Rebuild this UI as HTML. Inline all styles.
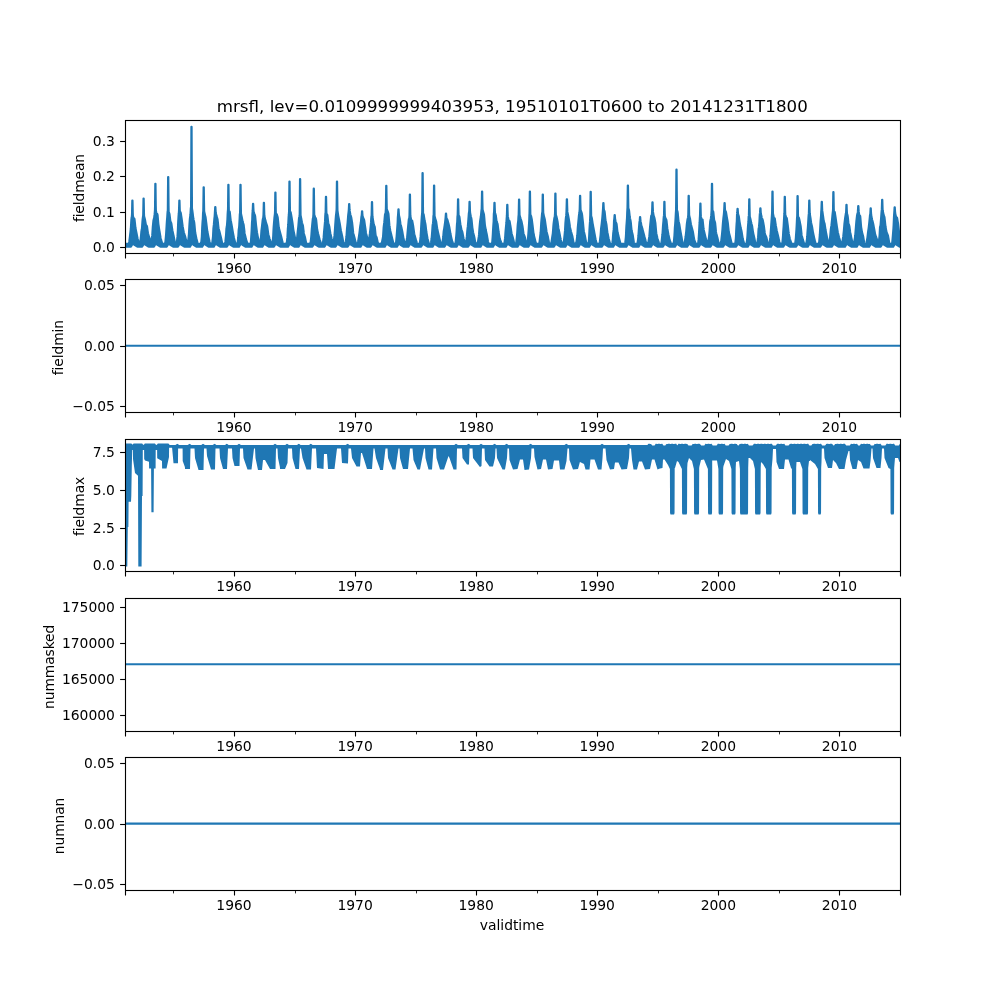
<!DOCTYPE html>
<html><head><meta charset="utf-8"><title>mrsfl</title>
<style>html,body{margin:0;padding:0;background:#fff}svg text{font-family:"DejaVu Sans", "Liberation Sans", sans-serif;fill:#000}</style>
</head><body>
<svg width="1000" height="1000" viewBox="0 0 1000 1000" style="display:block">
<rect width="1000" height="1000" fill="#fff"/>
<g clip-path="url(#c0)">
<clipPath id="c0"><rect x="125.0" y="120.00" width="775.0" height="132.76"/></clipPath>
<polygon points="125.00,243.91 125.20,243.91 125.40,243.91 125.60,243.91 125.80,243.91 126.00,243.91 126.20,243.91 126.40,243.91 126.60,243.91 126.80,243.91 127.00,243.91 127.20,243.91 127.40,243.91 127.60,243.91 127.80,243.91 128.00,243.91 128.20,243.91 128.40,243.84 128.60,243.54 128.80,243.24 129.00,242.94 129.20,241.89 129.40,240.37 129.60,238.84 129.80,237.32 130.00,235.68 130.20,233.98 130.40,232.25 130.60,230.48 130.80,228.71 131.00,225.45 131.20,222.10 131.40,218.89 131.60,218.10 131.80,216.56 131.95,214.84 132.00,213.57 132.20,204.31 132.28,200.61 132.40,200.61 132.52,200.61 132.60,204.12 132.80,212.89 132.90,215.34 133.00,215.86 133.20,216.89 133.40,217.93 133.60,218.97 133.80,219.11 134.00,218.94 134.20,218.77 134.40,218.60 134.60,219.63 134.80,221.55 135.00,223.47 135.20,225.38 135.40,227.30 135.60,228.40 135.80,229.39 136.00,230.37 136.20,231.36 136.40,232.36 136.60,233.39 136.80,234.42 137.00,235.45 137.20,236.47 137.40,237.50 137.60,238.53 137.80,239.26 138.00,239.97 138.20,240.67 138.40,241.38 138.60,242.08 138.80,242.79 139.00,243.21 139.20,243.51 139.40,243.79 139.60,243.55 139.80,243.31 140.00,243.07 140.20,242.02 140.40,240.54 140.60,239.06 140.80,237.58 141.00,235.70 141.20,233.31 141.40,231.11 141.60,230.20 141.80,229.29 142.00,227.51 142.20,224.61 142.40,221.72 142.60,219.37 142.80,217.93 143.00,216.51 143.15,215.45 143.20,214.12 143.40,202.96 143.48,198.50 143.60,198.50 143.72,198.50 143.80,202.70 144.00,213.19 144.10,216.01 144.20,216.40 144.40,217.19 144.60,217.98 144.80,218.77 145.00,219.56 145.20,220.70 145.40,221.84 145.60,222.98 145.80,224.12 146.00,224.96 146.20,225.21 146.40,225.45 146.60,225.70 146.80,225.95 147.00,226.29 147.20,227.71 147.40,229.13 147.60,230.55 147.80,231.98 148.00,233.40 148.20,234.16 148.40,234.78 148.60,235.41 148.80,236.03 149.00,236.65 149.20,237.28 149.40,237.90 149.60,238.57 149.80,239.25 150.00,239.93 150.20,240.61 150.40,241.29 150.60,241.97 150.80,242.65 151.00,242.41 151.20,241.98 151.40,240.76 151.60,239.48 151.80,238.21 152.00,236.94 152.20,235.67 152.40,232.67 152.60,229.56 152.80,226.66 153.00,224.63 153.20,222.60 153.40,220.59 153.60,219.85 153.80,219.11 154.00,218.38 154.20,217.32 154.40,215.74 154.60,214.15 154.80,211.83 154.95,209.55 155.00,207.40 155.20,190.48 155.28,183.72 155.40,183.72 155.52,183.72 155.60,190.03 155.80,205.83 155.90,210.08 156.00,210.69 156.20,211.91 156.40,213.14 156.60,214.36 156.80,214.60 157.00,214.43 157.20,214.26 157.40,214.10 157.60,215.15 157.80,217.37 158.00,219.59 158.20,221.81 158.40,224.03 158.60,225.50 158.80,226.78 159.00,228.05 159.20,229.33 159.40,230.60 159.60,231.77 159.80,232.95 160.00,234.12 160.20,235.30 160.40,236.47 160.60,237.65 160.80,238.49 161.00,239.24 161.20,239.98 161.40,240.73 161.60,241.48 161.80,242.23 162.00,242.75 162.20,243.04 162.40,243.32 162.60,243.61 162.80,243.82 163.00,243.85 163.20,243.88 163.40,243.91 163.60,243.91 163.80,243.91 164.00,243.91 164.20,243.91 164.40,243.91 164.60,243.91 164.80,243.66 165.00,243.19 165.20,242.71 165.40,241.58 165.60,239.42 165.80,237.25 166.00,235.09 166.20,232.01 166.40,228.87 166.60,225.46 166.80,222.06 167.00,219.61 167.20,217.28 167.40,214.03 167.60,211.42 167.75,211.07 167.80,208.74 168.00,186.09 168.08,177.03 168.20,177.03 168.32,177.03 168.40,185.42 168.60,206.41 168.70,211.79 168.80,212.07 169.00,212.62 169.20,213.16 169.40,213.71 169.60,214.71 169.80,216.31 170.00,217.91 170.20,219.51 170.40,221.07 170.60,221.56 170.80,222.04 171.00,222.52 171.20,223.01 171.40,223.58 171.60,224.93 171.80,226.29 172.00,227.64 172.20,229.00 172.40,230.28 172.60,231.20 172.80,232.11 173.00,233.03 173.20,233.95 173.40,234.87 173.60,235.79 173.80,236.75 174.00,237.75 174.20,238.75 174.40,239.74 174.60,240.74 174.80,241.74 175.00,242.72 175.20,243.01 175.40,243.29 175.60,243.58 175.80,243.86 176.00,243.91 176.20,243.91 176.40,243.60 176.60,243.04 176.80,242.48 177.00,240.84 177.20,238.89 177.40,236.94 177.60,234.22 177.80,231.09 178.00,226.11 178.20,221.33 178.40,218.19 178.60,215.06 178.80,213.21 178.95,210.90 179.00,209.79 179.20,203.23 179.28,200.61 179.40,200.61 179.52,200.61 179.60,203.16 179.80,209.51 179.90,211.19 180.00,211.38 180.20,211.75 180.40,212.12 180.60,212.49 180.80,212.91 181.00,214.24 181.20,215.56 181.40,216.88 181.60,218.20 181.80,219.60 182.00,221.10 182.20,222.60 182.40,224.10 182.60,225.60 182.80,227.00 183.00,228.06 183.20,229.12 183.40,230.18 183.60,231.24 183.80,232.30 184.00,232.91 184.20,233.51 184.40,234.11 184.60,234.72 184.80,235.32 185.00,235.92 185.20,236.54 185.40,237.36 185.60,238.17 185.80,238.99 186.00,239.81 186.20,240.63 186.40,241.44 186.60,242.22 186.80,242.59 187.00,242.97 187.20,243.35 187.40,243.52 187.60,242.97 187.80,242.42 188.00,241.86 188.20,240.40 188.40,238.85 188.60,237.30 188.80,235.75 189.00,232.39 189.20,228.43 189.40,224.98 189.60,222.10 189.80,219.21 190.00,217.54 190.20,216.12 190.40,214.70 190.60,211.54 190.80,207.95 191.00,207.47 191.05,207.34 191.20,175.04 191.38,126.69 191.40,126.69 191.60,126.69 191.62,126.69 191.80,171.04 192.00,208.32 192.20,209.64 192.40,210.97 192.60,212.29 192.80,213.86 193.00,215.51 193.20,217.17 193.40,218.82 193.60,219.72 193.80,220.53 194.00,221.33 194.20,222.13 194.40,223.73 194.60,225.95 194.80,228.17 195.00,230.39 195.20,232.32 195.40,233.33 195.60,234.34 195.80,235.35 196.00,236.35 196.20,237.36 196.40,238.28 196.60,239.09 196.80,239.90 197.00,240.71 197.20,241.52 197.40,242.34 197.60,242.78 197.80,243.06 198.00,243.35 198.20,243.63 198.40,243.74 198.60,243.83 198.80,243.91 199.00,243.91 199.20,243.91 199.40,243.91 199.60,243.91 199.80,243.91 200.00,243.91 200.20,243.91 200.40,243.91 200.60,243.91 200.80,243.71 201.00,243.01 201.20,242.31 201.40,240.78 201.60,238.81 201.80,236.83 202.00,232.28 202.20,227.15 202.40,223.77 202.60,220.88 202.80,219.07 203.00,213.24 203.20,211.24 203.25,210.74 203.40,201.16 203.58,187.24 203.60,187.24 203.80,187.24 203.82,187.24 204.00,200.25 204.20,211.33 204.40,212.24 204.60,213.15 204.80,214.05 205.00,214.88 205.20,215.69 205.40,216.49 205.60,217.29 205.80,218.84 206.00,220.48 206.20,222.11 206.40,223.75 206.60,225.36 206.80,226.95 207.00,228.55 207.20,230.14 207.40,231.58 207.60,232.57 207.80,233.56 208.00,234.55 208.20,235.54 208.40,236.53 208.60,237.47 208.80,238.34 209.00,239.21 209.20,240.08 209.40,240.95 209.60,241.83 209.80,242.42 210.00,242.90 210.20,243.38 210.40,243.86 210.60,243.91 210.80,243.91 211.00,243.91 211.20,243.91 211.40,243.91 211.60,243.87 211.80,243.56 212.00,243.26 212.20,242.96 212.40,241.57 212.60,239.92 212.80,238.27 213.00,236.25 213.20,232.07 213.40,228.28 213.60,226.61 213.80,224.94 214.00,222.68 214.20,220.28 214.40,218.03 214.60,216.59 214.80,213.46 214.85,212.67 215.00,210.10 215.18,206.95 215.20,206.95 215.40,206.95 215.42,206.95 215.60,210.16 215.80,213.03 216.00,213.81 216.20,214.60 216.40,215.38 216.60,216.17 216.80,216.84 217.00,217.46 217.20,218.09 217.40,218.72 217.60,219.58 217.80,221.38 218.00,223.19 218.20,224.99 218.40,226.80 218.60,228.48 218.80,229.16 219.00,229.85 219.20,230.53 219.40,231.22 219.60,231.91 219.80,232.73 220.00,233.56 220.20,234.38 220.40,235.21 220.60,236.03 220.80,236.85 221.00,237.70 221.20,238.60 221.40,239.51 221.60,240.42 221.80,241.32 222.00,242.23 222.20,243.14 222.40,243.67 222.60,243.76 222.80,243.86 223.00,243.91 223.20,243.91 223.40,243.91 223.60,243.91 223.80,243.91 224.00,243.91 224.20,243.91 224.40,243.91 224.60,243.86 224.80,243.45 225.00,243.05 225.20,242.65 225.40,241.14 225.60,239.17 225.80,237.20 226.00,235.24 226.20,231.99 226.40,228.67 226.60,227.47 226.80,226.49 227.00,224.65 227.20,222.00 227.40,219.35 227.60,214.59 227.80,211.23 227.95,210.18 228.00,208.29 228.20,191.49 228.28,184.77 228.40,184.77 228.52,184.77 228.60,191.04 228.80,206.72 228.90,210.69 229.00,210.79 229.20,211.00 229.40,211.20 229.60,211.41 229.80,212.06 230.00,213.88 230.20,215.70 230.40,217.52 230.60,219.35 230.80,220.53 231.00,221.56 231.20,222.60 231.40,223.63 231.60,224.66 231.80,225.83 232.00,227.04 232.20,228.25 232.40,229.46 232.60,230.68 232.80,231.77 233.00,232.82 233.20,233.86 233.40,234.91 233.60,235.95 233.80,237.00 234.00,238.05 234.20,238.77 234.40,239.50 234.60,240.23 234.80,240.96 235.00,241.68 235.20,242.41 235.40,242.99 235.60,243.21 235.80,243.42 236.00,243.63 236.20,243.84 236.40,243.89 236.60,243.90 236.80,243.90 237.00,243.82 237.20,243.50 237.40,243.18 237.60,242.72 237.80,240.98 238.00,239.24 238.20,237.49 238.40,234.50 238.60,230.70 238.80,228.91 239.00,227.99 239.20,225.81 239.40,222.27 239.60,218.74 239.80,214.24 240.00,213.10 240.05,212.82 240.20,201.50 240.38,184.77 240.40,184.77 240.60,184.77 240.62,184.77 240.80,200.32 241.00,213.50 241.20,214.43 241.40,215.35 241.60,216.28 241.80,217.20 242.00,218.23 242.20,219.27 242.40,220.31 242.60,221.35 242.80,222.16 243.00,222.75 243.20,223.35 243.40,223.94 243.60,224.53 243.80,225.77 244.00,227.51 244.20,229.24 244.40,230.98 244.60,232.71 244.80,233.91 245.00,234.79 245.20,235.66 245.40,236.54 245.60,237.41 245.80,238.28 246.00,239.15 246.20,239.75 246.40,240.36 246.60,240.96 246.80,241.56 247.00,242.16 247.20,242.76 247.40,243.20 247.60,243.43 247.80,243.65 248.00,243.88 248.20,243.91 248.40,243.91 248.60,243.91 248.80,243.91 249.00,243.91 249.20,243.91 249.40,243.91 249.60,243.91 249.80,243.91 250.00,243.91 250.20,243.91 250.40,243.64 250.60,243.12 250.80,242.56 251.00,239.80 251.20,237.04 251.40,234.10 251.60,230.70 251.80,226.35 252.00,221.74 252.20,220.22 252.40,213.86 252.60,211.51 252.65,210.93 252.80,207.86 252.98,203.78 253.00,203.78 253.20,203.78 253.22,203.78 253.40,207.85 253.60,211.39 253.80,212.03 254.00,212.67 254.20,213.31 254.40,213.91 254.60,214.42 254.80,214.93 255.00,215.44 255.20,216.25 255.40,218.28 255.60,220.32 255.80,222.35 256.00,224.39 256.20,226.17 256.40,227.75 256.60,229.33 256.80,230.90 257.00,232.48 257.20,233.55 257.40,234.57 257.60,235.59 257.80,236.61 258.00,237.63 258.20,238.65 258.40,239.37 258.60,239.99 258.80,240.61 259.00,241.22 259.20,241.84 259.40,242.46 259.60,242.90 259.80,243.19 260.00,243.10 260.20,241.91 260.40,240.73 260.60,239.54 260.80,238.35 261.00,236.48 261.20,233.70 261.40,230.92 261.60,229.17 261.80,227.56 262.00,225.96 262.20,224.12 262.40,222.26 262.60,220.39 262.80,219.09 263.00,218.43 263.20,217.76 263.40,215.72 263.45,215.20 263.60,210.03 263.78,202.72 263.80,202.72 264.00,202.72 264.02,202.72 264.20,209.68 264.40,215.72 264.60,216.69 264.80,217.66 265.00,218.63 265.20,219.60 265.40,220.40 265.60,221.06 265.80,221.71 266.00,222.37 266.20,223.02 266.40,223.64 266.60,224.25 266.80,224.86 267.00,225.48 267.20,226.09 267.40,227.31 267.60,228.82 267.80,230.33 268.00,231.84 268.20,233.34 268.40,234.48 268.60,235.19 268.80,235.91 269.00,236.62 269.20,237.34 269.40,238.05 269.60,238.77 269.80,239.43 270.00,240.04 270.20,240.65 270.40,241.26 270.60,241.87 270.80,242.48 271.00,243.09 271.20,243.47 271.40,243.67 271.60,243.86 271.80,243.82 272.00,243.56 272.20,243.29 272.40,242.95 272.60,241.48 272.80,240.01 273.00,238.54 273.20,235.70 273.40,231.22 273.60,227.71 273.80,225.17 274.00,222.65 274.20,220.22 274.40,217.78 274.60,216.08 274.80,214.51 274.95,213.05 275.00,211.41 275.20,197.91 275.28,192.52 275.40,192.52 275.52,192.52 275.60,197.57 275.80,210.22 275.90,213.43 276.00,213.52 276.20,213.71 276.40,213.90 276.60,214.08 276.80,214.27 277.00,214.90 277.20,215.57 277.40,216.24 277.60,216.91 277.80,217.83 278.00,219.76 278.20,221.69 278.40,223.63 278.60,225.56 278.80,227.49 279.00,228.37 279.20,229.12 279.40,229.87 279.60,230.62 279.80,231.37 280.00,232.11 280.20,232.85 280.40,233.59 280.60,234.33 280.80,235.07 281.00,235.80 281.20,236.54 281.40,237.33 281.60,238.15 281.80,238.98 282.00,239.81 282.20,240.64 282.40,241.47 282.60,242.29 282.80,242.89 283.00,243.17 283.20,243.45 283.40,243.73 283.60,243.91 283.80,243.91 284.00,243.91 284.20,243.91 284.40,243.91 284.60,243.91 284.80,243.91 285.00,243.91 285.20,243.91 285.40,243.91 285.60,243.91 285.80,243.91 286.00,243.91 286.20,243.85 286.40,243.45 286.60,243.05 286.80,242.41 287.00,240.66 287.20,238.90 287.40,237.15 287.60,233.05 287.80,228.97 288.00,226.86 288.20,224.68 288.40,220.80 288.60,216.91 288.80,214.95 289.00,211.75 289.05,210.95 289.20,198.93 289.38,181.60 289.40,181.60 289.60,181.60 289.62,181.60 289.80,197.71 290.00,211.21 290.20,211.52 290.40,211.82 290.60,212.13 290.80,212.67 291.00,213.81 291.20,214.95 291.40,216.09 291.60,217.25 291.80,218.47 292.00,219.69 292.20,220.91 292.40,222.14 292.60,223.53 292.80,225.11 293.00,226.69 293.20,228.27 293.40,229.85 293.60,230.91 293.80,231.86 294.00,232.81 294.20,233.76 294.40,234.71 294.60,235.66 294.80,236.68 295.00,237.75 295.20,238.81 295.40,239.88 295.60,240.95 295.80,242.02 296.00,242.77 296.20,243.08 296.40,242.50 296.60,241.08 296.80,239.65 297.00,238.23 297.20,236.81 297.40,234.75 297.60,232.60 297.80,230.67 298.00,229.02 298.20,227.36 298.40,225.26 298.60,222.78 298.80,220.31 299.00,218.23 299.20,217.32 299.40,216.40 299.60,215.01 299.65,214.67 299.80,200.33 299.98,179.14 300.00,179.14 300.20,179.14 300.22,179.14 300.40,198.72 300.60,215.29 300.80,216.28 301.00,217.27 301.20,218.26 301.40,219.29 301.60,220.37 301.80,221.45 302.00,222.53 302.20,223.34 302.40,223.94 302.60,224.54 302.80,225.14 303.00,225.86 303.20,227.56 303.40,229.27 303.60,230.98 303.80,232.68 304.00,233.76 304.20,234.48 304.40,235.20 304.60,235.91 304.80,236.63 305.00,237.35 305.20,238.25 305.40,239.22 305.60,240.20 305.80,241.18 306.00,242.16 306.20,243.14 306.40,243.56 306.60,243.77 306.80,243.91 307.00,243.91 307.20,243.91 307.40,243.91 307.60,243.91 307.80,243.91 308.00,243.91 308.20,243.91 308.40,243.91 308.60,243.91 308.80,243.91 309.00,243.91 309.20,243.91 309.40,243.91 309.60,243.91 309.80,243.89 310.00,243.69 310.20,243.48 310.40,243.28 310.60,242.30 310.80,240.55 311.00,238.80 311.20,237.05 311.40,234.59 311.60,231.57 311.80,228.92 312.00,226.81 312.20,224.70 312.40,222.67 312.60,220.66 312.80,218.68 313.00,218.43 313.20,216.82 313.35,214.59 313.40,212.44 313.60,195.44 313.68,188.64 313.80,188.64 313.92,188.64 314.00,194.97 314.20,210.78 314.30,214.86 314.40,215.12 314.60,215.62 314.80,216.13 315.00,216.63 315.20,217.13 315.40,217.55 315.60,217.97 315.80,218.39 316.00,218.81 316.20,219.94 316.40,221.91 316.60,223.89 316.80,225.86 317.00,227.84 317.20,229.52 317.40,230.40 317.60,231.28 317.80,232.15 318.00,233.03 318.20,233.90 318.40,234.67 318.60,235.45 318.80,236.22 319.00,236.99 319.20,237.77 319.40,238.54 319.60,239.28 319.80,239.85 320.00,240.42 320.20,240.98 320.40,241.55 320.60,242.12 320.80,242.69 321.00,243.18 321.20,243.42 321.40,243.65 321.60,243.88 321.80,243.91 322.00,243.91 322.20,243.86 322.40,243.66 322.60,243.45 322.80,243.25 323.00,242.05 323.20,240.58 323.40,239.11 323.60,237.63 323.80,234.97 324.00,232.30 324.20,230.18 324.40,228.09 324.60,225.91 324.80,223.66 325.00,221.41 325.20,216.42 325.40,213.35 325.55,212.99 325.60,211.84 325.80,201.05 325.88,196.74 326.00,196.74 326.12,196.74 326.20,200.81 326.40,210.99 326.50,213.61 326.60,213.76 326.80,214.05 327.00,214.35 327.20,214.64 327.40,215.14 327.60,216.89 327.80,218.64 328.00,220.39 328.20,222.15 328.40,223.30 328.60,223.98 328.80,224.66 329.00,225.35 329.20,226.03 329.40,226.97 329.60,228.29 329.80,229.61 330.00,230.92 330.20,232.24 330.40,233.42 330.60,234.23 330.80,235.04 331.00,235.85 331.20,236.65 331.40,237.46 331.60,238.27 331.80,239.02 332.00,239.67 332.20,240.33 332.40,240.98 332.60,241.64 332.80,242.29 333.00,242.95 333.20,243.29 333.40,242.95 333.60,242.48 333.80,240.85 334.00,239.23 334.20,237.60 334.40,235.96 334.60,233.58 334.80,231.20 335.00,228.27 335.20,225.19 335.40,222.20 335.60,219.67 335.80,217.14 336.00,214.82 336.20,213.34 336.40,211.45 336.55,209.73 336.60,207.53 336.80,189.01 336.88,181.60 337.00,181.60 337.12,181.60 337.20,188.50 337.40,205.75 337.50,210.42 337.60,211.12 337.80,212.53 338.00,213.94 338.20,215.35 338.40,216.44 338.60,217.42 338.80,218.41 339.00,219.39 339.20,220.45 339.40,221.57 339.60,222.68 339.80,223.80 340.00,224.91 340.20,226.12 340.40,227.34 340.60,228.56 340.80,229.79 341.00,230.92 341.20,231.79 341.40,232.66 341.60,233.53 341.80,234.40 342.00,235.27 342.20,236.14 342.40,237.21 342.60,238.29 342.80,239.36 343.00,240.43 343.20,241.51 343.40,242.58 343.60,243.03 343.80,243.26 344.00,243.50 344.20,243.74 344.40,243.85 344.60,243.87 344.80,243.90 345.00,243.79 345.20,243.41 345.40,243.04 345.60,242.66 345.80,241.64 346.00,240.00 346.20,238.37 346.40,236.73 346.60,234.59 346.80,231.41 347.00,228.30 347.20,226.51 347.40,224.73 347.60,222.61 347.80,219.94 348.00,217.28 348.20,214.96 348.40,213.35 348.60,211.53 348.75,210.00 348.80,209.33 349.00,205.62 349.08,204.13 349.20,204.13 349.32,204.13 349.40,205.64 349.60,209.43 349.70,210.66 349.80,211.23 350.00,212.38 350.20,213.53 350.40,214.68 350.60,215.46 350.80,216.04 351.00,216.62 351.20,217.19 351.40,218.05 351.60,219.30 351.80,220.55 352.00,221.80 352.20,223.04 352.40,224.77 352.60,226.73 352.80,228.70 353.00,230.67 353.20,232.64 353.40,233.51 353.60,234.25 353.80,235.00 354.00,235.75 354.20,236.50 354.40,237.25 354.60,238.04 354.80,238.86 355.00,239.68 355.20,240.51 355.40,241.33 355.60,242.15 355.80,242.86 356.00,243.11 356.20,243.36 356.40,243.61 356.60,243.86 356.80,243.88 357.00,243.85 357.20,243.58 357.40,243.31 357.60,243.04 357.80,242.78 358.00,241.94 358.20,240.75 358.40,239.57 358.60,238.38 358.80,237.19 359.00,235.88 359.20,234.46 359.40,233.04 359.60,231.31 359.80,229.51 360.00,227.71 360.20,226.28 360.40,225.11 360.60,223.93 360.80,222.76 361.00,220.75 361.20,218.69 361.40,216.62 361.60,215.78 361.65,215.57 361.80,213.73 361.98,211.17 362.00,211.17 362.20,211.17 362.22,211.17 362.40,213.81 362.60,216.14 362.80,216.67 363.00,217.20 363.20,217.73 363.40,218.23 363.60,218.68 363.80,219.13 364.00,219.57 364.20,220.08 364.40,221.50 364.60,222.91 364.80,224.33 365.00,225.74 365.20,227.14 365.40,228.52 365.60,229.90 365.80,231.28 366.00,232.66 366.20,233.64 366.40,234.42 366.60,235.21 366.80,235.99 367.00,236.77 367.20,237.55 367.40,238.36 367.60,239.19 367.80,240.02 368.00,240.85 368.20,241.68 368.40,242.52 368.60,243.19 368.80,241.58 369.00,239.97 369.20,238.37 369.40,236.76 369.60,235.35 369.80,233.94 370.00,232.20 370.20,230.38 370.40,228.52 370.60,226.52 370.80,224.51 371.00,222.16 371.20,218.44 371.40,216.25 371.55,215.75 371.60,214.74 371.80,205.65 371.88,202.02 372.00,202.02 372.12,202.02 372.20,205.46 372.40,214.06 372.50,216.52 372.60,217.13 372.80,218.36 373.00,219.59 373.20,220.82 373.40,222.07 373.60,223.32 373.80,224.56 374.00,225.36 374.20,225.67 374.40,225.98 374.60,226.30 374.80,226.95 375.00,228.91 375.20,230.86 375.40,232.81 375.60,234.77 375.80,235.37 376.00,235.86 376.20,236.35 376.40,236.85 376.60,237.34 376.80,237.93 377.00,238.87 377.20,239.81 377.40,240.76 377.60,241.70 377.80,242.64 378.00,243.26 378.20,243.58 378.40,243.91 378.60,243.91 378.80,243.91 379.00,243.91 379.20,243.91 379.40,243.91 379.60,243.91 379.80,243.91 380.00,243.91 380.20,243.91 380.40,243.91 380.60,243.91 380.80,243.91 381.00,243.91 381.20,243.72 381.40,243.27 381.60,242.83 381.80,242.39 382.00,241.95 382.20,241.01 382.40,239.96 382.60,238.91 382.80,237.85 383.00,236.80 383.20,234.17 383.40,230.91 383.60,227.64 383.80,225.92 384.00,224.32 384.20,222.72 384.40,220.74 384.60,218.58 384.80,216.42 385.00,214.27 385.20,213.76 385.40,213.28 385.60,212.80 385.80,209.61 385.85,208.81 386.00,199.33 386.18,185.83 386.20,185.83 386.40,185.83 386.42,185.83 386.60,198.48 386.80,209.15 387.00,209.64 387.20,210.14 387.40,210.63 387.60,211.12 387.80,211.67 388.00,212.22 388.20,212.78 388.40,213.33 388.60,214.98 388.80,217.53 389.00,220.07 389.20,222.62 389.40,225.16 389.60,226.78 389.80,227.84 390.00,228.90 390.20,229.96 390.40,231.03 390.60,231.92 390.80,232.73 391.00,233.55 391.20,234.36 391.40,235.18 391.60,235.99 391.80,236.81 392.00,237.61 392.20,238.42 392.40,239.22 392.60,240.02 392.80,240.83 393.00,241.63 393.20,242.21 393.40,242.62 393.60,243.02 393.80,243.43 394.00,243.77 394.20,243.81 394.40,243.86 394.60,243.90 394.80,243.91 395.00,243.91 395.20,243.91 395.40,243.91 395.60,243.66 395.80,243.25 396.00,242.84 396.20,240.84 396.40,238.71 396.60,236.57 396.80,233.77 397.00,230.99 397.20,228.34 397.40,225.61 397.60,222.79 397.80,217.34 398.00,215.28 398.05,214.77 398.20,212.44 398.38,209.41 398.40,209.41 398.60,209.41 398.62,209.41 398.80,212.49 399.00,215.26 399.20,216.13 399.40,216.99 399.60,217.86 399.80,218.95 400.00,220.35 400.20,221.75 400.40,223.15 400.60,224.30 400.80,225.03 401.00,225.76 401.20,226.50 401.40,227.23 401.60,228.14 401.80,229.10 402.00,230.05 402.20,231.00 402.40,232.01 402.60,233.18 402.80,234.34 403.00,235.51 403.20,236.68 403.40,237.85 403.60,238.92 403.80,239.59 404.00,240.26 404.20,240.93 404.40,241.60 404.60,242.26 404.80,242.89 405.00,243.23 405.20,243.57 405.40,243.91 405.60,243.70 405.80,243.43 406.00,243.16 406.20,242.89 406.40,241.82 406.60,240.53 406.80,239.25 407.00,237.96 407.20,236.27 407.40,234.03 407.60,231.79 407.80,229.66 408.00,227.54 408.20,225.42 408.40,223.32 408.60,221.21 408.80,219.23 409.00,218.96 409.20,218.68 409.40,216.16 409.45,215.53 409.60,206.94 409.78,194.63 409.80,194.63 410.00,194.63 410.02,194.63 410.20,206.14 410.40,215.98 410.60,217.01 410.80,218.03 411.00,219.05 411.20,220.08 411.40,220.44 411.60,220.47 411.80,220.51 412.00,220.54 412.20,220.69 412.40,221.72 412.60,222.76 412.80,223.80 413.00,224.83 413.20,225.87 413.40,227.34 413.60,228.82 413.80,230.30 414.00,231.78 414.20,233.26 414.40,234.15 414.60,234.94 414.80,235.73 415.00,236.52 415.20,237.31 415.40,238.10 415.60,238.89 415.80,239.49 416.00,240.09 416.20,240.69 416.40,241.29 416.60,241.89 416.80,242.49 417.00,243.03 417.20,243.32 417.40,243.61 417.60,243.89 417.80,243.91 418.00,243.91 418.20,243.91 418.40,243.91 418.60,243.91 418.80,243.91 419.00,243.91 419.20,243.91 419.40,243.75 419.60,243.29 419.80,242.83 420.00,241.80 420.20,240.02 420.40,238.23 420.60,236.17 420.80,233.10 421.00,229.70 421.20,225.93 421.40,222.43 421.60,219.29 421.80,216.29 422.00,214.31 422.15,212.55 422.20,209.59 422.40,183.57 422.48,173.16 422.60,173.16 422.72,173.16 422.80,182.77 423.00,206.81 423.10,212.97 423.20,213.25 423.40,213.82 423.60,214.38 423.80,214.95 424.00,216.29 424.20,217.62 424.40,218.96 424.60,220.29 424.80,221.17 425.00,222.05 425.20,222.93 425.40,223.81 425.60,225.11 425.80,226.84 426.00,228.56 426.20,230.28 426.40,232.00 426.60,233.12 426.80,234.25 427.00,235.38 427.20,236.50 427.40,237.63 427.60,238.76 427.80,239.53 428.00,240.30 428.20,241.07 428.40,241.84 428.60,242.62 428.80,243.38 429.00,243.55 429.20,243.72 429.40,243.89 429.60,243.91 429.80,243.91 430.00,243.91 430.20,243.91 430.40,243.76 430.60,243.58 430.80,243.41 431.00,242.75 431.20,241.24 431.40,239.74 431.60,238.23 431.80,236.17 432.00,233.70 432.20,230.99 432.40,228.04 432.60,225.26 432.80,224.19 433.00,223.13 433.20,220.77 433.40,215.78 433.60,215.37 433.65,215.27 433.80,203.32 433.98,185.48 434.00,185.48 434.20,185.48 434.22,185.48 434.40,202.01 434.60,215.97 434.80,216.70 435.00,217.44 435.20,218.17 435.40,218.89 435.60,219.55 435.80,220.21 436.00,220.87 436.20,221.56 436.40,222.93 436.60,224.31 436.80,225.68 437.00,227.05 437.20,228.29 437.40,229.25 437.60,230.21 437.80,231.17 438.00,232.13 438.20,233.01 438.40,233.84 438.60,234.66 438.80,235.49 439.00,236.31 439.20,237.14 439.40,237.99 439.60,238.87 439.80,239.75 440.00,240.63 440.20,241.52 440.40,242.40 440.60,243.23 440.80,243.49 441.00,243.75 441.20,243.91 441.40,243.91 441.60,243.81 441.80,243.67 442.00,243.54 442.20,243.40 442.40,242.50 442.60,241.18 442.80,239.86 443.00,238.53 443.20,237.00 443.40,234.49 443.60,231.98 443.80,230.53 444.00,229.44 444.20,228.34 444.40,226.99 444.60,225.63 444.80,224.26 445.00,222.77 445.20,221.22 445.40,219.38 445.55,217.77 445.60,217.19 445.80,214.52 445.88,213.46 446.00,213.46 446.12,213.46 446.20,214.56 446.40,217.30 446.50,218.08 446.60,218.26 446.80,218.63 447.00,219.00 447.20,219.37 447.40,219.75 447.60,220.42 447.80,221.09 448.00,221.77 448.20,222.44 448.40,223.17 448.60,224.00 448.80,224.83 449.00,225.67 449.20,226.50 449.40,227.37 449.60,228.56 449.80,229.74 450.00,230.93 450.20,232.12 450.40,233.30 450.60,234.28 450.80,235.22 451.00,236.16 451.20,237.11 451.40,238.05 451.60,239.00 451.80,239.94 452.00,240.54 452.20,241.10 452.40,241.65 452.60,242.21 452.80,242.77 453.00,243.32 453.20,243.88 453.40,243.91 453.60,243.91 453.80,243.91 454.00,243.91 454.20,243.91 454.40,243.91 454.60,243.91 454.80,243.91 455.00,243.91 455.20,243.55 455.40,243.06 455.60,242.56 455.80,240.39 456.00,238.21 456.20,236.04 456.40,233.73 456.60,230.70 456.80,226.49 457.00,223.57 457.20,222.06 457.40,216.95 457.60,215.07 457.65,214.60 457.80,208.27 457.98,199.20 458.00,199.20 458.20,199.20 458.22,199.20 458.40,207.77 458.60,215.01 458.80,215.43 459.00,215.85 459.20,216.27 459.40,216.69 459.60,217.97 459.80,219.55 460.00,221.13 460.20,222.70 460.40,224.16 460.60,225.20 460.80,226.24 461.00,227.28 461.20,228.32 461.40,229.28 461.60,229.85 461.80,230.43 462.00,231.00 462.20,231.57 462.40,232.19 462.60,233.24 462.80,234.29 463.00,235.34 463.20,236.38 463.40,237.43 463.60,238.48 463.80,239.38 464.00,240.00 464.20,240.63 464.40,241.26 464.60,241.88 464.80,242.51 465.00,243.13 465.20,243.50 465.40,243.59 465.60,243.30 465.80,243.00 466.00,242.56 466.20,241.09 466.40,239.61 466.60,238.13 466.80,236.66 467.00,234.29 467.20,231.68 467.40,229.52 467.60,227.97 467.80,226.43 468.00,224.15 468.20,221.51 468.40,218.86 468.60,216.24 468.80,213.65 469.00,212.08 469.15,211.66 469.20,210.92 469.40,204.31 469.48,201.67 469.60,201.67 469.72,201.67 469.80,204.23 470.00,210.62 470.10,212.49 470.20,213.03 470.40,214.11 470.60,215.19 470.80,216.19 471.00,216.97 471.20,217.76 471.40,218.55 471.60,219.93 471.80,221.94 472.00,223.95 472.20,225.96 472.40,227.81 472.60,229.04 472.80,230.27 473.00,231.49 473.20,232.72 473.40,233.52 473.60,234.29 473.80,235.05 474.00,235.82 474.20,236.58 474.40,237.41 474.60,238.52 474.80,239.62 475.00,240.72 475.20,241.83 475.40,242.93 475.60,243.55 475.80,243.69 476.00,243.83 476.20,243.91 476.40,243.91 476.60,243.91 476.80,243.91 477.00,243.91 477.20,243.51 477.40,243.04 477.60,242.56 477.80,242.08 478.00,241.38 478.20,240.15 478.40,238.92 478.60,237.70 478.80,236.47 479.00,234.67 479.20,231.68 479.40,228.70 479.60,226.27 479.80,224.20 480.00,222.13 480.20,220.45 480.40,219.23 480.60,218.01 480.80,216.79 481.00,214.85 481.20,212.76 481.40,210.66 481.60,209.22 481.65,208.86 481.80,201.77 481.98,191.46 482.00,191.46 482.20,191.46 482.22,191.46 482.40,201.21 482.60,209.51 482.80,210.25 483.00,210.98 483.20,211.71 483.40,212.43 483.60,213.15 483.80,213.87 484.00,214.59 484.20,216.56 484.40,218.93 484.60,221.30 484.80,223.67 485.00,225.56 485.20,226.62 485.40,227.69 485.60,228.75 485.80,229.82 486.00,230.74 486.20,231.67 486.40,232.60 486.60,233.52 486.80,234.45 487.00,235.41 487.20,236.62 487.40,237.82 487.60,239.03 487.80,240.23 488.00,241.44 488.20,242.40 488.40,242.78 488.60,243.17 488.80,243.55 489.00,243.80 489.20,243.84 489.40,243.89 489.60,243.91 489.80,243.91 490.00,243.91 490.20,243.91 490.40,243.91 490.60,243.91 490.80,243.91 491.00,243.91 491.20,243.91 491.40,243.91 491.60,243.91 491.80,243.60 492.00,243.14 492.20,242.38 492.40,239.86 492.60,237.34 492.80,234.26 493.00,230.21 493.20,227.04 493.40,224.08 493.60,221.85 493.80,213.92 494.00,212.52 494.05,212.17 494.20,208.26 494.38,202.72 494.40,202.72 494.60,202.72 494.62,202.72 494.80,208.10 495.00,212.74 495.20,213.34 495.40,213.94 495.60,214.54 495.80,215.19 496.00,216.71 496.20,218.23 496.40,219.76 496.60,221.28 496.80,222.00 497.00,222.47 497.20,222.94 497.40,223.41 497.60,223.88 497.80,225.41 498.00,227.01 498.20,228.61 498.40,230.21 498.60,231.76 498.80,232.94 499.00,234.11 499.20,235.29 499.40,236.46 499.60,237.64 499.80,238.81 500.00,239.52 500.20,240.00 500.40,240.48 500.60,240.95 500.80,241.43 501.00,241.91 501.20,242.37 501.40,242.78 501.60,243.19 501.80,243.60 502.00,243.91 502.20,243.91 502.40,243.91 502.60,243.91 502.80,243.91 503.00,243.91 503.20,243.91 503.40,243.91 503.60,243.91 503.80,243.91 504.00,243.67 504.20,243.35 504.40,243.03 504.60,241.80 504.80,240.10 505.00,238.41 505.20,236.31 505.40,233.15 505.60,230.48 505.80,228.43 506.00,226.37 506.20,224.28 506.40,222.20 506.60,218.73 506.80,216.29 506.85,215.68 507.00,211.13 507.18,204.84 507.20,204.84 507.40,204.84 507.42,204.84 507.60,210.87 507.80,216.15 508.00,217.21 508.20,218.27 508.40,219.32 508.60,220.38 508.80,220.71 509.00,220.76 509.20,220.81 509.40,220.86 509.60,221.13 509.80,222.27 510.00,223.42 510.20,224.57 510.40,225.71 510.60,226.88 510.80,228.20 511.00,229.52 511.20,230.85 511.40,232.17 511.60,233.47 511.80,234.14 512.00,234.80 512.20,235.47 512.40,236.13 512.60,236.80 512.80,237.46 513.00,238.16 513.20,238.98 513.40,239.80 513.60,240.61 513.80,241.43 514.00,242.24 514.20,243.06 514.40,243.57 514.60,243.75 514.80,243.91 515.00,243.91 515.20,243.91 515.40,243.91 515.60,243.82 515.80,243.63 516.00,243.45 516.20,242.84 516.40,241.05 516.60,239.25 516.80,237.46 517.00,235.21 517.20,232.78 517.40,229.59 517.60,226.22 517.80,223.87 518.00,222.33 518.20,220.79 518.40,217.22 518.60,215.11 518.65,214.58 518.80,208.38 518.98,199.56 519.00,199.56 519.20,199.56 519.22,199.56 519.40,207.90 519.60,215.03 519.80,215.74 520.00,216.46 520.20,217.17 520.40,217.88 520.60,218.55 520.80,219.15 521.00,219.76 521.20,220.37 521.40,220.98 521.60,221.85 521.80,222.78 522.00,223.71 522.20,224.64 522.40,225.57 522.60,226.79 522.80,228.25 523.00,229.70 523.20,231.16 523.40,232.62 523.60,233.79 523.80,234.31 524.00,234.84 524.20,235.37 524.40,235.89 524.60,236.42 524.80,236.94 525.00,237.58 525.20,238.50 525.40,239.42 525.60,240.33 525.80,241.25 526.00,242.16 526.20,243.08 526.40,243.76 526.60,243.87 526.80,243.91 527.00,243.91 527.20,243.65 527.40,243.12 527.60,242.59 527.80,240.32 528.00,238.05 528.20,235.69 528.40,233.04 528.60,230.25 528.80,227.40 529.00,223.81 529.20,220.23 529.40,214.32 529.45,214.05 529.60,204.92 529.78,191.46 529.80,191.46 530.00,191.46 530.02,191.46 530.20,204.02 530.40,214.59 530.60,215.01 530.80,215.43 531.00,215.84 531.20,216.57 531.40,217.47 531.60,218.37 531.80,219.27 532.00,220.68 532.20,222.28 532.40,223.89 532.60,225.49 532.80,227.14 533.00,228.85 533.20,230.57 533.40,232.29 533.60,234.01 533.80,234.87 534.00,235.64 534.20,236.42 534.40,237.19 534.60,237.97 534.80,238.74 535.00,239.58 535.20,240.41 535.40,241.24 535.60,242.07 535.80,242.90 536.00,243.61 536.20,243.76 536.40,243.91 536.60,243.91 536.80,243.91 537.00,243.91 537.20,243.91 537.40,243.91 537.60,243.91 537.80,243.91 538.00,243.91 538.20,243.91 538.40,243.91 538.60,243.91 538.80,243.75 539.00,243.47 539.20,243.18 539.40,242.90 539.60,241.28 539.80,239.48 540.00,237.68 540.20,235.88 540.40,234.29 540.60,232.73 540.80,229.88 541.00,226.32 541.20,222.87 541.40,220.66 541.60,218.46 541.80,216.24 542.00,213.96 542.20,212.54 542.35,212.11 542.40,210.87 542.60,199.27 542.68,194.63 542.80,194.63 542.92,194.63 543.00,199.00 543.20,209.93 543.30,212.91 543.40,213.40 543.60,214.40 543.80,215.39 544.00,216.39 544.20,217.10 544.40,217.82 544.60,218.54 544.80,219.25 545.00,220.63 545.20,222.02 545.40,223.40 545.60,224.79 545.80,226.18 546.00,227.57 546.20,228.96 546.40,230.35 546.60,231.74 546.80,232.48 547.00,233.23 547.20,233.97 547.40,234.71 547.60,235.46 547.80,236.20 548.00,237.27 548.20,238.34 548.40,239.42 548.60,240.49 548.80,241.56 549.00,242.64 549.20,243.00 549.40,243.34 549.60,243.69 549.80,243.91 550.00,243.91 550.20,243.91 550.40,243.91 550.60,243.74 550.80,243.48 551.00,243.22 551.20,242.95 551.40,242.44 551.60,241.11 551.80,239.79 552.00,238.47 552.20,237.14 552.40,235.85 552.60,234.61 552.80,233.37 553.00,230.96 553.20,228.17 553.40,225.39 553.60,223.47 553.80,221.97 554.00,220.46 554.20,219.02 554.40,217.95 554.60,216.88 554.80,215.48 554.95,214.18 555.00,212.57 555.20,199.00 555.28,193.57 555.40,193.57 555.52,193.57 555.60,198.65 555.80,211.35 555.90,214.69 556.00,215.04 556.20,215.73 556.40,216.41 556.60,217.10 556.80,217.92 557.00,218.84 557.20,219.76 557.40,220.67 557.60,221.76 557.80,223.24 558.00,224.73 558.20,226.22 558.40,227.70 558.60,228.92 558.80,229.84 559.00,230.76 559.20,231.67 559.40,232.59 559.60,233.62 559.80,234.71 560.00,235.80 560.20,236.89 560.40,237.98 560.60,239.08 560.80,240.03 561.00,240.54 561.20,241.04 561.40,241.54 561.60,242.04 561.80,242.54 562.00,243.04 562.20,243.34 562.40,243.58 562.60,243.83 562.80,243.91 563.00,243.91 563.20,243.73 563.40,243.17 563.60,242.62 563.80,242.06 564.00,240.22 564.20,238.31 564.40,236.41 564.60,234.53 564.80,232.70 565.00,230.39 565.20,226.60 565.40,222.81 565.60,220.59 565.80,218.55 566.00,216.67 566.20,215.40 566.40,212.27 566.45,211.49 566.60,206.29 566.78,199.20 566.80,199.20 567.00,199.20 567.02,199.20 567.20,206.00 567.40,211.90 567.60,212.82 567.80,213.74 568.00,214.66 568.20,215.58 568.40,216.71 568.60,217.85 568.80,218.99 569.00,220.12 569.20,221.41 569.40,222.81 569.60,224.21 569.80,225.61 570.00,227.01 570.20,228.05 570.40,228.90 570.60,229.75 570.80,230.60 571.00,231.45 571.20,232.17 571.40,232.84 571.60,233.52 571.80,234.19 572.00,234.87 572.20,235.54 572.40,236.30 572.60,237.38 572.80,238.45 573.00,239.52 573.20,240.60 573.40,241.67 573.60,242.74 573.80,243.24 574.00,243.43 574.20,243.63 574.40,243.83 574.60,243.91 574.80,243.91 575.00,243.91 575.20,243.91 575.40,243.91 575.60,243.91 575.80,243.49 576.00,242.99 576.20,242.48 576.40,241.98 576.60,240.61 576.80,239.07 577.00,237.54 577.20,236.00 577.40,233.64 577.60,230.28 577.80,227.00 578.00,225.00 578.20,223.00 578.40,220.97 578.60,218.84 578.80,216.72 579.00,214.68 579.20,213.59 579.40,212.50 579.60,210.08 579.65,209.47 579.80,203.74 579.98,195.68 580.00,195.68 580.20,195.68 580.22,195.68 580.40,203.38 580.60,209.91 580.80,210.40 581.00,210.89 581.20,211.37 581.40,211.98 581.60,212.66 581.80,213.35 582.00,214.04 582.20,215.46 582.40,217.25 582.60,219.04 582.80,220.83 583.00,222.68 583.20,224.72 583.40,226.76 583.60,228.81 583.80,230.85 584.00,231.91 584.20,232.75 584.40,233.58 584.60,234.42 584.80,235.25 585.00,236.09 585.20,237.16 585.40,238.26 585.60,239.36 585.80,240.46 586.00,241.56 586.20,242.65 586.40,242.95 586.60,243.24 586.80,243.54 587.00,243.82 587.20,243.85 587.40,243.88 587.60,243.91 587.80,243.91 588.00,243.91 588.20,243.72 588.40,243.45 588.60,242.59 588.80,240.58 589.00,238.57 589.20,234.80 589.40,230.65 589.60,226.95 589.80,224.00 590.00,221.39 590.20,216.04 590.25,215.59 590.40,205.91 590.58,191.81 590.60,191.81 590.80,191.81 590.82,191.81 591.00,204.94 591.20,216.04 591.40,216.65 591.60,217.27 591.80,217.88 592.00,219.00 592.20,220.35 592.40,221.70 592.60,223.06 592.80,224.19 593.00,225.27 593.20,226.35 593.40,227.44 593.60,228.52 593.80,229.61 594.00,230.69 594.20,231.78 594.40,232.86 594.60,233.94 594.80,235.02 595.00,236.10 595.20,237.17 595.40,238.25 595.60,239.26 595.80,240.06 596.00,240.87 596.20,241.68 596.40,242.48 596.60,243.29 596.80,243.80 597.00,243.91 597.20,243.91 597.40,243.91 597.60,243.91 597.80,243.91 598.00,243.91 598.20,243.91 598.40,243.91 598.60,243.91 598.80,243.91 599.00,243.65 599.20,243.28 599.40,242.90 599.60,242.53 599.80,241.39 600.00,239.79 600.20,238.20 600.40,236.61 600.60,234.80 600.80,231.97 601.00,229.14 601.20,227.31 601.40,225.84 601.60,224.36 601.80,222.54 602.00,220.68 602.20,218.83 602.40,216.55 602.60,214.08 602.80,211.42 602.95,209.29 603.00,208.48 603.20,204.62 603.28,203.08 603.40,203.08 603.52,203.08 603.60,204.65 603.80,208.57 603.90,209.67 604.00,209.91 604.20,210.39 604.40,210.86 604.60,211.34 604.80,212.94 605.00,214.90 605.20,216.87 605.40,218.83 605.60,220.22 605.80,221.20 606.00,222.17 606.20,223.15 606.40,224.12 606.60,225.72 606.80,227.39 607.00,229.06 607.20,230.72 607.40,232.25 607.60,233.24 607.80,234.22 608.00,235.21 608.20,236.19 608.40,237.18 608.60,238.16 608.80,238.96 609.00,239.75 609.20,240.54 609.40,241.33 609.60,242.12 609.80,242.91 610.00,243.25 610.20,243.41 610.40,243.57 610.60,243.73 610.80,243.82 611.00,243.85 611.20,243.89 611.40,243.91 611.60,243.91 611.80,243.88 612.00,243.82 612.20,243.75 612.40,242.48 612.60,240.87 612.80,239.27 613.00,236.14 613.20,233.22 613.40,231.77 613.60,229.94 613.80,227.51 614.00,221.03 614.20,219.47 614.25,219.08 614.40,217.33 614.58,215.04 614.60,215.04 614.80,215.04 614.82,215.04 615.00,217.39 615.20,219.56 615.40,220.39 615.60,221.22 615.80,222.05 616.00,222.57 616.20,222.99 616.40,223.41 616.60,223.84 616.80,225.58 617.00,227.42 617.20,229.27 617.40,231.11 617.60,232.31 617.80,233.13 618.00,233.96 618.20,234.78 618.40,235.59 618.60,236.39 618.80,237.19 619.00,237.99 619.20,238.79 619.40,239.58 619.60,240.36 619.80,241.11 620.00,241.87 620.20,242.62 620.40,243.38 620.60,243.91 620.80,243.91 621.00,243.91 621.20,243.91 621.40,243.91 621.60,243.91 621.80,243.91 622.00,243.91 622.20,243.91 622.40,243.91 622.60,243.91 622.80,243.91 623.00,243.91 623.20,243.91 623.40,243.91 623.60,243.91 623.80,243.91 624.00,243.91 624.20,243.91 624.40,243.91 624.60,243.91 624.80,243.80 625.00,243.15 625.20,242.49 625.40,241.33 625.60,239.30 625.80,237.26 626.00,234.37 626.20,229.41 626.40,225.92 626.60,223.37 626.80,220.69 627.00,217.93 627.20,212.03 627.40,208.57 627.45,207.70 627.60,198.50 627.78,185.48 627.80,185.48 628.00,185.48 628.02,185.48 628.20,197.71 628.40,208.06 628.60,208.71 628.80,209.35 629.00,209.99 629.20,211.44 629.40,213.31 629.60,215.17 629.80,217.04 630.00,218.16 630.20,219.04 630.40,219.93 630.60,220.81 630.80,222.14 631.00,224.19 631.20,226.24 631.40,228.28 631.60,230.33 631.80,231.11 632.00,231.90 632.20,232.69 632.40,233.47 632.60,234.26 632.80,235.13 633.00,236.47 633.20,237.82 633.40,239.16 633.60,240.50 633.80,241.84 634.00,242.83 634.20,243.06 634.40,243.30 634.60,243.53 634.80,243.70 635.00,243.79 635.20,243.87 635.40,243.91 635.60,243.91 635.80,243.91 636.00,243.91 636.20,243.91 636.40,243.91 636.60,243.91 636.80,243.91 637.00,243.81 637.20,243.69 637.40,243.57 637.60,242.32 637.80,240.97 638.00,239.61 638.20,237.77 638.40,235.72 638.60,232.74 638.80,229.71 639.00,227.25 639.20,224.85 639.40,222.33 639.60,221.17 639.65,220.88 639.80,219.29 639.98,217.16 640.00,217.16 640.20,217.16 640.22,217.16 640.40,219.35 640.60,221.40 640.80,222.30 641.00,223.20 641.20,224.10 641.40,225.00 641.60,225.80 641.80,226.51 642.00,227.22 642.20,227.94 642.40,228.65 642.60,229.41 642.80,230.18 643.00,230.94 643.20,231.71 643.40,232.47 643.60,233.25 643.80,234.03 644.00,234.81 644.20,235.59 644.40,236.38 644.60,237.09 644.80,237.76 645.00,238.43 645.20,239.10 645.40,239.76 645.60,240.43 645.80,241.10 646.00,241.62 646.20,242.06 646.40,242.51 646.60,242.95 646.80,243.39 647.00,243.83 647.20,243.91 647.40,243.91 647.60,243.61 647.80,243.19 648.00,242.77 648.20,242.35 648.40,241.77 648.60,240.57 648.80,239.36 649.00,238.16 649.20,236.95 649.40,235.35 649.60,232.59 649.80,229.82 650.00,227.37 650.20,225.18 650.40,222.99 650.60,220.98 650.80,219.23 651.00,217.49 651.20,215.74 651.40,215.40 651.60,215.40 651.80,215.40 652.00,212.22 652.05,211.43 652.20,207.52 652.38,202.37 652.40,202.37 652.60,202.37 652.62,202.37 652.80,207.41 653.00,211.88 653.20,213.01 653.40,214.15 653.60,215.28 653.80,216.12 654.00,216.67 654.20,217.21 654.40,217.76 654.60,218.58 654.80,219.68 655.00,220.77 655.20,221.86 655.40,222.96 655.60,225.24 655.80,227.52 656.00,229.81 656.20,232.09 656.40,233.67 656.60,234.52 656.80,235.38 657.00,236.23 657.20,237.09 657.40,237.94 657.60,238.69 657.80,239.34 658.00,239.99 658.20,240.64 658.40,241.30 658.60,241.95 658.80,242.48 659.00,242.90 659.20,243.33 659.40,243.75 659.60,243.91 659.80,243.91 660.00,243.91 660.20,243.91 660.40,243.91 660.60,243.91 660.80,243.89 661.00,243.57 661.20,243.25 661.40,242.93 661.60,241.36 661.80,239.54 662.00,237.71 662.20,235.92 662.40,234.23 662.60,231.98 662.80,228.71 663.00,225.54 663.20,223.42 663.40,221.29 663.60,218.43 663.80,216.25 663.95,215.66 664.00,214.62 664.20,205.37 664.28,201.67 664.40,201.67 664.52,201.67 664.60,205.17 664.80,213.92 664.90,216.28 665.00,216.61 665.20,217.26 665.40,217.92 665.60,218.58 665.80,218.93 666.00,219.21 666.20,219.50 666.40,219.78 666.60,221.12 666.80,223.01 667.00,224.89 667.20,226.77 667.40,228.65 667.60,229.79 667.80,230.94 668.00,232.08 668.20,233.22 668.40,234.29 668.60,235.20 668.80,236.12 669.00,237.04 669.20,237.96 669.40,238.88 669.60,239.73 669.80,240.26 670.00,240.80 670.20,241.33 670.40,241.86 670.60,242.39 670.80,242.92 671.00,243.26 671.20,243.59 671.40,243.91 671.60,243.91 671.80,243.91 672.00,243.91 672.20,243.91 672.40,243.91 672.60,243.91 672.80,243.91 673.00,243.91 673.20,243.91 673.40,243.36 673.60,242.72 673.80,242.09 674.00,240.03 674.20,237.89 674.40,235.76 674.60,232.23 674.80,228.19 675.00,225.90 675.20,223.66 675.40,220.56 675.60,217.39 675.80,213.39 676.00,210.41 676.05,209.67 676.20,193.39 676.38,169.64 676.40,169.64 676.60,169.64 676.62,169.64 676.80,191.60 677.00,210.06 677.20,210.67 677.40,211.29 677.60,211.91 677.80,213.37 678.00,215.53 678.20,217.68 678.40,219.84 678.60,221.23 678.80,222.05 679.00,222.86 679.20,223.68 679.40,224.54 679.60,225.81 679.80,227.08 680.00,228.35 680.20,229.62 680.40,230.76 680.60,231.84 680.80,232.92 681.00,234.00 681.20,235.09 681.40,236.17 681.60,237.29 681.80,238.43 682.00,239.57 682.20,240.71 682.40,241.85 682.60,242.99 682.80,243.39 683.00,243.53 683.20,243.66 683.40,243.79 683.60,243.85 683.80,243.87 684.00,243.63 684.20,243.32 684.40,243.01 684.60,242.71 684.80,241.84 685.00,240.51 685.20,239.18 685.40,237.85 685.60,236.52 685.80,234.89 686.00,233.16 686.20,231.33 686.40,228.90 686.60,226.48 686.80,224.14 687.00,222.74 687.20,221.34 687.40,219.94 687.60,218.93 687.80,218.19 688.00,217.44 688.20,215.34 688.25,214.82 688.40,206.97 688.58,195.68 688.60,195.68 688.80,195.68 688.82,195.68 689.00,206.27 689.20,215.29 689.40,216.09 689.60,216.89 689.80,217.68 690.00,218.48 690.20,219.65 690.40,220.89 690.60,222.13 690.80,223.37 691.00,224.41 691.20,225.16 691.40,225.91 691.60,226.66 691.80,227.41 692.00,228.17 692.20,228.95 692.40,229.74 692.60,230.52 692.80,231.30 693.00,232.26 693.20,233.46 693.40,234.67 693.60,235.88 693.80,237.08 694.00,238.29 694.20,239.50 694.40,240.18 694.60,240.68 694.80,241.17 695.00,241.66 695.20,242.16 695.40,242.65 695.60,243.13 695.80,243.38 696.00,243.64 696.20,243.89 696.40,243.91 696.60,243.91 696.80,243.91 697.00,243.91 697.20,243.91 697.40,243.91 697.60,243.91 697.80,243.72 698.00,243.46 698.20,242.77 698.40,240.96 698.60,239.15 698.80,236.35 699.00,232.78 699.20,228.69 699.40,225.15 699.60,222.44 699.80,218.13 699.95,216.01 700.00,214.77 700.20,206.67 700.28,203.43 700.40,203.43 700.52,203.43 700.60,206.51 700.80,214.22 700.90,216.38 701.00,216.83 701.20,217.74 701.40,218.66 701.60,219.57 701.80,220.14 702.00,220.02 702.20,219.90 702.40,219.78 702.60,219.66 702.80,221.34 703.00,223.27 703.20,225.19 703.40,227.12 703.60,229.05 703.80,230.03 704.00,230.87 704.20,231.71 704.40,232.55 704.60,233.39 704.80,234.23 705.00,235.06 705.20,235.89 705.40,236.72 705.60,237.55 705.80,238.38 706.00,239.17 706.20,239.75 706.40,240.33 706.60,240.91 706.80,241.50 707.00,242.08 707.20,242.66 707.40,243.11 707.60,243.41 707.80,243.16 708.00,242.88 708.20,242.16 708.40,240.83 708.60,239.51 708.80,238.19 709.00,236.86 709.20,234.90 709.40,232.75 709.60,230.34 709.80,227.10 710.00,223.86 710.20,221.29 710.40,220.41 710.60,219.52 710.80,218.64 711.00,217.08 711.20,215.45 711.40,212.99 711.55,210.52 711.60,208.27 711.80,190.73 711.88,183.72 712.00,183.72 712.12,183.72 712.20,190.26 712.40,206.61 712.50,210.75 712.60,210.85 712.80,211.06 713.00,211.27 713.20,211.48 713.40,212.57 713.60,214.53 713.80,216.49 714.00,218.46 714.20,220.19 714.40,220.71 714.60,221.22 714.80,221.74 715.00,222.26 715.20,223.23 715.40,225.33 715.60,227.44 715.80,229.55 716.00,231.66 716.20,233.19 716.40,233.90 716.60,234.61 716.80,235.32 717.00,236.03 717.20,236.74 717.40,237.45 717.60,238.30 717.80,239.17 718.00,240.04 718.20,240.91 718.40,241.78 718.60,242.65 718.80,243.23 719.00,243.40 719.20,243.57 719.40,243.73 719.60,243.89 719.80,243.89 720.00,243.90 720.20,243.91 720.40,243.80 720.60,243.31 720.80,242.82 721.00,242.33 721.20,241.27 721.40,239.48 721.60,237.68 721.80,235.88 722.00,234.00 722.20,231.89 722.40,229.79 722.60,227.03 722.80,224.26 723.00,221.77 723.20,219.81 723.40,217.86 723.60,216.04 723.80,214.53 724.00,212.24 724.15,209.92 724.20,209.03 724.40,204.78 724.48,203.08 724.60,203.08 724.72,203.08 724.80,204.79 725.00,209.06 725.10,210.23 725.20,210.41 725.40,210.77 725.60,211.14 725.80,211.50 726.00,212.13 726.20,213.30 726.40,214.47 726.60,215.64 726.80,216.81 727.00,217.96 727.20,219.11 727.40,220.26 727.60,221.41 727.80,222.56 728.00,224.39 728.20,226.31 728.40,228.22 728.60,230.14 728.80,232.05 729.00,232.90 729.20,233.62 729.40,234.35 729.60,235.08 729.80,235.81 730.00,236.54 730.20,237.29 730.40,238.14 730.60,238.98 730.80,239.82 731.00,240.67 731.20,241.51 731.40,242.36 731.60,242.86 731.80,243.12 732.00,243.37 732.20,243.62 732.40,243.85 732.60,243.87 732.80,243.89 733.00,243.90 733.20,243.91 733.40,243.91 733.60,243.91 733.80,243.91 734.00,243.91 734.20,243.91 734.40,243.91 734.60,243.91 734.80,243.91 735.00,243.59 735.20,243.14 735.40,242.34 735.60,240.45 735.80,238.57 736.00,235.09 736.20,230.39 736.40,226.60 736.60,223.36 736.80,221.04 737.00,214.48 737.15,213.47 737.20,212.97 737.40,209.92 737.48,208.71 737.60,208.71 737.72,208.71 737.80,209.96 738.00,213.09 738.10,214.04 738.20,214.36 738.40,215.00 738.60,215.64 738.80,216.27 739.00,217.53 739.20,218.97 739.40,220.40 739.60,221.84 739.80,223.04 740.00,224.12 740.20,225.19 740.40,226.27 740.60,227.34 740.80,228.14 741.00,228.93 741.20,229.73 741.40,230.52 741.60,231.45 741.80,232.69 742.00,233.92 742.20,235.16 742.40,236.40 742.60,237.64 742.80,238.83 743.00,239.54 743.20,240.25 743.40,240.96 743.60,241.66 743.80,242.37 744.00,243.08 744.20,243.38 744.40,243.61 744.60,243.84 744.80,243.91 745.00,243.91 745.20,243.91 745.40,243.91 745.60,243.91 745.80,243.91 746.00,243.91 746.20,243.84 746.40,243.41 746.60,242.97 746.80,242.03 747.00,240.16 747.20,238.29 747.40,235.91 747.60,232.24 747.80,228.93 748.00,225.84 748.20,223.66 748.40,221.97 748.60,216.57 748.80,216.02 748.85,215.89 749.00,209.16 749.18,199.20 749.20,199.20 749.40,199.20 749.42,199.20 749.60,208.57 749.80,216.55 750.00,217.26 750.20,217.98 750.40,218.70 750.60,219.58 750.80,220.59 751.00,221.60 751.20,222.61 751.40,223.44 751.60,224.15 751.80,224.85 752.00,225.56 752.20,226.36 752.40,227.78 752.60,229.21 752.80,230.64 753.00,232.07 753.20,233.09 753.40,233.91 753.60,234.74 753.80,235.56 754.00,236.38 754.20,237.21 754.40,238.15 754.60,239.15 754.80,240.15 755.00,241.15 755.20,242.14 755.40,243.14 755.60,243.56 755.80,243.80 756.00,243.91 756.20,243.91 756.40,243.91 756.60,243.91 756.80,243.76 757.00,243.28 757.20,242.80 757.40,242.29 757.60,240.83 757.80,239.38 758.00,237.92 758.20,235.32 758.40,231.24 758.60,228.63 758.80,227.66 759.00,226.43 759.20,224.15 759.40,221.86 759.60,217.51 759.80,214.00 759.95,213.13 760.00,212.65 760.20,209.58 760.28,208.36 760.40,208.36 760.52,208.36 760.60,209.62 760.80,212.78 760.90,213.78 761.00,214.19 761.20,215.01 761.40,215.83 761.60,216.65 761.80,217.47 762.00,218.06 762.20,218.60 762.40,219.14 762.60,219.67 762.80,220.21 763.00,221.25 763.20,222.28 763.40,223.32 763.60,224.35 763.80,225.38 764.00,226.73 764.20,228.29 764.40,229.84 764.60,231.39 764.80,232.94 765.00,234.25 765.20,234.69 765.40,235.12 765.60,235.56 765.80,235.99 766.00,236.43 766.20,236.86 766.40,237.30 766.60,238.15 766.80,238.99 767.00,239.84 767.20,240.68 767.40,241.53 767.60,242.37 767.80,243.22 768.00,243.50 768.20,243.65 768.40,243.81 768.60,243.91 768.80,243.91 769.00,243.91 769.20,243.47 769.40,243.00 769.60,242.53 769.80,241.14 770.00,239.55 770.20,237.95 770.40,235.96 770.60,233.34 770.80,230.62 771.00,227.83 771.20,225.05 771.40,222.29 771.60,219.53 771.80,216.61 772.00,213.68 772.05,212.95 772.20,204.09 772.38,191.46 772.40,191.46 772.60,191.46 772.62,191.46 772.80,203.28 773.00,213.40 773.20,214.45 773.40,215.50 773.60,216.56 773.80,217.61 774.00,217.99 774.20,218.07 774.40,218.15 774.60,218.22 774.80,218.49 775.00,219.84 775.20,221.20 775.40,222.55 775.60,223.90 775.80,225.25 776.00,226.34 776.20,227.43 776.40,228.52 776.60,229.61 776.80,230.70 777.00,231.54 777.20,232.35 777.40,233.17 777.60,233.99 777.80,234.80 778.00,235.62 778.20,236.45 778.40,237.34 778.60,238.23 778.80,239.12 779.00,240.02 779.20,240.91 779.40,241.80 779.60,242.54 779.80,242.90 780.00,243.27 780.20,243.63 780.40,243.91 780.60,243.91 780.80,243.91 781.00,243.91 781.20,243.91 781.40,243.91 781.60,243.91 781.80,243.91 782.00,243.55 782.20,243.14 782.40,242.38 782.60,240.27 782.80,238.16 783.00,235.59 783.20,231.91 783.40,229.07 783.60,226.60 783.80,222.92 784.00,218.99 784.20,215.42 784.35,213.69 784.40,212.24 784.60,201.17 784.68,196.74 784.80,196.74 784.92,196.74 785.00,200.91 785.20,211.35 785.30,214.16 785.40,214.57 785.60,215.39 785.80,216.21 786.00,217.03 786.20,217.38 786.40,217.63 786.60,217.88 786.80,218.14 787.00,219.30 787.20,220.82 787.40,222.33 787.60,223.85 787.80,225.39 788.00,227.17 788.20,228.95 788.40,230.72 788.60,232.50 788.80,233.88 789.00,234.79 789.20,235.71 789.40,236.63 789.60,237.54 789.80,238.46 790.00,239.28 790.20,239.85 790.40,240.42 790.60,240.99 790.80,241.57 791.00,242.14 791.20,242.69 791.40,243.05 791.60,243.42 791.80,243.79 792.00,243.91 792.20,243.91 792.40,243.91 792.60,243.91 792.80,243.91 793.00,243.91 793.20,243.91 793.40,243.91 793.60,243.91 793.80,243.91 794.00,243.91 794.20,243.91 794.40,243.91 794.60,243.91 794.80,243.77 795.00,243.46 795.20,243.16 795.40,241.67 795.60,240.00 795.80,238.29 796.00,235.44 796.20,232.59 796.40,229.75 796.60,226.23 796.80,222.37 797.00,217.93 797.15,216.69 797.20,215.08 797.40,201.48 797.48,196.04 797.60,196.04 797.72,196.04 797.80,201.12 798.00,213.81 798.10,217.03 798.20,217.11 798.40,217.27 798.60,217.43 798.80,217.59 799.00,218.11 799.20,218.97 799.40,219.84 799.60,220.71 799.80,221.60 800.00,222.64 800.20,223.67 800.40,224.70 800.60,225.74 800.80,227.02 801.00,228.87 801.20,230.72 801.40,232.57 801.60,234.41 801.80,235.77 802.00,236.46 802.20,237.16 802.40,237.85 802.60,238.55 802.80,239.24 803.00,239.94 803.20,240.57 803.40,241.20 803.60,241.83 803.80,242.45 804.00,243.08 804.20,243.71 804.40,243.91 804.60,243.91 804.80,243.91 805.00,243.91 805.20,243.91 805.40,243.91 805.60,243.91 805.80,243.91 806.00,243.58 806.20,243.18 806.40,242.78 806.60,241.56 806.80,240.06 807.00,238.55 807.20,236.45 807.40,233.15 807.60,230.34 807.80,228.05 808.00,225.36 808.20,221.81 808.40,218.25 808.60,215.61 808.80,213.63 808.85,213.14 809.00,207.95 809.18,200.61 809.20,200.61 809.40,200.61 809.42,200.61 809.60,207.62 809.80,213.76 810.00,214.96 810.20,216.16 810.40,217.36 810.60,218.71 810.80,220.13 811.00,221.54 811.20,222.95 811.40,223.86 811.60,224.69 811.80,225.52 812.00,226.35 812.20,227.41 812.40,228.65 812.60,229.89 812.80,231.13 813.00,232.31 813.20,233.24 813.40,234.17 813.60,235.10 813.80,236.03 814.00,236.96 814.20,237.86 814.40,238.71 814.60,239.56 814.80,240.42 815.00,241.27 815.20,242.12 815.40,242.70 815.60,243.14 815.80,243.58 816.00,243.91 816.20,243.91 816.40,243.91 816.60,243.91 816.80,243.91 817.00,243.91 817.20,243.91 817.40,243.91 817.60,243.91 817.80,243.91 818.00,243.91 818.20,243.91 818.40,243.91 818.60,243.87 818.80,243.23 819.00,242.59 819.20,241.62 819.40,239.33 819.60,237.03 819.80,234.69 820.00,231.40 820.20,227.90 820.40,223.96 820.60,220.55 820.80,218.32 821.00,216.04 821.20,211.95 821.35,210.02 821.40,209.10 821.60,203.79 821.68,201.67 821.80,201.67 821.92,201.67 822.00,203.76 822.20,209.00 822.30,210.66 822.40,211.36 822.60,212.76 822.80,214.17 823.00,215.57 823.20,217.01 823.40,218.45 823.60,219.88 823.80,221.18 824.00,221.77 824.20,222.37 824.40,222.96 824.60,223.55 824.80,224.70 825.00,226.07 825.20,227.43 825.40,228.79 825.60,230.05 825.80,231.07 826.00,232.08 826.20,233.10 826.40,234.12 826.60,235.14 826.80,236.22 827.00,237.41 827.20,238.59 827.40,239.77 827.60,240.96 827.80,242.14 828.00,242.87 828.20,243.16 828.40,243.45 828.60,243.36 828.80,243.02 829.00,242.68 829.20,242.32 829.40,241.08 829.60,239.84 829.80,238.60 830.00,237.36 830.20,236.11 830.40,233.73 830.60,231.35 830.80,229.26 831.00,228.00 831.20,226.75 831.40,225.46 831.60,223.58 831.80,221.69 832.00,219.81 832.20,217.83 832.40,215.70 832.60,213.57 832.80,211.83 832.95,210.82 833.00,209.39 833.20,197.09 833.28,192.16 833.40,192.16 833.52,192.16 833.60,196.80 833.80,208.38 833.90,211.32 834.00,211.40 834.20,211.56 834.40,211.72 834.60,211.88 834.80,212.13 835.00,213.47 835.20,214.80 835.40,216.13 835.60,217.47 835.80,218.84 836.00,220.26 836.20,221.67 836.40,223.09 836.60,224.51 836.80,225.89 837.00,227.17 837.20,228.44 837.40,229.72 837.60,230.99 837.80,232.23 838.00,233.03 838.20,233.83 838.40,234.63 838.60,235.43 838.80,236.23 839.00,237.03 839.20,237.81 839.40,238.47 839.60,239.14 839.80,239.81 840.00,240.47 840.20,241.14 840.40,241.80 840.60,242.39 840.80,242.75 841.00,243.10 841.20,243.45 841.40,243.79 841.60,243.57 841.80,243.35 842.00,243.13 842.20,242.90 842.40,241.77 842.60,240.51 842.80,239.26 843.00,238.00 843.20,236.74 843.40,234.94 843.60,232.97 843.80,231.01 844.00,228.64 844.20,226.26 844.40,223.88 844.60,222.09 844.80,220.52 845.00,218.95 845.20,217.39 845.40,216.10 845.60,214.80 845.80,213.51 846.00,212.91 846.05,212.76 846.20,209.54 846.38,204.84 846.40,204.84 846.60,204.84 846.62,204.84 846.80,209.45 847.00,213.46 847.20,214.15 847.40,214.84 847.60,215.54 847.80,216.88 848.00,218.71 848.20,220.55 848.40,222.39 848.60,223.49 848.80,224.12 849.00,224.76 849.20,225.39 849.40,226.16 849.60,227.59 849.80,229.03 850.00,230.46 850.20,231.90 850.40,233.01 850.60,233.98 850.80,234.96 851.00,235.93 851.20,236.91 851.40,237.88 851.60,238.79 851.80,239.67 852.00,240.55 852.20,241.43 852.40,242.32 852.60,243.20 852.80,243.50 853.00,243.69 853.20,243.88 853.40,243.61 853.60,243.26 853.80,242.91 854.00,242.56 854.20,241.92 854.40,240.72 854.60,239.51 854.80,238.31 855.00,237.10 855.20,235.47 855.40,233.05 855.60,230.64 855.80,228.16 856.00,225.65 856.20,223.14 856.40,220.96 856.60,219.17 856.80,217.38 857.00,215.58 857.20,214.61 857.40,213.79 857.60,212.98 857.80,211.53 857.85,211.16 858.00,209.00 858.18,206.07 858.20,206.07 858.40,206.07 858.42,206.07 858.60,209.08 858.80,211.93 859.00,213.26 859.20,214.60 859.40,215.93 859.60,216.33 859.80,216.20 860.00,216.08 860.20,215.96 860.40,217.79 860.60,220.29 860.80,222.79 861.00,225.29 861.20,227.33 861.40,228.53 861.60,229.73 861.80,230.93 862.00,232.14 862.20,232.88 862.40,233.60 862.60,234.33 862.80,235.05 863.00,235.78 863.20,236.55 863.40,237.69 863.60,238.83 863.80,239.97 864.00,241.12 864.20,242.26 864.40,243.16 864.60,243.38 864.80,243.60 865.00,243.82 865.20,243.91 865.40,243.91 865.60,243.83 865.80,243.65 866.00,243.46 866.20,243.28 866.40,243.09 866.60,242.16 866.80,241.02 867.00,239.87 867.20,238.73 867.40,237.58 867.60,235.97 867.80,234.15 868.00,232.32 868.20,230.95 868.40,229.62 868.60,228.30 868.80,226.65 869.00,224.84 869.20,223.04 869.40,221.23 869.60,219.11 869.80,216.98 870.00,214.84 870.20,214.39 870.25,214.28 870.40,211.87 870.58,208.36 870.60,208.36 870.80,208.36 870.82,208.36 871.00,211.87 871.20,215.06 871.40,216.07 871.60,217.07 871.80,218.08 872.00,219.09 872.20,219.97 872.40,220.66 872.60,221.34 872.80,222.03 873.00,222.71 873.20,223.64 873.40,224.70 873.60,225.76 873.80,226.82 874.00,227.88 874.20,228.96 874.40,230.06 874.60,231.16 874.80,232.26 875.00,233.36 875.20,234.46 875.40,235.03 875.60,235.57 875.80,236.11 876.00,236.65 876.20,237.20 876.40,237.74 876.60,238.28 876.80,238.90 877.00,239.53 877.20,240.15 877.40,240.78 877.60,241.41 877.80,242.04 878.00,242.67 878.20,243.05 878.40,243.23 878.60,242.94 878.80,241.86 879.00,240.27 879.20,238.67 879.40,237.07 879.60,234.55 879.80,230.64 880.00,227.05 880.20,226.42 880.40,225.78 880.60,224.30 880.80,221.65 881.00,219.00 881.20,216.32 881.40,213.55 881.60,211.17 881.75,209.68 881.80,208.74 882.00,202.31 882.08,199.73 882.20,199.73 882.32,199.73 882.40,202.24 882.60,208.50 882.70,210.31 882.80,210.80 883.00,211.79 883.20,212.78 883.40,213.77 883.60,214.73 883.80,215.28 884.00,215.82 884.20,216.36 884.40,216.91 884.60,218.04 884.80,219.88 885.00,221.72 885.20,223.56 885.40,225.39 885.60,227.02 885.80,228.05 886.00,229.08 886.20,230.11 886.40,231.14 886.60,232.13 886.80,232.62 887.00,233.11 887.20,233.59 887.40,234.08 887.60,234.57 887.80,235.06 888.00,235.63 888.20,236.75 888.40,237.87 888.60,238.99 888.80,240.11 889.00,241.23 889.20,242.35 889.40,243.26 889.60,243.39 889.80,243.52 890.00,243.65 890.20,243.79 890.40,243.85 890.60,243.87 890.80,243.89 891.00,243.91 891.20,243.91 891.40,243.91 891.60,243.91 891.80,243.59 892.00,243.06 892.20,242.52 892.40,240.50 892.60,238.32 892.80,236.13 893.00,233.55 893.20,230.99 893.40,228.49 893.60,225.11 893.80,220.55 894.00,215.89 894.20,213.20 894.25,212.53 894.40,210.24 894.58,207.41 894.60,207.41 894.80,207.41 894.82,207.41 895.00,210.32 895.20,212.99 895.40,213.94 895.60,214.88 895.80,215.83 896.00,216.78 896.20,217.44 896.40,217.47 896.60,217.50 896.80,217.53 897.00,217.56 897.20,218.20 897.40,219.41 897.60,220.62 897.80,221.83 898.00,223.04 898.20,224.32 898.40,226.13 898.60,227.93 898.80,229.73 899.00,231.54 899.20,233.34 899.40,234.07 899.60,234.42 899.80,234.76 900.00,235.11 900.00,246.72 899.80,246.72 899.60,246.66 899.40,246.53 899.20,246.41 899.00,246.28 898.80,246.15 898.60,246.02 898.40,245.90 898.20,245.77 898.00,245.64 897.80,245.51 897.60,245.39 897.40,245.26 897.20,245.13 897.00,245.01 896.80,244.88 896.60,244.75 896.40,244.62 896.20,244.50 896.00,244.37 895.80,244.24 895.60,244.11 895.40,243.99 895.20,243.86 895.00,243.73 894.82,244.03 894.80,244.06 894.60,244.40 894.58,244.43 894.40,244.73 894.25,244.98 894.20,245.06 894.00,245.39 893.80,245.73 893.60,246.06 893.40,246.39 893.20,246.72 893.00,246.72 892.80,246.72 892.60,246.72 892.40,246.72 892.20,246.72 892.00,246.72 891.80,246.72 891.60,246.72 891.40,246.72 891.20,246.72 891.00,246.72 890.80,246.72 890.60,246.72 890.40,246.72 890.20,246.72 890.00,246.72 889.80,246.72 889.60,246.72 889.40,246.72 889.20,246.72 889.00,246.72 888.80,246.72 888.60,246.72 888.40,246.72 888.20,246.72 888.00,246.72 887.80,246.72 887.60,246.72 887.40,246.72 887.20,246.72 887.00,246.60 886.80,246.47 886.60,246.34 886.40,246.21 886.20,246.09 886.00,245.96 885.80,245.83 885.60,245.71 885.40,245.58 885.20,245.45 885.00,245.32 884.80,245.20 884.60,245.07 884.40,244.94 884.20,244.81 884.00,244.69 883.80,244.56 883.60,244.43 883.40,244.31 883.20,244.18 883.00,244.05 882.80,243.92 882.70,243.86 882.60,243.80 882.40,243.90 882.32,244.03 882.20,244.23 882.08,244.43 882.00,244.56 881.80,244.90 881.75,244.98 881.60,245.23 881.40,245.56 881.20,245.89 881.00,246.23 880.80,246.56 880.60,246.72 880.40,246.72 880.20,246.72 880.00,246.72 879.80,246.72 879.60,246.72 879.40,246.72 879.20,246.72 879.00,246.72 878.80,246.72 878.60,246.72 878.40,246.72 878.20,246.72 878.00,246.72 877.80,246.72 877.60,246.72 877.40,246.72 877.20,246.72 877.00,246.72 876.80,246.72 876.60,246.72 876.40,246.72 876.20,246.72 876.00,246.72 875.80,246.72 875.60,246.66 875.40,246.53 875.20,246.41 875.00,246.28 874.80,246.15 874.60,246.02 874.40,245.90 874.20,245.77 874.00,245.64 873.80,245.51 873.60,245.39 873.40,245.26 873.20,245.13 873.00,245.01 872.80,244.88 872.60,244.75 872.40,244.62 872.20,244.50 872.00,244.37 871.80,244.24 871.60,244.11 871.40,243.99 871.20,243.86 871.00,243.73 870.82,244.03 870.80,244.06 870.60,244.40 870.58,244.43 870.40,244.73 870.25,244.98 870.20,245.06 870.00,245.39 869.80,245.73 869.60,246.06 869.40,246.39 869.20,246.72 869.00,246.72 868.80,246.72 868.60,246.72 868.40,246.72 868.20,246.72 868.00,246.72 867.80,246.72 867.60,246.72 867.40,246.72 867.20,246.72 867.00,246.72 866.80,246.72 866.60,246.72 866.40,246.72 866.20,246.72 866.00,246.72 865.80,246.72 865.60,246.72 865.40,246.72 865.20,246.72 865.00,246.72 864.80,246.72 864.60,246.72 864.40,246.72 864.20,246.72 864.00,246.72 863.80,246.72 863.60,246.72 863.40,246.72 863.20,246.66 863.00,246.53 862.80,246.41 862.60,246.28 862.40,246.15 862.20,246.02 862.00,245.90 861.80,245.77 861.60,245.64 861.40,245.51 861.20,245.39 861.00,245.26 860.80,245.13 860.60,245.01 860.40,244.88 860.20,244.75 860.00,244.62 859.80,244.50 859.60,244.37 859.40,244.24 859.20,244.11 859.00,243.99 858.80,243.86 858.60,243.73 858.42,244.03 858.40,244.06 858.20,244.40 858.18,244.43 858.00,244.73 857.85,244.98 857.80,245.06 857.60,245.39 857.40,245.73 857.20,246.06 857.00,246.39 856.80,246.72 856.60,246.72 856.40,246.72 856.20,246.72 856.00,246.72 855.80,246.72 855.60,246.72 855.40,246.72 855.20,246.72 855.00,246.72 854.80,246.72 854.60,246.72 854.40,246.72 854.20,246.72 854.00,246.72 853.80,246.72 853.60,246.72 853.40,246.72 853.20,246.72 853.00,246.72 852.80,246.72 852.60,246.72 852.40,246.72 852.20,246.72 852.00,246.72 851.80,246.72 851.60,246.72 851.40,246.66 851.20,246.53 851.00,246.41 850.80,246.28 850.60,246.15 850.40,246.02 850.20,245.90 850.00,245.77 849.80,245.64 849.60,245.51 849.40,245.39 849.20,245.26 849.00,245.13 848.80,245.01 848.60,244.88 848.40,244.75 848.20,244.62 848.00,244.50 847.80,244.37 847.60,244.24 847.40,244.11 847.20,243.99 847.00,243.86 846.80,243.73 846.62,244.03 846.60,244.06 846.40,244.40 846.38,244.43 846.20,244.73 846.05,244.98 846.00,245.06 845.80,245.39 845.60,245.73 845.40,246.06 845.20,246.39 845.00,246.72 844.80,246.72 844.60,246.72 844.40,246.72 844.20,246.72 844.00,246.72 843.80,246.72 843.60,246.72 843.40,246.72 843.20,246.72 843.00,246.72 842.80,246.72 842.60,246.72 842.40,246.72 842.20,246.72 842.00,246.72 841.80,246.72 841.60,246.72 841.40,246.72 841.20,246.72 841.00,246.72 840.80,246.72 840.60,246.72 840.40,246.72 840.20,246.72 840.00,246.72 839.80,246.72 839.60,246.72 839.40,246.72 839.20,246.72 839.00,246.72 838.80,246.72 838.60,246.72 838.40,246.72 838.20,246.60 838.00,246.47 837.80,246.34 837.60,246.21 837.40,246.09 837.20,245.96 837.00,245.83 836.80,245.71 836.60,245.58 836.40,245.45 836.20,245.32 836.00,245.20 835.80,245.07 835.60,244.94 835.40,244.81 835.20,244.69 835.00,244.56 834.80,244.43 834.60,244.31 834.40,244.18 834.20,244.05 834.00,243.92 833.90,243.86 833.80,243.80 833.60,243.90 833.52,244.03 833.40,244.23 833.28,244.43 833.20,244.56 833.00,244.90 832.95,244.98 832.80,245.23 832.60,245.56 832.40,245.89 832.20,246.23 832.00,246.56 831.80,246.72 831.60,246.72 831.40,246.72 831.20,246.72 831.00,246.72 830.80,246.72 830.60,246.72 830.40,246.72 830.20,246.72 830.00,246.72 829.80,246.72 829.60,246.72 829.40,246.72 829.20,246.72 829.00,246.72 828.80,246.72 828.60,246.72 828.40,246.72 828.20,246.72 828.00,246.72 827.80,246.72 827.60,246.72 827.40,246.72 827.20,246.72 827.00,246.72 826.80,246.72 826.60,246.60 826.40,246.47 826.20,246.34 826.00,246.21 825.80,246.09 825.60,245.96 825.40,245.83 825.20,245.71 825.00,245.58 824.80,245.45 824.60,245.32 824.40,245.20 824.20,245.07 824.00,244.94 823.80,244.81 823.60,244.69 823.40,244.56 823.20,244.43 823.00,244.31 822.80,244.18 822.60,244.05 822.40,243.92 822.30,243.86 822.20,243.80 822.00,243.90 821.92,244.03 821.80,244.23 821.68,244.43 821.60,244.56 821.40,244.90 821.35,244.98 821.20,245.23 821.00,245.56 820.80,245.89 820.60,246.23 820.40,246.56 820.20,246.72 820.00,246.72 819.80,246.72 819.60,246.72 819.40,246.72 819.20,246.72 819.00,246.72 818.80,246.72 818.60,246.72 818.40,246.72 818.20,246.72 818.00,246.72 817.80,246.72 817.60,246.72 817.40,246.72 817.20,246.72 817.00,246.72 816.80,246.72 816.60,246.72 816.40,246.72 816.20,246.72 816.00,246.72 815.80,246.72 815.60,246.72 815.40,246.72 815.20,246.72 815.00,246.72 814.80,246.72 814.60,246.72 814.40,246.72 814.20,246.66 814.00,246.53 813.80,246.41 813.60,246.28 813.40,246.15 813.20,246.02 813.00,245.90 812.80,245.77 812.60,245.64 812.40,245.51 812.20,245.39 812.00,245.26 811.80,245.13 811.60,245.01 811.40,244.88 811.20,244.75 811.00,244.62 810.80,244.50 810.60,244.37 810.40,244.24 810.20,244.11 810.00,243.99 809.80,243.86 809.60,243.73 809.42,244.03 809.40,244.06 809.20,244.40 809.18,244.43 809.00,244.73 808.85,244.98 808.80,245.06 808.60,245.39 808.40,245.73 808.20,246.06 808.00,246.39 807.80,246.72 807.60,246.72 807.40,246.72 807.20,246.72 807.00,246.72 806.80,246.72 806.60,246.72 806.40,246.72 806.20,246.72 806.00,246.72 805.80,246.72 805.60,246.72 805.40,246.72 805.20,246.72 805.00,246.72 804.80,246.72 804.60,246.72 804.40,246.72 804.20,246.72 804.00,246.72 803.80,246.72 803.60,246.72 803.40,246.72 803.20,246.72 803.00,246.72 802.80,246.72 802.60,246.72 802.40,246.60 802.20,246.47 802.00,246.34 801.80,246.21 801.60,246.09 801.40,245.96 801.20,245.83 801.00,245.71 800.80,245.58 800.60,245.45 800.40,245.32 800.20,245.20 800.00,245.07 799.80,244.94 799.60,244.81 799.40,244.69 799.20,244.56 799.00,244.43 798.80,244.31 798.60,244.18 798.40,244.05 798.20,243.92 798.10,243.86 798.00,243.80 797.80,243.90 797.72,244.03 797.60,244.23 797.48,244.43 797.40,244.56 797.20,244.90 797.15,244.98 797.00,245.23 796.80,245.56 796.60,245.89 796.40,246.23 796.20,246.56 796.00,246.72 795.80,246.72 795.60,246.72 795.40,246.72 795.20,246.72 795.00,246.72 794.80,246.72 794.60,246.72 794.40,246.72 794.20,246.72 794.00,246.72 793.80,246.72 793.60,246.72 793.40,246.72 793.20,246.72 793.00,246.72 792.80,246.72 792.60,246.72 792.40,246.72 792.20,246.72 792.00,246.72 791.80,246.72 791.60,246.72 791.40,246.72 791.20,246.72 791.00,246.72 790.80,246.72 790.60,246.72 790.40,246.72 790.20,246.72 790.00,246.72 789.80,246.72 789.60,246.60 789.40,246.47 789.20,246.34 789.00,246.21 788.80,246.09 788.60,245.96 788.40,245.83 788.20,245.71 788.00,245.58 787.80,245.45 787.60,245.32 787.40,245.20 787.20,245.07 787.00,244.94 786.80,244.81 786.60,244.69 786.40,244.56 786.20,244.43 786.00,244.31 785.80,244.18 785.60,244.05 785.40,243.92 785.30,243.86 785.20,243.80 785.00,243.90 784.92,244.03 784.80,244.23 784.68,244.43 784.60,244.56 784.40,244.90 784.35,244.98 784.20,245.23 784.00,245.56 783.80,245.89 783.60,246.23 783.40,246.56 783.20,246.72 783.00,246.72 782.80,246.72 782.60,246.72 782.40,246.72 782.20,246.72 782.00,246.72 781.80,246.72 781.60,246.72 781.40,246.72 781.20,246.72 781.00,246.72 780.80,246.72 780.60,246.72 780.40,246.72 780.20,246.72 780.00,246.72 779.80,246.72 779.60,246.72 779.40,246.72 779.20,246.72 779.00,246.72 778.80,246.72 778.60,246.72 778.40,246.72 778.20,246.72 778.00,246.72 777.80,246.72 777.60,246.72 777.40,246.66 777.20,246.53 777.00,246.41 776.80,246.28 776.60,246.15 776.40,246.02 776.20,245.90 776.00,245.77 775.80,245.64 775.60,245.51 775.40,245.39 775.20,245.26 775.00,245.13 774.80,245.01 774.60,244.88 774.40,244.75 774.20,244.62 774.00,244.50 773.80,244.37 773.60,244.24 773.40,244.11 773.20,243.99 773.00,243.86 772.80,243.73 772.62,244.03 772.60,244.06 772.40,244.40 772.38,244.43 772.20,244.73 772.05,244.98 772.00,245.06 771.80,245.39 771.60,245.73 771.40,246.06 771.20,246.39 771.00,246.72 770.80,246.72 770.60,246.72 770.40,246.72 770.20,246.72 770.00,246.72 769.80,246.72 769.60,246.72 769.40,246.72 769.20,246.72 769.00,246.72 768.80,246.72 768.60,246.72 768.40,246.72 768.20,246.72 768.00,246.72 767.80,246.72 767.60,246.72 767.40,246.72 767.20,246.72 767.00,246.72 766.80,246.72 766.60,246.72 766.40,246.72 766.20,246.72 766.00,246.72 765.80,246.72 765.60,246.72 765.40,246.72 765.20,246.60 765.00,246.47 764.80,246.34 764.60,246.21 764.40,246.09 764.20,245.96 764.00,245.83 763.80,245.71 763.60,245.58 763.40,245.45 763.20,245.32 763.00,245.20 762.80,245.07 762.60,244.94 762.40,244.81 762.20,244.69 762.00,244.56 761.80,244.43 761.60,244.31 761.40,244.18 761.20,244.05 761.00,243.92 760.90,243.86 760.80,243.80 760.60,243.90 760.52,244.03 760.40,244.23 760.28,244.43 760.20,244.56 760.00,244.90 759.95,244.98 759.80,245.23 759.60,245.56 759.40,245.89 759.20,246.23 759.00,246.56 758.80,246.72 758.60,246.72 758.40,246.72 758.20,246.72 758.00,246.72 757.80,246.72 757.60,246.72 757.40,246.72 757.20,246.72 757.00,246.72 756.80,246.72 756.60,246.72 756.40,246.72 756.20,246.72 756.00,246.72 755.80,246.72 755.60,246.72 755.40,246.72 755.20,246.72 755.00,246.72 754.80,246.72 754.60,246.72 754.40,246.72 754.20,246.66 754.00,246.53 753.80,246.41 753.60,246.28 753.40,246.15 753.20,246.02 753.00,245.90 752.80,245.77 752.60,245.64 752.40,245.51 752.20,245.39 752.00,245.26 751.80,245.13 751.60,245.01 751.40,244.88 751.20,244.75 751.00,244.62 750.80,244.50 750.60,244.37 750.40,244.24 750.20,244.11 750.00,243.99 749.80,243.86 749.60,243.73 749.42,244.03 749.40,244.06 749.20,244.40 749.18,244.43 749.00,244.73 748.85,244.98 748.80,245.06 748.60,245.39 748.40,245.73 748.20,246.06 748.00,246.39 747.80,246.72 747.60,246.72 747.40,246.72 747.20,246.72 747.00,246.72 746.80,246.72 746.60,246.72 746.40,246.72 746.20,246.72 746.00,246.72 745.80,246.72 745.60,246.72 745.40,246.72 745.20,246.72 745.00,246.72 744.80,246.72 744.60,246.72 744.40,246.72 744.20,246.72 744.00,246.72 743.80,246.72 743.60,246.72 743.40,246.72 743.20,246.72 743.00,246.72 742.80,246.72 742.60,246.72 742.40,246.60 742.20,246.47 742.00,246.34 741.80,246.21 741.60,246.09 741.40,245.96 741.20,245.83 741.00,245.71 740.80,245.58 740.60,245.45 740.40,245.32 740.20,245.20 740.00,245.07 739.80,244.94 739.60,244.81 739.40,244.69 739.20,244.56 739.00,244.43 738.80,244.31 738.60,244.18 738.40,244.05 738.20,243.92 738.10,243.86 738.00,243.80 737.80,243.90 737.72,244.03 737.60,244.23 737.48,244.43 737.40,244.56 737.20,244.90 737.15,244.98 737.00,245.23 736.80,245.56 736.60,245.89 736.40,246.23 736.20,246.56 736.00,246.72 735.80,246.72 735.60,246.72 735.40,246.72 735.20,246.72 735.00,246.72 734.80,246.72 734.60,246.72 734.40,246.72 734.20,246.72 734.00,246.72 733.80,246.72 733.60,246.72 733.40,246.72 733.20,246.72 733.00,246.72 732.80,246.72 732.60,246.72 732.40,246.72 732.20,246.72 732.00,246.72 731.80,246.72 731.60,246.72 731.40,246.72 731.20,246.72 731.00,246.72 730.80,246.72 730.60,246.72 730.40,246.72 730.20,246.72 730.00,246.72 729.80,246.72 729.60,246.72 729.40,246.60 729.20,246.47 729.00,246.34 728.80,246.21 728.60,246.09 728.40,245.96 728.20,245.83 728.00,245.71 727.80,245.58 727.60,245.45 727.40,245.32 727.20,245.20 727.00,245.07 726.80,244.94 726.60,244.81 726.40,244.69 726.20,244.56 726.00,244.43 725.80,244.31 725.60,244.18 725.40,244.05 725.20,243.92 725.10,243.86 725.00,243.80 724.80,243.90 724.72,244.03 724.60,244.23 724.48,244.43 724.40,244.56 724.20,244.90 724.15,244.98 724.00,245.23 723.80,245.56 723.60,245.89 723.40,246.23 723.20,246.56 723.00,246.72 722.80,246.72 722.60,246.72 722.40,246.72 722.20,246.72 722.00,246.72 721.80,246.72 721.60,246.72 721.40,246.72 721.20,246.72 721.00,246.72 720.80,246.72 720.60,246.72 720.40,246.72 720.20,246.72 720.00,246.72 719.80,246.72 719.60,246.72 719.40,246.72 719.20,246.72 719.00,246.72 718.80,246.72 718.60,246.72 718.40,246.72 718.20,246.72 718.00,246.72 717.80,246.72 717.60,246.72 717.40,246.72 717.20,246.72 717.00,246.72 716.80,246.60 716.60,246.47 716.40,246.34 716.20,246.21 716.00,246.09 715.80,245.96 715.60,245.83 715.40,245.71 715.20,245.58 715.00,245.45 714.80,245.32 714.60,245.20 714.40,245.07 714.20,244.94 714.00,244.81 713.80,244.69 713.60,244.56 713.40,244.43 713.20,244.31 713.00,244.18 712.80,244.05 712.60,243.92 712.50,243.86 712.40,243.80 712.20,243.90 712.12,244.03 712.00,244.23 711.88,244.43 711.80,244.56 711.60,244.90 711.55,244.98 711.40,245.23 711.20,245.56 711.00,245.89 710.80,246.23 710.60,246.56 710.40,246.72 710.20,246.72 710.00,246.72 709.80,246.72 709.60,246.72 709.40,246.72 709.20,246.72 709.00,246.72 708.80,246.72 708.60,246.72 708.40,246.72 708.20,246.72 708.00,246.72 707.80,246.72 707.60,246.72 707.40,246.72 707.20,246.72 707.00,246.72 706.80,246.72 706.60,246.72 706.40,246.72 706.20,246.72 706.00,246.72 705.80,246.72 705.60,246.72 705.40,246.72 705.20,246.60 705.00,246.47 704.80,246.34 704.60,246.21 704.40,246.09 704.20,245.96 704.00,245.83 703.80,245.71 703.60,245.58 703.40,245.45 703.20,245.32 703.00,245.20 702.80,245.07 702.60,244.94 702.40,244.81 702.20,244.69 702.00,244.56 701.80,244.43 701.60,244.31 701.40,244.18 701.20,244.05 701.00,243.92 700.90,243.86 700.80,243.80 700.60,243.90 700.52,244.03 700.40,244.23 700.28,244.43 700.20,244.56 700.00,244.90 699.95,244.98 699.80,245.23 699.60,245.56 699.40,245.89 699.20,246.23 699.00,246.56 698.80,246.72 698.60,246.72 698.40,246.72 698.20,246.72 698.00,246.72 697.80,246.72 697.60,246.72 697.40,246.72 697.20,246.72 697.00,246.72 696.80,246.72 696.60,246.72 696.40,246.72 696.20,246.72 696.00,246.72 695.80,246.72 695.60,246.72 695.40,246.72 695.20,246.72 695.00,246.72 694.80,246.72 694.60,246.72 694.40,246.72 694.20,246.72 694.00,246.72 693.80,246.72 693.60,246.66 693.40,246.53 693.20,246.41 693.00,246.28 692.80,246.15 692.60,246.02 692.40,245.90 692.20,245.77 692.00,245.64 691.80,245.51 691.60,245.39 691.40,245.26 691.20,245.13 691.00,245.01 690.80,244.88 690.60,244.75 690.40,244.62 690.20,244.50 690.00,244.37 689.80,244.24 689.60,244.11 689.40,243.99 689.20,243.86 689.00,243.73 688.82,244.03 688.80,244.06 688.60,244.40 688.58,244.43 688.40,244.73 688.25,244.98 688.20,245.06 688.00,245.39 687.80,245.73 687.60,246.06 687.40,246.39 687.20,246.72 687.00,246.72 686.80,246.72 686.60,246.72 686.40,246.72 686.20,246.72 686.00,246.72 685.80,246.72 685.60,246.72 685.40,246.72 685.20,246.72 685.00,246.72 684.80,246.72 684.60,246.72 684.40,246.72 684.20,246.72 684.00,246.72 683.80,246.72 683.60,246.72 683.40,246.72 683.20,246.72 683.00,246.72 682.80,246.72 682.60,246.72 682.40,246.72 682.20,246.72 682.00,246.72 681.80,246.72 681.60,246.72 681.40,246.66 681.20,246.53 681.00,246.41 680.80,246.28 680.60,246.15 680.40,246.02 680.20,245.90 680.00,245.77 679.80,245.64 679.60,245.51 679.40,245.39 679.20,245.26 679.00,245.13 678.80,245.01 678.60,244.88 678.40,244.75 678.20,244.62 678.00,244.50 677.80,244.37 677.60,244.24 677.40,244.11 677.20,243.99 677.00,243.86 676.80,243.73 676.62,244.03 676.60,244.06 676.40,244.40 676.38,244.43 676.20,244.73 676.05,244.98 676.00,245.06 675.80,245.39 675.60,245.73 675.40,246.06 675.20,246.39 675.00,246.72 674.80,246.72 674.60,246.72 674.40,246.72 674.20,246.72 674.00,246.72 673.80,246.72 673.60,246.72 673.40,246.72 673.20,246.72 673.00,246.72 672.80,246.72 672.60,246.72 672.40,246.72 672.20,246.72 672.00,246.72 671.80,246.72 671.60,246.72 671.40,246.72 671.20,246.72 671.00,246.72 670.80,246.72 670.60,246.72 670.40,246.72 670.20,246.72 670.00,246.72 669.80,246.72 669.60,246.72 669.40,246.72 669.20,246.60 669.00,246.47 668.80,246.34 668.60,246.21 668.40,246.09 668.20,245.96 668.00,245.83 667.80,245.71 667.60,245.58 667.40,245.45 667.20,245.32 667.00,245.20 666.80,245.07 666.60,244.94 666.40,244.81 666.20,244.69 666.00,244.56 665.80,244.43 665.60,244.31 665.40,244.18 665.20,244.05 665.00,243.92 664.90,243.86 664.80,243.80 664.60,243.90 664.52,244.03 664.40,244.23 664.28,244.43 664.20,244.56 664.00,244.90 663.95,244.98 663.80,245.23 663.60,245.56 663.40,245.89 663.20,246.23 663.00,246.56 662.80,246.72 662.60,246.72 662.40,246.72 662.20,246.72 662.00,246.72 661.80,246.72 661.60,246.72 661.40,246.72 661.20,246.72 661.00,246.72 660.80,246.72 660.60,246.72 660.40,246.72 660.20,246.72 660.00,246.72 659.80,246.72 659.60,246.72 659.40,246.72 659.20,246.72 659.00,246.72 658.80,246.72 658.60,246.72 658.40,246.72 658.20,246.72 658.00,246.72 657.80,246.72 657.60,246.72 657.40,246.66 657.20,246.53 657.00,246.41 656.80,246.28 656.60,246.15 656.40,246.02 656.20,245.90 656.00,245.77 655.80,245.64 655.60,245.51 655.40,245.39 655.20,245.26 655.00,245.13 654.80,245.01 654.60,244.88 654.40,244.75 654.20,244.62 654.00,244.50 653.80,244.37 653.60,244.24 653.40,244.11 653.20,243.99 653.00,243.86 652.80,243.73 652.62,244.03 652.60,244.06 652.40,244.40 652.38,244.43 652.20,244.73 652.05,244.98 652.00,245.06 651.80,245.39 651.60,245.73 651.40,246.06 651.20,246.39 651.00,246.72 650.80,246.72 650.60,246.72 650.40,246.72 650.20,246.72 650.00,246.72 649.80,246.72 649.60,246.72 649.40,246.72 649.20,246.72 649.00,246.72 648.80,246.72 648.60,246.72 648.40,246.72 648.20,246.72 648.00,246.72 647.80,246.72 647.60,246.72 647.40,246.72 647.20,246.72 647.00,246.72 646.80,246.72 646.60,246.72 646.40,246.72 646.20,246.72 646.00,246.72 645.80,246.72 645.60,246.72 645.40,246.72 645.20,246.72 645.00,246.66 644.80,246.53 644.60,246.41 644.40,246.28 644.20,246.15 644.00,246.02 643.80,245.90 643.60,245.77 643.40,245.64 643.20,245.51 643.00,245.39 642.80,245.26 642.60,245.13 642.40,245.01 642.20,244.88 642.00,244.75 641.80,244.62 641.60,244.50 641.40,244.37 641.20,244.24 641.00,244.11 640.80,243.99 640.60,243.86 640.40,243.73 640.22,244.03 640.20,244.06 640.00,244.40 639.98,244.43 639.80,244.73 639.65,244.98 639.60,245.06 639.40,245.39 639.20,245.73 639.00,246.06 638.80,246.39 638.60,246.72 638.40,246.72 638.20,246.72 638.00,246.72 637.80,246.72 637.60,246.72 637.40,246.72 637.20,246.72 637.00,246.72 636.80,246.72 636.60,246.72 636.40,246.72 636.20,246.72 636.00,246.72 635.80,246.72 635.60,246.72 635.40,246.72 635.20,246.72 635.00,246.72 634.80,246.72 634.60,246.72 634.40,246.72 634.20,246.72 634.00,246.72 633.80,246.72 633.60,246.72 633.40,246.72 633.20,246.72 633.00,246.72 632.80,246.66 632.60,246.53 632.40,246.41 632.20,246.28 632.00,246.15 631.80,246.02 631.60,245.90 631.40,245.77 631.20,245.64 631.00,245.51 630.80,245.39 630.60,245.26 630.40,245.13 630.20,245.01 630.00,244.88 629.80,244.75 629.60,244.62 629.40,244.50 629.20,244.37 629.00,244.24 628.80,244.11 628.60,243.99 628.40,243.86 628.20,243.73 628.02,244.03 628.00,244.06 627.80,244.40 627.78,244.43 627.60,244.73 627.45,244.98 627.40,245.06 627.20,245.39 627.00,245.73 626.80,246.06 626.60,246.39 626.40,246.72 626.20,246.72 626.00,246.72 625.80,246.72 625.60,246.72 625.40,246.72 625.20,246.72 625.00,246.72 624.80,246.72 624.60,246.72 624.40,246.72 624.20,246.72 624.00,246.72 623.80,246.72 623.60,246.72 623.40,246.72 623.20,246.72 623.00,246.72 622.80,246.72 622.60,246.72 622.40,246.72 622.20,246.72 622.00,246.72 621.80,246.72 621.60,246.72 621.40,246.72 621.20,246.72 621.00,246.72 620.80,246.72 620.60,246.72 620.40,246.72 620.20,246.72 620.00,246.72 619.80,246.72 619.60,246.66 619.40,246.53 619.20,246.41 619.00,246.28 618.80,246.15 618.60,246.02 618.40,245.90 618.20,245.77 618.00,245.64 617.80,245.51 617.60,245.39 617.40,245.26 617.20,245.13 617.00,245.01 616.80,244.88 616.60,244.75 616.40,244.62 616.20,244.50 616.00,244.37 615.80,244.24 615.60,244.11 615.40,243.99 615.20,243.86 615.00,243.73 614.82,244.03 614.80,244.06 614.60,244.40 614.58,244.43 614.40,244.73 614.25,244.98 614.20,245.06 614.00,245.39 613.80,245.73 613.60,246.06 613.40,246.39 613.20,246.72 613.00,246.72 612.80,246.72 612.60,246.72 612.40,246.72 612.20,246.72 612.00,246.72 611.80,246.72 611.60,246.72 611.40,246.72 611.20,246.72 611.00,246.72 610.80,246.72 610.60,246.72 610.40,246.72 610.20,246.72 610.00,246.72 609.80,246.72 609.60,246.72 609.40,246.72 609.20,246.72 609.00,246.72 608.80,246.72 608.60,246.72 608.40,246.72 608.20,246.60 608.00,246.47 607.80,246.34 607.60,246.21 607.40,246.09 607.20,245.96 607.00,245.83 606.80,245.71 606.60,245.58 606.40,245.45 606.20,245.32 606.00,245.20 605.80,245.07 605.60,244.94 605.40,244.81 605.20,244.69 605.00,244.56 604.80,244.43 604.60,244.31 604.40,244.18 604.20,244.05 604.00,243.92 603.90,243.86 603.80,243.80 603.60,243.90 603.52,244.03 603.40,244.23 603.28,244.43 603.20,244.56 603.00,244.90 602.95,244.98 602.80,245.23 602.60,245.56 602.40,245.89 602.20,246.23 602.00,246.56 601.80,246.72 601.60,246.72 601.40,246.72 601.20,246.72 601.00,246.72 600.80,246.72 600.60,246.72 600.40,246.72 600.20,246.72 600.00,246.72 599.80,246.72 599.60,246.72 599.40,246.72 599.20,246.72 599.00,246.72 598.80,246.72 598.60,246.72 598.40,246.72 598.20,246.72 598.00,246.72 597.80,246.72 597.60,246.72 597.40,246.72 597.20,246.72 597.00,246.72 596.80,246.72 596.60,246.72 596.40,246.72 596.20,246.72 596.00,246.72 595.80,246.72 595.60,246.66 595.40,246.53 595.20,246.41 595.00,246.28 594.80,246.15 594.60,246.02 594.40,245.90 594.20,245.77 594.00,245.64 593.80,245.51 593.60,245.39 593.40,245.26 593.20,245.13 593.00,245.01 592.80,244.88 592.60,244.75 592.40,244.62 592.20,244.50 592.00,244.37 591.80,244.24 591.60,244.11 591.40,243.99 591.20,243.86 591.00,243.73 590.82,244.03 590.80,244.06 590.60,244.40 590.58,244.43 590.40,244.73 590.25,244.98 590.20,245.06 590.00,245.39 589.80,245.73 589.60,246.06 589.40,246.39 589.20,246.72 589.00,246.72 588.80,246.72 588.60,246.72 588.40,246.72 588.20,246.72 588.00,246.72 587.80,246.72 587.60,246.72 587.40,246.72 587.20,246.72 587.00,246.72 586.80,246.72 586.60,246.72 586.40,246.72 586.20,246.72 586.00,246.72 585.80,246.72 585.60,246.72 585.40,246.72 585.20,246.72 585.00,246.66 584.80,246.53 584.60,246.41 584.40,246.28 584.20,246.15 584.00,246.02 583.80,245.90 583.60,245.77 583.40,245.64 583.20,245.51 583.00,245.39 582.80,245.26 582.60,245.13 582.40,245.01 582.20,244.88 582.00,244.75 581.80,244.62 581.60,244.50 581.40,244.37 581.20,244.24 581.00,244.11 580.80,243.99 580.60,243.86 580.40,243.73 580.22,244.03 580.20,244.06 580.00,244.40 579.98,244.43 579.80,244.73 579.65,244.98 579.60,245.06 579.40,245.39 579.20,245.73 579.00,246.06 578.80,246.39 578.60,246.72 578.40,246.72 578.20,246.72 578.00,246.72 577.80,246.72 577.60,246.72 577.40,246.72 577.20,246.72 577.00,246.72 576.80,246.72 576.60,246.72 576.40,246.72 576.20,246.72 576.00,246.72 575.80,246.72 575.60,246.72 575.40,246.72 575.20,246.72 575.00,246.72 574.80,246.72 574.60,246.72 574.40,246.72 574.20,246.72 574.00,246.72 573.80,246.72 573.60,246.72 573.40,246.72 573.20,246.72 573.00,246.72 572.80,246.72 572.60,246.72 572.40,246.72 572.20,246.72 572.00,246.72 571.80,246.66 571.60,246.53 571.40,246.41 571.20,246.28 571.00,246.15 570.80,246.02 570.60,245.90 570.40,245.77 570.20,245.64 570.00,245.51 569.80,245.39 569.60,245.26 569.40,245.13 569.20,245.01 569.00,244.88 568.80,244.75 568.60,244.62 568.40,244.50 568.20,244.37 568.00,244.24 567.80,244.11 567.60,243.99 567.40,243.86 567.20,243.73 567.02,244.03 567.00,244.06 566.80,244.40 566.78,244.43 566.60,244.73 566.45,244.98 566.40,245.06 566.20,245.39 566.00,245.73 565.80,246.06 565.60,246.39 565.40,246.72 565.20,246.72 565.00,246.72 564.80,246.72 564.60,246.72 564.40,246.72 564.20,246.72 564.00,246.72 563.80,246.72 563.60,246.72 563.40,246.72 563.20,246.72 563.00,246.72 562.80,246.72 562.60,246.72 562.40,246.72 562.20,246.72 562.00,246.72 561.80,246.72 561.60,246.72 561.40,246.72 561.20,246.72 561.00,246.72 560.80,246.72 560.60,246.72 560.40,246.72 560.20,246.60 560.00,246.47 559.80,246.34 559.60,246.21 559.40,246.09 559.20,245.96 559.00,245.83 558.80,245.71 558.60,245.58 558.40,245.45 558.20,245.32 558.00,245.20 557.80,245.07 557.60,244.94 557.40,244.81 557.20,244.69 557.00,244.56 556.80,244.43 556.60,244.31 556.40,244.18 556.20,244.05 556.00,243.92 555.90,243.86 555.80,243.80 555.60,243.90 555.52,244.03 555.40,244.23 555.28,244.43 555.20,244.56 555.00,244.90 554.95,244.98 554.80,245.23 554.60,245.56 554.40,245.89 554.20,246.23 554.00,246.56 553.80,246.72 553.60,246.72 553.40,246.72 553.20,246.72 553.00,246.72 552.80,246.72 552.60,246.72 552.40,246.72 552.20,246.72 552.00,246.72 551.80,246.72 551.60,246.72 551.40,246.72 551.20,246.72 551.00,246.72 550.80,246.72 550.60,246.72 550.40,246.72 550.20,246.72 550.00,246.72 549.80,246.72 549.60,246.72 549.40,246.72 549.20,246.72 549.00,246.72 548.80,246.72 548.60,246.72 548.40,246.72 548.20,246.72 548.00,246.72 547.80,246.72 547.60,246.60 547.40,246.47 547.20,246.34 547.00,246.21 546.80,246.09 546.60,245.96 546.40,245.83 546.20,245.71 546.00,245.58 545.80,245.45 545.60,245.32 545.40,245.20 545.20,245.07 545.00,244.94 544.80,244.81 544.60,244.69 544.40,244.56 544.20,244.43 544.00,244.31 543.80,244.18 543.60,244.05 543.40,243.92 543.30,243.86 543.20,243.80 543.00,243.90 542.92,244.03 542.80,244.23 542.68,244.43 542.60,244.56 542.40,244.90 542.35,244.98 542.20,245.23 542.00,245.56 541.80,245.89 541.60,246.23 541.40,246.56 541.20,246.72 541.00,246.72 540.80,246.72 540.60,246.72 540.40,246.72 540.20,246.72 540.00,246.72 539.80,246.72 539.60,246.72 539.40,246.72 539.20,246.72 539.00,246.72 538.80,246.72 538.60,246.72 538.40,246.72 538.20,246.72 538.00,246.72 537.80,246.72 537.60,246.72 537.40,246.72 537.20,246.72 537.00,246.72 536.80,246.72 536.60,246.72 536.40,246.72 536.20,246.72 536.00,246.72 535.80,246.72 535.60,246.72 535.40,246.72 535.20,246.72 535.00,246.72 534.80,246.66 534.60,246.53 534.40,246.41 534.20,246.28 534.00,246.15 533.80,246.02 533.60,245.90 533.40,245.77 533.20,245.64 533.00,245.51 532.80,245.39 532.60,245.26 532.40,245.13 532.20,245.01 532.00,244.88 531.80,244.75 531.60,244.62 531.40,244.50 531.20,244.37 531.00,244.24 530.80,244.11 530.60,243.99 530.40,243.86 530.20,243.73 530.02,244.03 530.00,244.06 529.80,244.40 529.78,244.43 529.60,244.73 529.45,244.98 529.40,245.06 529.20,245.39 529.00,245.73 528.80,246.06 528.60,246.39 528.40,246.72 528.20,246.72 528.00,246.72 527.80,246.72 527.60,246.72 527.40,246.72 527.20,246.72 527.00,246.72 526.80,246.72 526.60,246.72 526.40,246.72 526.20,246.72 526.00,246.72 525.80,246.72 525.60,246.72 525.40,246.72 525.20,246.72 525.00,246.72 524.80,246.72 524.60,246.72 524.40,246.72 524.20,246.72 524.00,246.66 523.80,246.53 523.60,246.41 523.40,246.28 523.20,246.15 523.00,246.02 522.80,245.90 522.60,245.77 522.40,245.64 522.20,245.51 522.00,245.39 521.80,245.26 521.60,245.13 521.40,245.01 521.20,244.88 521.00,244.75 520.80,244.62 520.60,244.50 520.40,244.37 520.20,244.24 520.00,244.11 519.80,243.99 519.60,243.86 519.40,243.73 519.22,244.03 519.20,244.06 519.00,244.40 518.98,244.43 518.80,244.73 518.65,244.98 518.60,245.06 518.40,245.39 518.20,245.73 518.00,246.06 517.80,246.39 517.60,246.72 517.40,246.72 517.20,246.72 517.00,246.72 516.80,246.72 516.60,246.72 516.40,246.72 516.20,246.72 516.00,246.72 515.80,246.72 515.60,246.72 515.40,246.72 515.20,246.72 515.00,246.72 514.80,246.72 514.60,246.72 514.40,246.72 514.20,246.72 514.00,246.72 513.80,246.72 513.60,246.72 513.40,246.72 513.20,246.72 513.00,246.72 512.80,246.72 512.60,246.72 512.40,246.72 512.20,246.66 512.00,246.53 511.80,246.41 511.60,246.28 511.40,246.15 511.20,246.02 511.00,245.90 510.80,245.77 510.60,245.64 510.40,245.51 510.20,245.39 510.00,245.26 509.80,245.13 509.60,245.01 509.40,244.88 509.20,244.75 509.00,244.62 508.80,244.50 508.60,244.37 508.40,244.24 508.20,244.11 508.00,243.99 507.80,243.86 507.60,243.73 507.42,244.03 507.40,244.06 507.20,244.40 507.18,244.43 507.00,244.73 506.85,244.98 506.80,245.06 506.60,245.39 506.40,245.73 506.20,246.06 506.00,246.39 505.80,246.72 505.60,246.72 505.40,246.72 505.20,246.72 505.00,246.72 504.80,246.72 504.60,246.72 504.40,246.72 504.20,246.72 504.00,246.72 503.80,246.72 503.60,246.72 503.40,246.72 503.20,246.72 503.00,246.72 502.80,246.72 502.60,246.72 502.40,246.72 502.20,246.72 502.00,246.72 501.80,246.72 501.60,246.72 501.40,246.72 501.20,246.72 501.00,246.72 500.80,246.72 500.60,246.72 500.40,246.72 500.20,246.72 500.00,246.72 499.80,246.72 499.60,246.72 499.40,246.66 499.20,246.53 499.00,246.41 498.80,246.28 498.60,246.15 498.40,246.02 498.20,245.90 498.00,245.77 497.80,245.64 497.60,245.51 497.40,245.39 497.20,245.26 497.00,245.13 496.80,245.01 496.60,244.88 496.40,244.75 496.20,244.62 496.00,244.50 495.80,244.37 495.60,244.24 495.40,244.11 495.20,243.99 495.00,243.86 494.80,243.73 494.62,244.03 494.60,244.06 494.40,244.40 494.38,244.43 494.20,244.73 494.05,244.98 494.00,245.06 493.80,245.39 493.60,245.73 493.40,246.06 493.20,246.39 493.00,246.72 492.80,246.72 492.60,246.72 492.40,246.72 492.20,246.72 492.00,246.72 491.80,246.72 491.60,246.72 491.40,246.72 491.20,246.72 491.00,246.72 490.80,246.72 490.60,246.72 490.40,246.72 490.20,246.72 490.00,246.72 489.80,246.72 489.60,246.72 489.40,246.72 489.20,246.72 489.00,246.72 488.80,246.72 488.60,246.72 488.40,246.72 488.20,246.72 488.00,246.72 487.80,246.72 487.60,246.72 487.40,246.72 487.20,246.72 487.00,246.66 486.80,246.53 486.60,246.41 486.40,246.28 486.20,246.15 486.00,246.02 485.80,245.90 485.60,245.77 485.40,245.64 485.20,245.51 485.00,245.39 484.80,245.26 484.60,245.13 484.40,245.01 484.20,244.88 484.00,244.75 483.80,244.62 483.60,244.50 483.40,244.37 483.20,244.24 483.00,244.11 482.80,243.99 482.60,243.86 482.40,243.73 482.22,244.03 482.20,244.06 482.00,244.40 481.98,244.43 481.80,244.73 481.65,244.98 481.60,245.06 481.40,245.39 481.20,245.73 481.00,246.06 480.80,246.39 480.60,246.72 480.40,246.72 480.20,246.72 480.00,246.72 479.80,246.72 479.60,246.72 479.40,246.72 479.20,246.72 479.00,246.72 478.80,246.72 478.60,246.72 478.40,246.72 478.20,246.72 478.00,246.72 477.80,246.72 477.60,246.72 477.40,246.72 477.20,246.72 477.00,246.72 476.80,246.72 476.60,246.72 476.40,246.72 476.20,246.72 476.00,246.72 475.80,246.72 475.60,246.72 475.40,246.72 475.20,246.72 475.00,246.72 474.80,246.72 474.60,246.72 474.40,246.60 474.20,246.47 474.00,246.34 473.80,246.21 473.60,246.09 473.40,245.96 473.20,245.83 473.00,245.71 472.80,245.58 472.60,245.45 472.40,245.32 472.20,245.20 472.00,245.07 471.80,244.94 471.60,244.81 471.40,244.69 471.20,244.56 471.00,244.43 470.80,244.31 470.60,244.18 470.40,244.05 470.20,243.92 470.10,243.86 470.00,243.80 469.80,243.90 469.72,244.03 469.60,244.23 469.48,244.43 469.40,244.56 469.20,244.90 469.15,244.98 469.00,245.23 468.80,245.56 468.60,245.89 468.40,246.23 468.20,246.56 468.00,246.72 467.80,246.72 467.60,246.72 467.40,246.72 467.20,246.72 467.00,246.72 466.80,246.72 466.60,246.72 466.40,246.72 466.20,246.72 466.00,246.72 465.80,246.72 465.60,246.72 465.40,246.72 465.20,246.72 465.00,246.72 464.80,246.72 464.60,246.72 464.40,246.72 464.20,246.72 464.00,246.72 463.80,246.72 463.60,246.72 463.40,246.72 463.20,246.72 463.00,246.66 462.80,246.53 462.60,246.41 462.40,246.28 462.20,246.15 462.00,246.02 461.80,245.90 461.60,245.77 461.40,245.64 461.20,245.51 461.00,245.39 460.80,245.26 460.60,245.13 460.40,245.01 460.20,244.88 460.00,244.75 459.80,244.62 459.60,244.50 459.40,244.37 459.20,244.24 459.00,244.11 458.80,243.99 458.60,243.86 458.40,243.73 458.22,244.03 458.20,244.06 458.00,244.40 457.98,244.43 457.80,244.73 457.65,244.98 457.60,245.06 457.40,245.39 457.20,245.73 457.00,246.06 456.80,246.39 456.60,246.72 456.40,246.72 456.20,246.72 456.00,246.72 455.80,246.72 455.60,246.72 455.40,246.72 455.20,246.72 455.00,246.72 454.80,246.72 454.60,246.72 454.40,246.72 454.20,246.72 454.00,246.72 453.80,246.72 453.60,246.72 453.40,246.72 453.20,246.72 453.00,246.72 452.80,246.72 452.60,246.72 452.40,246.72 452.20,246.72 452.00,246.72 451.80,246.72 451.60,246.72 451.40,246.72 451.20,246.72 451.00,246.72 450.80,246.60 450.60,246.47 450.40,246.34 450.20,246.21 450.00,246.09 449.80,245.96 449.60,245.83 449.40,245.71 449.20,245.58 449.00,245.45 448.80,245.32 448.60,245.20 448.40,245.07 448.20,244.94 448.00,244.81 447.80,244.69 447.60,244.56 447.40,244.43 447.20,244.31 447.00,244.18 446.80,244.05 446.60,243.92 446.50,243.86 446.40,243.80 446.20,243.90 446.12,244.03 446.00,244.23 445.88,244.43 445.80,244.56 445.60,244.90 445.55,244.98 445.40,245.23 445.20,245.56 445.00,245.89 444.80,246.23 444.60,246.56 444.40,246.72 444.20,246.72 444.00,246.72 443.80,246.72 443.60,246.72 443.40,246.72 443.20,246.72 443.00,246.72 442.80,246.72 442.60,246.72 442.40,246.72 442.20,246.72 442.00,246.72 441.80,246.72 441.60,246.72 441.40,246.72 441.20,246.72 441.00,246.72 440.80,246.72 440.60,246.72 440.40,246.72 440.20,246.72 440.00,246.72 439.80,246.72 439.60,246.72 439.40,246.72 439.20,246.72 439.00,246.66 438.80,246.53 438.60,246.41 438.40,246.28 438.20,246.15 438.00,246.02 437.80,245.90 437.60,245.77 437.40,245.64 437.20,245.51 437.00,245.39 436.80,245.26 436.60,245.13 436.40,245.01 436.20,244.88 436.00,244.75 435.80,244.62 435.60,244.50 435.40,244.37 435.20,244.24 435.00,244.11 434.80,243.99 434.60,243.86 434.40,243.73 434.22,244.03 434.20,244.06 434.00,244.40 433.98,244.43 433.80,244.73 433.65,244.98 433.60,245.06 433.40,245.39 433.20,245.73 433.00,246.06 432.80,246.39 432.60,246.72 432.40,246.72 432.20,246.72 432.00,246.72 431.80,246.72 431.60,246.72 431.40,246.72 431.20,246.72 431.00,246.72 430.80,246.72 430.60,246.72 430.40,246.72 430.20,246.72 430.00,246.72 429.80,246.72 429.60,246.72 429.40,246.72 429.20,246.72 429.00,246.72 428.80,246.72 428.60,246.72 428.40,246.72 428.20,246.72 428.00,246.72 427.80,246.72 427.60,246.72 427.40,246.60 427.20,246.47 427.00,246.34 426.80,246.21 426.60,246.09 426.40,245.96 426.20,245.83 426.00,245.71 425.80,245.58 425.60,245.45 425.40,245.32 425.20,245.20 425.00,245.07 424.80,244.94 424.60,244.81 424.40,244.69 424.20,244.56 424.00,244.43 423.80,244.31 423.60,244.18 423.40,244.05 423.20,243.92 423.10,243.86 423.00,243.80 422.80,243.90 422.72,244.03 422.60,244.23 422.48,244.43 422.40,244.56 422.20,244.90 422.15,244.98 422.00,245.23 421.80,245.56 421.60,245.89 421.40,246.23 421.20,246.56 421.00,246.72 420.80,246.72 420.60,246.72 420.40,246.72 420.20,246.72 420.00,246.72 419.80,246.72 419.60,246.72 419.40,246.72 419.20,246.72 419.00,246.72 418.80,246.72 418.60,246.72 418.40,246.72 418.20,246.72 418.00,246.72 417.80,246.72 417.60,246.72 417.40,246.72 417.20,246.72 417.00,246.72 416.80,246.72 416.60,246.72 416.40,246.72 416.20,246.72 416.00,246.72 415.80,246.72 415.60,246.72 415.40,246.72 415.20,246.72 415.00,246.72 414.80,246.66 414.60,246.53 414.40,246.41 414.20,246.28 414.00,246.15 413.80,246.02 413.60,245.90 413.40,245.77 413.20,245.64 413.00,245.51 412.80,245.39 412.60,245.26 412.40,245.13 412.20,245.01 412.00,244.88 411.80,244.75 411.60,244.62 411.40,244.50 411.20,244.37 411.00,244.24 410.80,244.11 410.60,243.99 410.40,243.86 410.20,243.73 410.02,244.03 410.00,244.06 409.80,244.40 409.78,244.43 409.60,244.73 409.45,244.98 409.40,245.06 409.20,245.39 409.00,245.73 408.80,246.06 408.60,246.39 408.40,246.72 408.20,246.72 408.00,246.72 407.80,246.72 407.60,246.72 407.40,246.72 407.20,246.72 407.00,246.72 406.80,246.72 406.60,246.72 406.40,246.72 406.20,246.72 406.00,246.72 405.80,246.72 405.60,246.72 405.40,246.72 405.20,246.72 405.00,246.72 404.80,246.72 404.60,246.72 404.40,246.72 404.20,246.72 404.00,246.72 403.80,246.72 403.60,246.72 403.40,246.66 403.20,246.53 403.00,246.41 402.80,246.28 402.60,246.15 402.40,246.02 402.20,245.90 402.00,245.77 401.80,245.64 401.60,245.51 401.40,245.39 401.20,245.26 401.00,245.13 400.80,245.01 400.60,244.88 400.40,244.75 400.20,244.62 400.00,244.50 399.80,244.37 399.60,244.24 399.40,244.11 399.20,243.99 399.00,243.86 398.80,243.73 398.62,244.03 398.60,244.06 398.40,244.40 398.38,244.43 398.20,244.73 398.05,244.98 398.00,245.06 397.80,245.39 397.60,245.73 397.40,246.06 397.20,246.39 397.00,246.72 396.80,246.72 396.60,246.72 396.40,246.72 396.20,246.72 396.00,246.72 395.80,246.72 395.60,246.72 395.40,246.72 395.20,246.72 395.00,246.72 394.80,246.72 394.60,246.72 394.40,246.72 394.20,246.72 394.00,246.72 393.80,246.72 393.60,246.72 393.40,246.72 393.20,246.72 393.00,246.72 392.80,246.72 392.60,246.72 392.40,246.72 392.20,246.72 392.00,246.72 391.80,246.72 391.60,246.72 391.40,246.72 391.20,246.66 391.00,246.53 390.80,246.41 390.60,246.28 390.40,246.15 390.20,246.02 390.00,245.90 389.80,245.77 389.60,245.64 389.40,245.51 389.20,245.39 389.00,245.26 388.80,245.13 388.60,245.01 388.40,244.88 388.20,244.75 388.00,244.62 387.80,244.50 387.60,244.37 387.40,244.24 387.20,244.11 387.00,243.99 386.80,243.86 386.60,243.73 386.42,244.03 386.40,244.06 386.20,244.40 386.18,244.43 386.00,244.73 385.85,244.98 385.80,245.06 385.60,245.39 385.40,245.73 385.20,246.06 385.00,246.39 384.80,246.72 384.60,246.72 384.40,246.72 384.20,246.72 384.00,246.72 383.80,246.72 383.60,246.72 383.40,246.72 383.20,246.72 383.00,246.72 382.80,246.72 382.60,246.72 382.40,246.72 382.20,246.72 382.00,246.72 381.80,246.72 381.60,246.72 381.40,246.72 381.20,246.72 381.00,246.72 380.80,246.72 380.60,246.72 380.40,246.72 380.20,246.72 380.00,246.72 379.80,246.72 379.60,246.72 379.40,246.72 379.20,246.72 379.00,246.72 378.80,246.72 378.60,246.72 378.40,246.72 378.20,246.72 378.00,246.72 377.80,246.72 377.60,246.72 377.40,246.72 377.20,246.72 377.00,246.72 376.80,246.60 376.60,246.47 376.40,246.34 376.20,246.21 376.00,246.09 375.80,245.96 375.60,245.83 375.40,245.71 375.20,245.58 375.00,245.45 374.80,245.32 374.60,245.20 374.40,245.07 374.20,244.94 374.00,244.81 373.80,244.69 373.60,244.56 373.40,244.43 373.20,244.31 373.00,244.18 372.80,244.05 372.60,243.92 372.50,243.86 372.40,243.80 372.20,243.90 372.12,244.03 372.00,244.23 371.88,244.43 371.80,244.56 371.60,244.90 371.55,244.98 371.40,245.23 371.20,245.56 371.00,245.89 370.80,246.23 370.60,246.56 370.40,246.72 370.20,246.72 370.00,246.72 369.80,246.72 369.60,246.72 369.40,246.72 369.20,246.72 369.00,246.72 368.80,246.72 368.60,246.72 368.40,246.72 368.20,246.72 368.00,246.72 367.80,246.72 367.60,246.72 367.40,246.72 367.20,246.72 367.00,246.66 366.80,246.53 366.60,246.41 366.40,246.28 366.20,246.15 366.00,246.02 365.80,245.90 365.60,245.77 365.40,245.64 365.20,245.51 365.00,245.39 364.80,245.26 364.60,245.13 364.40,245.01 364.20,244.88 364.00,244.75 363.80,244.62 363.60,244.50 363.40,244.37 363.20,244.24 363.00,244.11 362.80,243.99 362.60,243.86 362.40,243.73 362.22,244.03 362.20,244.06 362.00,244.40 361.98,244.43 361.80,244.73 361.65,244.98 361.60,245.06 361.40,245.39 361.20,245.73 361.00,246.06 360.80,246.39 360.60,246.72 360.40,246.72 360.20,246.72 360.00,246.72 359.80,246.72 359.60,246.72 359.40,246.72 359.20,246.72 359.00,246.72 358.80,246.72 358.60,246.72 358.40,246.72 358.20,246.72 358.00,246.72 357.80,246.72 357.60,246.72 357.40,246.72 357.20,246.72 357.00,246.72 356.80,246.72 356.60,246.72 356.40,246.72 356.20,246.72 356.00,246.72 355.80,246.72 355.60,246.72 355.40,246.72 355.20,246.72 355.00,246.72 354.80,246.72 354.60,246.72 354.40,246.72 354.20,246.72 354.00,246.60 353.80,246.47 353.60,246.34 353.40,246.21 353.20,246.09 353.00,245.96 352.80,245.83 352.60,245.71 352.40,245.58 352.20,245.45 352.00,245.32 351.80,245.20 351.60,245.07 351.40,244.94 351.20,244.81 351.00,244.69 350.80,244.56 350.60,244.43 350.40,244.31 350.20,244.18 350.00,244.05 349.80,243.92 349.70,243.86 349.60,243.80 349.40,243.90 349.32,244.03 349.20,244.23 349.08,244.43 349.00,244.56 348.80,244.90 348.75,244.98 348.60,245.23 348.40,245.56 348.20,245.89 348.00,246.23 347.80,246.56 347.60,246.72 347.40,246.72 347.20,246.72 347.00,246.72 346.80,246.72 346.60,246.72 346.40,246.72 346.20,246.72 346.00,246.72 345.80,246.72 345.60,246.72 345.40,246.72 345.20,246.72 345.00,246.72 344.80,246.72 344.60,246.72 344.40,246.72 344.20,246.72 344.00,246.72 343.80,246.72 343.60,246.72 343.40,246.72 343.20,246.72 343.00,246.72 342.80,246.72 342.60,246.72 342.40,246.72 342.20,246.72 342.00,246.72 341.80,246.60 341.60,246.47 341.40,246.34 341.20,246.21 341.00,246.09 340.80,245.96 340.60,245.83 340.40,245.71 340.20,245.58 340.00,245.45 339.80,245.32 339.60,245.20 339.40,245.07 339.20,244.94 339.00,244.81 338.80,244.69 338.60,244.56 338.40,244.43 338.20,244.31 338.00,244.18 337.80,244.05 337.60,243.92 337.50,243.86 337.40,243.80 337.20,243.90 337.12,244.03 337.00,244.23 336.88,244.43 336.80,244.56 336.60,244.90 336.55,244.98 336.40,245.23 336.20,245.56 336.00,245.89 335.80,246.23 335.60,246.56 335.40,246.72 335.20,246.72 335.00,246.72 334.80,246.72 334.60,246.72 334.40,246.72 334.20,246.72 334.00,246.72 333.80,246.72 333.60,246.72 333.40,246.72 333.20,246.72 333.00,246.72 332.80,246.72 332.60,246.72 332.40,246.72 332.20,246.72 332.00,246.72 331.80,246.72 331.60,246.72 331.40,246.72 331.20,246.72 331.00,246.72 330.80,246.60 330.60,246.47 330.40,246.34 330.20,246.21 330.00,246.09 329.80,245.96 329.60,245.83 329.40,245.71 329.20,245.58 329.00,245.45 328.80,245.32 328.60,245.20 328.40,245.07 328.20,244.94 328.00,244.81 327.80,244.69 327.60,244.56 327.40,244.43 327.20,244.31 327.00,244.18 326.80,244.05 326.60,243.92 326.50,243.86 326.40,243.80 326.20,243.90 326.12,244.03 326.00,244.23 325.88,244.43 325.80,244.56 325.60,244.90 325.55,244.98 325.40,245.23 325.20,245.56 325.00,245.89 324.80,246.23 324.60,246.56 324.40,246.72 324.20,246.72 324.00,246.72 323.80,246.72 323.60,246.72 323.40,246.72 323.20,246.72 323.00,246.72 322.80,246.72 322.60,246.72 322.40,246.72 322.20,246.72 322.00,246.72 321.80,246.72 321.60,246.72 321.40,246.72 321.20,246.72 321.00,246.72 320.80,246.72 320.60,246.72 320.40,246.72 320.20,246.72 320.00,246.72 319.80,246.72 319.60,246.72 319.40,246.72 319.20,246.72 319.00,246.72 318.80,246.72 318.60,246.60 318.40,246.47 318.20,246.34 318.00,246.21 317.80,246.09 317.60,245.96 317.40,245.83 317.20,245.71 317.00,245.58 316.80,245.45 316.60,245.32 316.40,245.20 316.20,245.07 316.00,244.94 315.80,244.81 315.60,244.69 315.40,244.56 315.20,244.43 315.00,244.31 314.80,244.18 314.60,244.05 314.40,243.92 314.30,243.86 314.20,243.80 314.00,243.90 313.92,244.03 313.80,244.23 313.68,244.43 313.60,244.56 313.40,244.90 313.35,244.98 313.20,245.23 313.00,245.56 312.80,245.89 312.60,246.23 312.40,246.56 312.20,246.72 312.00,246.72 311.80,246.72 311.60,246.72 311.40,246.72 311.20,246.72 311.00,246.72 310.80,246.72 310.60,246.72 310.40,246.72 310.20,246.72 310.00,246.72 309.80,246.72 309.60,246.72 309.40,246.72 309.20,246.72 309.00,246.72 308.80,246.72 308.60,246.72 308.40,246.72 308.20,246.72 308.00,246.72 307.80,246.72 307.60,246.72 307.40,246.72 307.20,246.72 307.00,246.72 306.80,246.72 306.60,246.72 306.40,246.72 306.20,246.72 306.00,246.72 305.80,246.72 305.60,246.72 305.40,246.72 305.20,246.72 305.00,246.66 304.80,246.53 304.60,246.41 304.40,246.28 304.20,246.15 304.00,246.02 303.80,245.90 303.60,245.77 303.40,245.64 303.20,245.51 303.00,245.39 302.80,245.26 302.60,245.13 302.40,245.01 302.20,244.88 302.00,244.75 301.80,244.62 301.60,244.50 301.40,244.37 301.20,244.24 301.00,244.11 300.80,243.99 300.60,243.86 300.40,243.73 300.22,244.03 300.20,244.06 300.00,244.40 299.98,244.43 299.80,244.73 299.65,244.98 299.60,245.06 299.40,245.39 299.20,245.73 299.00,246.06 298.80,246.39 298.60,246.72 298.40,246.72 298.20,246.72 298.00,246.72 297.80,246.72 297.60,246.72 297.40,246.72 297.20,246.72 297.00,246.72 296.80,246.72 296.60,246.72 296.40,246.72 296.20,246.72 296.00,246.72 295.80,246.72 295.60,246.72 295.40,246.72 295.20,246.72 295.00,246.72 294.80,246.72 294.60,246.72 294.40,246.66 294.20,246.53 294.00,246.41 293.80,246.28 293.60,246.15 293.40,246.02 293.20,245.90 293.00,245.77 292.80,245.64 292.60,245.51 292.40,245.39 292.20,245.26 292.00,245.13 291.80,245.01 291.60,244.88 291.40,244.75 291.20,244.62 291.00,244.50 290.80,244.37 290.60,244.24 290.40,244.11 290.20,243.99 290.00,243.86 289.80,243.73 289.62,244.03 289.60,244.06 289.40,244.40 289.38,244.43 289.20,244.73 289.05,244.98 289.00,245.06 288.80,245.39 288.60,245.73 288.40,246.06 288.20,246.39 288.00,246.72 287.80,246.72 287.60,246.72 287.40,246.72 287.20,246.72 287.00,246.72 286.80,246.72 286.60,246.72 286.40,246.72 286.20,246.72 286.00,246.72 285.80,246.72 285.60,246.72 285.40,246.72 285.20,246.72 285.00,246.72 284.80,246.72 284.60,246.72 284.40,246.72 284.20,246.72 284.00,246.72 283.80,246.72 283.60,246.72 283.40,246.72 283.20,246.72 283.00,246.72 282.80,246.72 282.60,246.72 282.40,246.72 282.20,246.72 282.00,246.72 281.80,246.72 281.60,246.72 281.40,246.72 281.20,246.72 281.00,246.72 280.80,246.72 280.60,246.72 280.40,246.72 280.20,246.60 280.00,246.47 279.80,246.34 279.60,246.21 279.40,246.09 279.20,245.96 279.00,245.83 278.80,245.71 278.60,245.58 278.40,245.45 278.20,245.32 278.00,245.20 277.80,245.07 277.60,244.94 277.40,244.81 277.20,244.69 277.00,244.56 276.80,244.43 276.60,244.31 276.40,244.18 276.20,244.05 276.00,243.92 275.90,243.86 275.80,243.80 275.60,243.90 275.52,244.03 275.40,244.23 275.28,244.43 275.20,244.56 275.00,244.90 274.95,244.98 274.80,245.23 274.60,245.56 274.40,245.89 274.20,246.23 274.00,246.56 273.80,246.72 273.60,246.72 273.40,246.72 273.20,246.72 273.00,246.72 272.80,246.72 272.60,246.72 272.40,246.72 272.20,246.72 272.00,246.72 271.80,246.72 271.60,246.72 271.40,246.72 271.20,246.72 271.00,246.72 270.80,246.72 270.60,246.72 270.40,246.72 270.20,246.72 270.00,246.72 269.80,246.72 269.60,246.72 269.40,246.72 269.20,246.72 269.00,246.72 268.80,246.66 268.60,246.53 268.40,246.41 268.20,246.28 268.00,246.15 267.80,246.02 267.60,245.90 267.40,245.77 267.20,245.64 267.00,245.51 266.80,245.39 266.60,245.26 266.40,245.13 266.20,245.01 266.00,244.88 265.80,244.75 265.60,244.62 265.40,244.50 265.20,244.37 265.00,244.24 264.80,244.11 264.60,243.99 264.40,243.86 264.20,243.73 264.02,244.03 264.00,244.06 263.80,244.40 263.78,244.43 263.60,244.73 263.45,244.98 263.40,245.06 263.20,245.39 263.00,245.73 262.80,246.06 262.60,246.39 262.40,246.72 262.20,246.72 262.00,246.72 261.80,246.72 261.60,246.72 261.40,246.72 261.20,246.72 261.00,246.72 260.80,246.72 260.60,246.72 260.40,246.72 260.20,246.72 260.00,246.72 259.80,246.72 259.60,246.72 259.40,246.72 259.20,246.72 259.00,246.72 258.80,246.72 258.60,246.72 258.40,246.72 258.20,246.72 258.00,246.66 257.80,246.53 257.60,246.41 257.40,246.28 257.20,246.15 257.00,246.02 256.80,245.90 256.60,245.77 256.40,245.64 256.20,245.51 256.00,245.39 255.80,245.26 255.60,245.13 255.40,245.01 255.20,244.88 255.00,244.75 254.80,244.62 254.60,244.50 254.40,244.37 254.20,244.24 254.00,244.11 253.80,243.99 253.60,243.86 253.40,243.73 253.22,244.03 253.20,244.06 253.00,244.40 252.98,244.43 252.80,244.73 252.65,244.98 252.60,245.06 252.40,245.39 252.20,245.73 252.00,246.06 251.80,246.39 251.60,246.72 251.40,246.72 251.20,246.72 251.00,246.72 250.80,246.72 250.60,246.72 250.40,246.72 250.20,246.72 250.00,246.72 249.80,246.72 249.60,246.72 249.40,246.72 249.20,246.72 249.00,246.72 248.80,246.72 248.60,246.72 248.40,246.72 248.20,246.72 248.00,246.72 247.80,246.72 247.60,246.72 247.40,246.72 247.20,246.72 247.00,246.72 246.80,246.72 246.60,246.72 246.40,246.72 246.20,246.72 246.00,246.72 245.80,246.72 245.60,246.72 245.40,246.66 245.20,246.53 245.00,246.41 244.80,246.28 244.60,246.15 244.40,246.02 244.20,245.90 244.00,245.77 243.80,245.64 243.60,245.51 243.40,245.39 243.20,245.26 243.00,245.13 242.80,245.01 242.60,244.88 242.40,244.75 242.20,244.62 242.00,244.50 241.80,244.37 241.60,244.24 241.40,244.11 241.20,243.99 241.00,243.86 240.80,243.73 240.62,244.03 240.60,244.06 240.40,244.40 240.38,244.43 240.20,244.73 240.05,244.98 240.00,245.06 239.80,245.39 239.60,245.73 239.40,246.06 239.20,246.39 239.00,246.72 238.80,246.72 238.60,246.72 238.40,246.72 238.20,246.72 238.00,246.72 237.80,246.72 237.60,246.72 237.40,246.72 237.20,246.72 237.00,246.72 236.80,246.72 236.60,246.72 236.40,246.72 236.20,246.72 236.00,246.72 235.80,246.72 235.60,246.72 235.40,246.72 235.20,246.72 235.00,246.72 234.80,246.72 234.60,246.72 234.40,246.72 234.20,246.72 234.00,246.72 233.80,246.72 233.60,246.72 233.40,246.72 233.20,246.60 233.00,246.47 232.80,246.34 232.60,246.21 232.40,246.09 232.20,245.96 232.00,245.83 231.80,245.71 231.60,245.58 231.40,245.45 231.20,245.32 231.00,245.20 230.80,245.07 230.60,244.94 230.40,244.81 230.20,244.69 230.00,244.56 229.80,244.43 229.60,244.31 229.40,244.18 229.20,244.05 229.00,243.92 228.90,243.86 228.80,243.80 228.60,243.90 228.52,244.03 228.40,244.23 228.28,244.43 228.20,244.56 228.00,244.90 227.95,244.98 227.80,245.23 227.60,245.56 227.40,245.89 227.20,246.23 227.00,246.56 226.80,246.72 226.60,246.72 226.40,246.72 226.20,246.72 226.00,246.72 225.80,246.72 225.60,246.72 225.40,246.72 225.20,246.72 225.00,246.72 224.80,246.72 224.60,246.72 224.40,246.72 224.20,246.72 224.00,246.72 223.80,246.72 223.60,246.72 223.40,246.72 223.20,246.72 223.00,246.72 222.80,246.72 222.60,246.72 222.40,246.72 222.20,246.72 222.00,246.72 221.80,246.72 221.60,246.72 221.40,246.72 221.20,246.72 221.00,246.72 220.80,246.72 220.60,246.72 220.40,246.72 220.20,246.66 220.00,246.53 219.80,246.41 219.60,246.28 219.40,246.15 219.20,246.02 219.00,245.90 218.80,245.77 218.60,245.64 218.40,245.51 218.20,245.39 218.00,245.26 217.80,245.13 217.60,245.01 217.40,244.88 217.20,244.75 217.00,244.62 216.80,244.50 216.60,244.37 216.40,244.24 216.20,244.11 216.00,243.99 215.80,243.86 215.60,243.73 215.42,244.03 215.40,244.06 215.20,244.40 215.18,244.43 215.00,244.73 214.85,244.98 214.80,245.06 214.60,245.39 214.40,245.73 214.20,246.06 214.00,246.39 213.80,246.72 213.60,246.72 213.40,246.72 213.20,246.72 213.00,246.72 212.80,246.72 212.60,246.72 212.40,246.72 212.20,246.72 212.00,246.72 211.80,246.72 211.60,246.72 211.40,246.72 211.20,246.72 211.00,246.72 210.80,246.72 210.60,246.72 210.40,246.72 210.20,246.72 210.00,246.72 209.80,246.72 209.60,246.72 209.40,246.72 209.20,246.72 209.00,246.72 208.80,246.72 208.60,246.66 208.40,246.53 208.20,246.41 208.00,246.28 207.80,246.15 207.60,246.02 207.40,245.90 207.20,245.77 207.00,245.64 206.80,245.51 206.60,245.39 206.40,245.26 206.20,245.13 206.00,245.01 205.80,244.88 205.60,244.75 205.40,244.62 205.20,244.50 205.00,244.37 204.80,244.24 204.60,244.11 204.40,243.99 204.20,243.86 204.00,243.73 203.82,244.03 203.80,244.06 203.60,244.40 203.58,244.43 203.40,244.73 203.25,244.98 203.20,245.06 203.00,245.39 202.80,245.73 202.60,246.06 202.40,246.39 202.20,246.72 202.00,246.72 201.80,246.72 201.60,246.72 201.40,246.72 201.20,246.72 201.00,246.72 200.80,246.72 200.60,246.72 200.40,246.72 200.20,246.72 200.00,246.72 199.80,246.72 199.60,246.72 199.40,246.72 199.20,246.72 199.00,246.72 198.80,246.72 198.60,246.72 198.40,246.72 198.20,246.72 198.00,246.72 197.80,246.72 197.60,246.72 197.40,246.72 197.20,246.72 197.00,246.72 196.80,246.72 196.60,246.72 196.40,246.66 196.20,246.53 196.00,246.41 195.80,246.28 195.60,246.15 195.40,246.02 195.20,245.90 195.00,245.77 194.80,245.64 194.60,245.51 194.40,245.39 194.20,245.26 194.00,245.13 193.80,245.01 193.60,244.88 193.40,244.75 193.20,244.62 193.00,244.50 192.80,244.37 192.60,244.24 192.40,244.11 192.20,243.99 192.00,243.86 191.80,243.73 191.62,244.03 191.60,244.06 191.40,244.40 191.38,244.43 191.20,244.73 191.05,244.98 191.00,245.06 190.80,245.39 190.60,245.73 190.40,246.06 190.20,246.39 190.00,246.72 189.80,246.72 189.60,246.72 189.40,246.72 189.20,246.72 189.00,246.72 188.80,246.72 188.60,246.72 188.40,246.72 188.20,246.72 188.00,246.72 187.80,246.72 187.60,246.72 187.40,246.72 187.20,246.72 187.00,246.72 186.80,246.72 186.60,246.72 186.40,246.72 186.20,246.72 186.00,246.72 185.80,246.72 185.60,246.72 185.40,246.72 185.20,246.72 185.00,246.72 184.80,246.72 184.60,246.72 184.40,246.72 184.20,246.60 184.00,246.47 183.80,246.34 183.60,246.21 183.40,246.09 183.20,245.96 183.00,245.83 182.80,245.71 182.60,245.58 182.40,245.45 182.20,245.32 182.00,245.20 181.80,245.07 181.60,244.94 181.40,244.81 181.20,244.69 181.00,244.56 180.80,244.43 180.60,244.31 180.40,244.18 180.20,244.05 180.00,243.92 179.90,243.86 179.80,243.80 179.60,243.90 179.52,244.03 179.40,244.23 179.28,244.43 179.20,244.56 179.00,244.90 178.95,244.98 178.80,245.23 178.60,245.56 178.40,245.89 178.20,246.23 178.00,246.56 177.80,246.72 177.60,246.72 177.40,246.72 177.20,246.72 177.00,246.72 176.80,246.72 176.60,246.72 176.40,246.72 176.20,246.72 176.00,246.72 175.80,246.72 175.60,246.72 175.40,246.72 175.20,246.72 175.00,246.72 174.80,246.72 174.60,246.72 174.40,246.72 174.20,246.72 174.00,246.72 173.80,246.72 173.60,246.72 173.40,246.72 173.20,246.72 173.00,246.60 172.80,246.47 172.60,246.34 172.40,246.21 172.20,246.09 172.00,245.96 171.80,245.83 171.60,245.71 171.40,245.58 171.20,245.45 171.00,245.32 170.80,245.20 170.60,245.07 170.40,244.94 170.20,244.81 170.00,244.69 169.80,244.56 169.60,244.43 169.40,244.31 169.20,244.18 169.00,244.05 168.80,243.92 168.70,243.86 168.60,243.80 168.40,243.90 168.32,244.03 168.20,244.23 168.08,244.43 168.00,244.56 167.80,244.90 167.75,244.98 167.60,245.23 167.40,245.56 167.20,245.89 167.00,246.23 166.80,246.56 166.60,246.72 166.40,246.72 166.20,246.72 166.00,246.72 165.80,246.72 165.60,246.72 165.40,246.72 165.20,246.72 165.00,246.72 164.80,246.72 164.60,246.72 164.40,246.72 164.20,246.72 164.00,246.72 163.80,246.72 163.60,246.72 163.40,246.72 163.20,246.72 163.00,246.72 162.80,246.72 162.60,246.72 162.40,246.72 162.20,246.72 162.00,246.72 161.80,246.72 161.60,246.72 161.40,246.72 161.20,246.72 161.00,246.72 160.80,246.72 160.60,246.72 160.40,246.72 160.20,246.60 160.00,246.47 159.80,246.34 159.60,246.21 159.40,246.09 159.20,245.96 159.00,245.83 158.80,245.71 158.60,245.58 158.40,245.45 158.20,245.32 158.00,245.20 157.80,245.07 157.60,244.94 157.40,244.81 157.20,244.69 157.00,244.56 156.80,244.43 156.60,244.31 156.40,244.18 156.20,244.05 156.00,243.92 155.90,243.86 155.80,243.80 155.60,243.90 155.52,244.03 155.40,244.23 155.28,244.43 155.20,244.56 155.00,244.90 154.95,244.98 154.80,245.23 154.60,245.56 154.40,245.89 154.20,246.23 154.00,246.56 153.80,246.72 153.60,246.72 153.40,246.72 153.20,246.72 153.00,246.72 152.80,246.72 152.60,246.72 152.40,246.72 152.20,246.72 152.00,246.72 151.80,246.72 151.60,246.72 151.40,246.72 151.20,246.72 151.00,246.72 150.80,246.72 150.60,246.72 150.40,246.72 150.20,246.72 150.00,246.72 149.80,246.72 149.60,246.72 149.40,246.72 149.20,246.72 149.00,246.72 148.80,246.72 148.60,246.72 148.40,246.60 148.20,246.47 148.00,246.34 147.80,246.21 147.60,246.09 147.40,245.96 147.20,245.83 147.00,245.71 146.80,245.58 146.60,245.45 146.40,245.32 146.20,245.20 146.00,245.07 145.80,244.94 145.60,244.81 145.40,244.69 145.20,244.56 145.00,244.43 144.80,244.31 144.60,244.18 144.40,244.05 144.20,243.92 144.10,243.86 144.00,243.80 143.80,243.90 143.72,244.03 143.60,244.23 143.48,244.43 143.40,244.56 143.20,244.90 143.15,244.98 143.00,245.23 142.80,245.56 142.60,245.89 142.40,246.23 142.20,246.56 142.00,246.72 141.80,246.72 141.60,246.72 141.40,246.72 141.20,246.72 141.00,246.72 140.80,246.72 140.60,246.72 140.40,246.72 140.20,246.72 140.00,246.72 139.80,246.72 139.60,246.72 139.40,246.72 139.20,246.72 139.00,246.72 138.80,246.72 138.60,246.72 138.40,246.72 138.20,246.72 138.00,246.72 137.80,246.72 137.60,246.72 137.40,246.72 137.20,246.60 137.00,246.47 136.80,246.34 136.60,246.21 136.40,246.09 136.20,245.96 136.00,245.83 135.80,245.71 135.60,245.58 135.40,245.45 135.20,245.32 135.00,245.20 134.80,245.07 134.60,244.94 134.40,244.81 134.20,244.69 134.00,244.56 133.80,244.43 133.60,244.31 133.40,244.18 133.20,244.05 133.00,243.92 132.90,243.86 132.80,243.80 132.60,243.90 132.52,244.03 132.40,244.23 132.28,244.43 132.20,244.56 132.00,244.90 131.95,244.98 131.80,245.23 131.60,245.56 131.40,245.89 131.20,246.23 131.00,246.56 130.80,246.72 130.60,246.72 130.40,246.72 130.20,246.72 130.00,246.72 129.80,246.72 129.60,246.72 129.40,246.72 129.20,246.72 129.00,246.72 128.80,246.72 128.60,246.72 128.40,246.72 128.20,246.72 128.00,246.72 127.80,246.72 127.60,246.72 127.40,246.72 127.20,246.72 127.00,246.72 126.80,246.72 126.60,246.72 126.40,246.72 126.20,246.72 126.00,246.72 125.80,246.72 125.60,246.72 125.40,246.72 125.20,246.72 125.00,246.72" fill="#1f77b4" stroke="#1f77b4" stroke-width="2.083" stroke-linejoin="round"/>
</g>
<line x1="173.50" x2="173.50" y1="253.50" y2="256.40" stroke="#000" stroke-width="0.833"/>
<line x1="234.50" x2="234.50" y1="253.50" y2="258.50" stroke="#000" stroke-width="1.111"/>
<text x="233.97" y="272.61" text-anchor="middle" font-size="13.889">1960</text>
<line x1="295.50" x2="295.50" y1="253.50" y2="256.40" stroke="#000" stroke-width="0.833"/>
<line x1="355.50" x2="355.50" y1="253.50" y2="258.50" stroke="#000" stroke-width="1.111"/>
<text x="355.08" y="272.61" text-anchor="middle" font-size="13.889">1970</text>
<line x1="416.50" x2="416.50" y1="253.50" y2="256.40" stroke="#000" stroke-width="0.833"/>
<line x1="476.50" x2="476.50" y1="253.50" y2="258.50" stroke="#000" stroke-width="1.111"/>
<text x="476.16" y="272.61" text-anchor="middle" font-size="13.889">1980</text>
<line x1="537.50" x2="537.50" y1="253.50" y2="256.40" stroke="#000" stroke-width="0.833"/>
<line x1="597.50" x2="597.50" y1="253.50" y2="258.50" stroke="#000" stroke-width="1.111"/>
<text x="597.28" y="272.61" text-anchor="middle" font-size="13.889">1990</text>
<line x1="658.50" x2="658.50" y1="253.50" y2="256.40" stroke="#000" stroke-width="0.833"/>
<line x1="718.50" x2="718.50" y1="253.50" y2="258.50" stroke="#000" stroke-width="1.111"/>
<text x="718.36" y="272.61" text-anchor="middle" font-size="13.889">2000</text>
<line x1="779.50" x2="779.50" y1="253.50" y2="256.40" stroke="#000" stroke-width="0.833"/>
<line x1="839.50" x2="839.50" y1="253.50" y2="258.50" stroke="#000" stroke-width="1.111"/>
<text x="839.47" y="272.61" text-anchor="middle" font-size="13.889">2010</text>
<line x1="125.50" x2="125.50" y1="253.50" y2="258.50" stroke="#000" stroke-width="1.111"/>
<line x1="900.50" x2="900.50" y1="253.50" y2="258.50" stroke="#000" stroke-width="1.111"/>
<line x1="120.1" x2="125.5" y1="247.50" y2="247.50" stroke="#000" stroke-width="1.111"/>
<text x="114.9" y="251.79" text-anchor="end" font-size="13.889">0.0</text>
<line x1="120.1" x2="125.5" y1="212.50" y2="212.50" stroke="#000" stroke-width="1.111"/>
<text x="114.9" y="216.59" text-anchor="end" font-size="13.889">0.1</text>
<line x1="120.1" x2="125.5" y1="176.50" y2="176.50" stroke="#000" stroke-width="1.111"/>
<text x="114.9" y="181.39" text-anchor="end" font-size="13.889">0.2</text>
<line x1="120.1" x2="125.5" y1="141.50" y2="141.50" stroke="#000" stroke-width="1.111"/>
<text x="114.9" y="146.19" text-anchor="end" font-size="13.889">0.3</text>
<text transform="translate(84.0,188.05) rotate(-90)" text-anchor="middle" letter-spacing="-0.13" font-size="13.889">fieldmean</text>
<rect x="125.5" y="120.50" width="775.0" height="133.00" fill="none" stroke="#000" stroke-width="1.111"/>
<g clip-path="url(#c1)">
<clipPath id="c1"><rect x="125.0" y="279.31" width="775.0" height="132.76"/></clipPath>
<line x1="125.0" x2="900.0" y1="345.69" y2="345.69" stroke="#1f77b4" stroke-width="2.083"/>
</g>
<line x1="173.50" x2="173.50" y1="412.50" y2="415.40" stroke="#000" stroke-width="0.833"/>
<line x1="234.50" x2="234.50" y1="412.50" y2="417.50" stroke="#000" stroke-width="1.111"/>
<text x="233.97" y="431.92" text-anchor="middle" font-size="13.889">1960</text>
<line x1="295.50" x2="295.50" y1="412.50" y2="415.40" stroke="#000" stroke-width="0.833"/>
<line x1="355.50" x2="355.50" y1="412.50" y2="417.50" stroke="#000" stroke-width="1.111"/>
<text x="355.08" y="431.92" text-anchor="middle" font-size="13.889">1970</text>
<line x1="416.50" x2="416.50" y1="412.50" y2="415.40" stroke="#000" stroke-width="0.833"/>
<line x1="476.50" x2="476.50" y1="412.50" y2="417.50" stroke="#000" stroke-width="1.111"/>
<text x="476.16" y="431.92" text-anchor="middle" font-size="13.889">1980</text>
<line x1="537.50" x2="537.50" y1="412.50" y2="415.40" stroke="#000" stroke-width="0.833"/>
<line x1="597.50" x2="597.50" y1="412.50" y2="417.50" stroke="#000" stroke-width="1.111"/>
<text x="597.28" y="431.92" text-anchor="middle" font-size="13.889">1990</text>
<line x1="658.50" x2="658.50" y1="412.50" y2="415.40" stroke="#000" stroke-width="0.833"/>
<line x1="718.50" x2="718.50" y1="412.50" y2="417.50" stroke="#000" stroke-width="1.111"/>
<text x="718.36" y="431.92" text-anchor="middle" font-size="13.889">2000</text>
<line x1="779.50" x2="779.50" y1="412.50" y2="415.40" stroke="#000" stroke-width="0.833"/>
<line x1="839.50" x2="839.50" y1="412.50" y2="417.50" stroke="#000" stroke-width="1.111"/>
<text x="839.47" y="431.92" text-anchor="middle" font-size="13.889">2010</text>
<line x1="125.50" x2="125.50" y1="412.50" y2="417.50" stroke="#000" stroke-width="1.111"/>
<line x1="900.50" x2="900.50" y1="412.50" y2="417.50" stroke="#000" stroke-width="1.111"/>
<line x1="120.1" x2="125.5" y1="406.50" y2="406.50" stroke="#000" stroke-width="1.111"/>
<text x="114.9" y="411.10" text-anchor="end" font-size="13.889">−0.05</text>
<line x1="120.1" x2="125.5" y1="346.50" y2="346.50" stroke="#000" stroke-width="1.111"/>
<text x="114.9" y="350.76" text-anchor="end" font-size="13.889">0.00</text>
<line x1="120.1" x2="125.5" y1="285.50" y2="285.50" stroke="#000" stroke-width="1.111"/>
<text x="114.9" y="290.41" text-anchor="end" font-size="13.889">0.05</text>
<text transform="translate(63.0,347.60) rotate(-90)" text-anchor="middle" letter-spacing="-0.13" font-size="13.889">fieldmin</text>
<rect x="125.5" y="279.50" width="775.0" height="133.00" fill="none" stroke="#000" stroke-width="1.111"/>
<g clip-path="url(#c2)">
<clipPath id="c2"><rect x="125.0" y="438.62" width="775.0" height="132.76"/></clipPath>
<polygon points="125.00,443.62 125.25,443.62 125.50,443.62 125.75,443.62 126.00,443.62 126.25,443.62 126.50,443.62 126.75,443.62 127.00,443.62 127.25,443.62 127.50,443.62 127.75,443.62 128.00,443.62 128.25,443.62 128.50,443.62 128.75,443.62 129.00,443.62 129.25,443.62 129.50,443.62 129.75,443.62 130.00,443.62 130.25,443.62 130.50,443.62 130.75,443.62 131.00,443.62 131.25,443.62 131.50,443.62 131.75,443.92 132.00,444.22 132.25,444.52 132.50,444.52 132.75,444.52 133.00,444.22 133.25,443.92 133.50,443.62 133.75,443.62 134.00,443.62 134.25,443.62 134.50,443.62 134.75,443.62 135.00,443.62 135.25,443.62 135.50,443.62 135.75,443.62 136.00,443.62 136.25,443.62 136.50,443.62 136.75,443.62 137.00,443.62 137.25,443.62 137.50,443.62 137.75,443.62 138.00,443.62 138.25,443.62 138.50,443.62 138.75,443.62 139.00,443.62 139.25,443.62 139.50,443.62 139.75,443.62 140.00,443.62 140.25,443.62 140.50,443.62 140.75,443.62 141.00,443.62 141.25,443.62 141.50,443.62 141.75,443.62 142.00,443.62 142.25,443.62 142.50,443.92 142.75,444.22 143.00,444.52 143.25,444.82 143.50,445.12 143.75,444.82 144.00,444.52 144.25,444.22 144.50,443.92 144.75,443.62 145.00,443.62 145.25,443.62 145.50,443.62 145.75,443.62 146.00,443.62 146.25,443.62 146.50,443.62 146.75,443.62 147.00,443.62 147.25,443.62 147.50,443.62 147.75,443.62 148.00,443.62 148.25,443.62 148.50,443.62 148.75,443.62 149.00,443.62 149.25,443.62 149.50,443.62 149.75,443.62 150.00,443.62 150.25,443.62 150.50,443.62 150.75,443.62 151.00,443.62 151.25,443.62 151.50,443.62 151.75,443.62 152.00,443.62 152.25,443.62 152.50,443.62 152.75,443.62 153.00,443.62 153.25,443.62 153.50,443.62 153.75,443.62 154.00,443.62 154.25,443.62 154.50,443.62 154.75,443.62 155.00,443.62 155.25,443.92 155.50,444.22 155.75,444.52 156.00,444.82 156.25,445.12 156.50,445.12 156.75,444.82 157.00,444.52 157.25,444.22 157.50,443.92 157.75,443.62 158.00,443.62 158.25,443.62 158.50,443.62 158.75,443.62 159.00,443.62 159.25,443.62 159.50,443.62 159.75,443.62 160.00,443.62 160.25,443.62 160.50,443.62 160.75,443.62 161.00,443.62 161.25,443.62 161.50,443.62 161.75,443.62 162.00,443.62 162.25,443.62 162.50,443.62 162.75,443.62 163.00,443.62 163.25,443.62 163.50,443.62 163.75,443.62 164.00,443.62 164.25,443.62 164.50,443.62 164.75,443.62 165.00,443.62 165.25,443.62 165.50,443.62 165.75,443.62 166.00,443.62 166.25,443.62 166.50,443.62 166.75,443.62 167.00,443.62 167.25,443.62 167.50,443.62 167.75,443.62 168.00,443.62 168.25,443.62 168.50,443.62 168.75,443.92 169.00,444.22 169.25,444.52 169.50,444.78 169.75,445.08 170.00,445.08 170.25,445.08 170.50,445.08 170.75,445.12 171.00,445.12 171.25,445.12 171.50,445.12 171.75,445.12 172.00,445.12 172.25,445.12 172.50,445.12 172.75,445.12 173.00,445.12 173.25,445.12 173.50,445.12 173.75,445.12 174.00,445.12 174.25,445.12 174.50,445.12 174.75,445.12 175.00,445.12 175.25,445.07 175.50,444.98 175.75,444.85 176.00,444.69 176.25,444.49 176.50,444.29 176.75,444.09 177.00,443.94 177.25,443.87 177.50,443.88 177.75,443.96 178.00,444.13 178.25,444.33 178.50,444.53 178.75,444.73 179.00,444.89 179.25,445.00 179.50,445.08 179.75,445.12 180.00,445.12 180.25,445.12 180.50,445.12 180.75,445.12 181.00,445.12 181.25,445.12 181.50,445.12 181.75,445.12 182.00,445.12 182.25,445.12 182.50,445.12 182.75,445.12 183.00,445.12 183.25,445.12 183.50,445.12 183.75,445.12 184.00,445.12 184.25,445.12 184.50,445.12 184.75,445.12 185.00,445.12 185.25,445.12 185.50,445.12 185.75,445.12 186.00,445.12 186.25,445.12 186.50,445.12 186.75,445.12 187.00,445.12 187.25,445.11 187.50,445.05 187.75,444.96 188.00,444.82 188.25,444.65 188.50,444.45 188.75,444.25 189.00,444.05 189.25,443.92 189.50,443.86 189.75,443.89 190.00,443.99 190.25,444.17 190.50,444.37 190.75,444.57 191.00,444.76 191.25,444.91 191.50,445.02 191.75,445.09 192.00,445.12 192.25,445.12 192.50,445.12 192.75,445.12 193.00,445.12 193.25,445.12 193.50,445.12 193.75,445.12 194.00,445.12 194.25,445.12 194.50,445.12 194.75,445.12 195.00,445.12 195.25,445.12 195.50,445.12 195.75,445.12 196.00,445.12 196.25,445.12 196.50,445.12 196.75,445.12 197.00,445.12 197.25,445.12 197.50,445.12 197.75,445.12 198.00,445.12 198.25,445.12 198.50,445.12 198.75,445.12 199.00,445.12 199.25,445.12 199.50,445.12 199.75,445.12 200.00,445.12 200.25,445.12 200.50,445.12 200.75,445.11 201.00,445.05 201.25,444.96 201.50,444.82 201.75,444.65 202.00,444.45 202.25,444.25 202.50,444.05 202.75,443.92 203.00,443.86 203.25,443.89 203.50,443.99 203.75,444.17 204.00,444.37 204.25,444.57 204.50,444.76 204.75,444.91 205.00,445.02 205.25,445.09 205.50,445.12 205.75,445.12 206.00,445.12 206.25,445.12 206.50,445.12 206.75,445.12 207.00,445.12 207.25,445.12 207.50,445.12 207.75,445.12 208.00,445.12 208.25,445.12 208.50,445.12 208.75,445.12 209.00,445.12 209.25,445.12 209.50,445.12 209.75,445.12 210.00,445.12 210.25,445.12 210.50,445.12 210.75,445.12 211.00,445.12 211.25,445.12 211.50,445.12 211.75,445.12 212.00,445.12 212.25,445.11 212.50,445.05 212.75,444.96 213.00,444.82 213.25,444.65 213.50,444.45 213.75,444.25 214.00,444.05 214.25,443.92 214.50,443.86 214.75,443.89 215.00,443.99 215.25,444.17 215.50,444.37 215.75,444.57 216.00,444.76 216.25,444.91 216.50,445.02 216.75,445.09 217.00,445.12 217.25,445.12 217.50,445.12 217.75,445.12 218.00,445.12 218.25,445.12 218.50,445.12 218.75,445.12 219.00,445.12 219.25,445.12 219.50,445.12 219.75,445.12 220.00,445.12 220.25,445.12 220.50,445.12 220.75,445.12 221.00,445.12 221.25,445.12 221.50,445.12 221.75,445.12 222.00,445.12 222.25,445.12 222.50,445.12 222.75,445.12 223.00,445.12 223.25,445.12 223.50,445.12 223.75,445.12 224.00,445.12 224.25,445.12 224.50,445.11 224.75,445.05 225.00,444.96 225.25,444.82 225.50,444.65 225.75,444.45 226.00,444.25 226.25,444.05 226.50,443.92 226.75,443.86 227.00,443.89 227.25,443.99 227.50,444.17 227.75,444.37 228.00,444.57 228.25,444.76 228.50,444.91 228.75,445.02 229.00,445.09 229.25,445.12 229.50,445.12 229.75,445.12 230.00,445.12 230.25,445.12 230.50,445.12 230.75,445.12 231.00,445.12 231.25,445.12 231.50,445.12 231.75,445.12 232.00,445.12 232.25,445.12 232.50,445.12 232.75,445.12 233.00,445.12 233.25,445.12 233.50,445.12 233.75,445.12 234.00,445.12 234.25,445.12 234.50,445.12 234.75,445.12 235.00,445.12 235.25,445.12 235.50,445.12 235.75,445.12 236.00,445.12 236.25,445.12 236.50,445.12 236.75,445.11 237.00,445.05 237.25,444.96 237.50,444.82 237.75,444.65 238.00,444.45 238.25,444.25 238.50,444.05 238.75,443.92 239.00,443.86 239.25,443.89 239.50,443.99 239.75,444.17 240.00,444.37 240.25,444.57 240.50,444.76 240.75,444.91 241.00,445.02 241.25,445.09 241.50,445.12 241.75,445.12 242.00,445.12 242.25,445.12 242.50,445.12 242.75,445.12 243.00,445.12 243.25,445.12 243.50,445.12 243.75,445.12 244.00,445.12 244.25,445.12 244.50,445.12 244.75,445.12 245.00,445.12 245.25,445.12 245.50,445.12 245.75,445.12 246.00,445.12 246.25,445.12 246.50,445.12 246.75,445.12 247.00,445.12 247.25,445.12 247.50,445.12 247.75,445.12 248.00,445.12 248.25,445.12 248.50,445.12 248.75,445.12 249.00,445.12 249.25,445.12 249.50,445.12 249.75,445.12 250.00,445.12 250.25,445.12 250.50,445.12 250.75,445.12 251.00,445.12 251.25,445.12 251.50,445.12 251.75,445.12 252.00,445.12 252.25,445.12 252.50,445.12 252.75,445.12 253.00,445.12 253.25,445.12 253.50,445.12 253.75,445.12 254.00,445.12 254.25,445.12 254.50,445.12 254.75,445.12 255.00,445.12 255.25,445.12 255.50,445.12 255.75,445.12 256.00,445.12 256.25,445.12 256.50,445.12 256.75,445.12 257.00,445.12 257.25,445.12 257.50,445.12 257.75,445.12 258.00,445.12 258.25,445.12 258.50,445.12 258.75,445.12 259.00,445.12 259.25,445.12 259.50,445.12 259.75,445.12 260.00,445.12 260.25,445.12 260.50,445.12 260.75,445.12 261.00,445.12 261.25,445.12 261.50,445.12 261.75,445.12 262.00,445.12 262.25,445.12 262.50,445.12 262.75,445.12 263.00,445.12 263.25,445.12 263.50,445.12 263.75,445.12 264.00,445.12 264.25,445.12 264.50,445.12 264.75,445.12 265.00,445.12 265.25,445.12 265.50,445.12 265.75,445.12 266.00,445.12 266.25,445.12 266.50,445.12 266.75,445.12 267.00,445.12 267.25,445.12 267.50,445.12 267.75,445.12 268.00,445.12 268.25,445.12 268.50,445.12 268.75,445.12 269.00,445.12 269.25,445.12 269.50,445.12 269.75,445.12 270.00,445.12 270.25,445.12 270.50,445.12 270.75,445.12 271.00,445.12 271.25,445.12 271.50,445.12 271.75,445.12 272.00,445.12 272.25,445.12 272.50,445.12 272.75,445.11 273.00,445.05 273.25,444.96 273.50,444.82 273.75,444.65 274.00,444.45 274.25,444.25 274.50,444.05 274.75,443.92 275.00,443.86 275.25,443.89 275.50,443.99 275.75,444.17 276.00,444.37 276.25,444.57 276.50,444.76 276.75,444.91 277.00,445.02 277.25,445.09 277.50,445.12 277.75,445.12 278.00,445.12 278.25,445.12 278.50,445.12 278.75,445.12 279.00,445.12 279.25,445.12 279.50,445.12 279.75,445.12 280.00,445.12 280.25,445.12 280.50,445.12 280.75,445.12 281.00,445.12 281.25,445.12 281.50,445.12 281.75,445.12 282.00,445.12 282.25,445.12 282.50,445.12 282.75,445.12 283.00,445.12 283.25,445.12 283.50,445.12 283.75,445.12 284.00,445.12 284.25,445.12 284.50,445.12 284.75,445.11 285.00,445.05 285.25,444.96 285.50,444.82 285.75,444.65 286.00,444.45 286.25,444.25 286.50,444.05 286.75,443.92 287.00,443.86 287.25,443.89 287.50,443.99 287.75,444.17 288.00,444.37 288.25,444.57 288.50,444.76 288.75,444.91 289.00,445.02 289.25,445.09 289.50,445.12 289.75,445.12 290.00,445.12 290.25,445.12 290.50,445.12 290.75,445.12 291.00,445.12 291.25,445.12 291.50,445.12 291.75,445.12 292.00,445.12 292.25,445.12 292.50,445.12 292.75,445.12 293.00,445.12 293.25,445.12 293.50,445.12 293.75,445.12 294.00,445.12 294.25,445.12 294.50,445.12 294.75,445.12 295.00,445.12 295.25,445.12 295.50,445.12 295.75,445.12 296.00,445.12 296.25,445.12 296.50,445.11 296.75,445.05 297.00,444.96 297.25,444.82 297.50,444.65 297.75,444.45 298.00,444.25 298.25,444.05 298.50,443.92 298.75,443.86 299.00,443.89 299.25,443.99 299.50,444.17 299.75,444.37 300.00,444.57 300.25,444.76 300.50,444.91 300.75,445.02 301.00,445.09 301.25,445.12 301.50,445.12 301.75,445.12 302.00,445.12 302.25,445.12 302.50,445.12 302.75,445.12 303.00,445.12 303.25,445.12 303.50,445.12 303.75,445.12 304.00,445.12 304.25,445.12 304.50,445.12 304.75,445.12 305.00,445.12 305.25,445.12 305.50,445.12 305.75,445.12 306.00,445.12 306.25,445.12 306.50,445.12 306.75,445.12 307.00,445.12 307.25,445.12 307.50,445.12 307.75,445.12 308.00,445.12 308.25,445.12 308.50,445.11 308.75,445.05 309.00,444.96 309.25,444.82 309.50,444.65 309.75,444.45 310.00,444.25 310.25,444.05 310.50,443.92 310.75,443.86 311.00,443.89 311.25,443.99 311.50,444.17 311.75,444.37 312.00,444.57 312.25,444.76 312.50,444.91 312.75,445.02 313.00,445.09 313.25,445.12 313.50,445.12 313.75,445.12 314.00,445.12 314.25,445.12 314.50,445.12 314.75,445.12 315.00,445.12 315.25,445.12 315.50,445.12 315.75,445.12 316.00,445.12 316.25,445.12 316.50,445.12 316.75,445.12 317.00,445.12 317.25,445.12 317.50,445.12 317.75,445.12 318.00,445.12 318.25,445.12 318.50,445.12 318.75,445.12 319.00,445.12 319.25,445.12 319.50,445.12 319.75,445.12 320.00,445.12 320.25,445.12 320.50,445.12 320.75,445.12 321.00,445.12 321.25,445.12 321.50,445.12 321.75,445.12 322.00,445.12 322.25,445.12 322.50,445.12 322.75,445.12 323.00,445.12 323.25,445.12 323.50,445.12 323.75,445.12 324.00,445.12 324.25,445.12 324.50,445.12 324.75,445.12 325.00,445.12 325.25,445.12 325.50,445.12 325.75,445.12 326.00,445.12 326.25,445.12 326.50,445.12 326.75,445.12 327.00,445.12 327.25,445.12 327.50,445.12 327.75,445.12 328.00,445.12 328.25,445.12 328.50,445.12 328.75,445.12 329.00,445.12 329.25,445.12 329.50,445.12 329.75,445.12 330.00,445.12 330.25,445.12 330.50,445.12 330.75,445.12 331.00,445.12 331.25,445.12 331.50,445.12 331.75,445.12 332.00,445.12 332.25,445.12 332.50,445.12 332.75,445.12 333.00,445.12 333.25,445.12 333.50,445.12 333.75,445.12 334.00,445.12 334.25,445.12 334.50,445.12 334.75,445.12 335.00,445.12 335.25,445.12 335.50,445.12 335.75,445.12 336.00,445.12 336.25,445.12 336.50,445.12 336.75,445.12 337.00,445.12 337.25,445.12 337.50,445.12 337.75,445.12 338.00,445.12 338.25,445.12 338.50,445.12 338.75,445.12 339.00,445.12 339.25,445.12 339.50,445.12 339.75,445.12 340.00,445.12 340.25,445.12 340.50,445.12 340.75,445.12 341.00,445.12 341.25,445.12 341.50,445.12 341.75,445.12 342.00,445.12 342.25,445.12 342.50,445.12 342.75,445.12 343.00,445.12 343.25,445.12 343.50,445.12 343.75,445.12 344.00,445.12 344.25,445.12 344.50,445.12 344.75,445.12 345.00,445.12 345.25,445.11 345.50,445.05 345.75,444.96 346.00,444.82 346.25,444.65 346.50,444.45 346.75,444.25 347.00,444.05 347.25,443.92 347.50,443.86 347.75,443.89 348.00,443.99 348.25,444.17 348.50,444.37 348.75,444.57 349.00,444.76 349.25,444.91 349.50,445.02 349.75,445.09 350.00,445.12 350.25,445.12 350.50,445.12 350.75,445.12 351.00,445.12 351.25,445.12 351.50,445.12 351.75,445.12 352.00,445.12 352.25,445.12 352.50,445.12 352.75,445.12 353.00,445.12 353.25,445.12 353.50,445.12 353.75,445.12 354.00,445.12 354.25,445.12 354.50,445.12 354.75,445.12 355.00,445.12 355.25,445.12 355.50,445.12 355.75,445.12 356.00,445.12 356.25,445.12 356.50,445.12 356.75,445.12 357.00,445.12 357.25,445.12 357.50,445.12 357.75,445.12 358.00,445.12 358.25,445.12 358.50,445.12 358.75,445.12 359.00,445.12 359.25,445.12 359.50,445.12 359.75,445.12 360.00,445.12 360.25,445.12 360.50,445.12 360.75,445.12 361.00,445.12 361.25,445.12 361.50,445.12 361.75,445.12 362.00,445.12 362.25,445.12 362.50,445.12 362.75,445.12 363.00,445.12 363.25,445.12 363.50,445.12 363.75,445.12 364.00,445.12 364.25,445.12 364.50,445.12 364.75,445.12 365.00,445.12 365.25,445.12 365.50,445.12 365.75,445.12 366.00,445.12 366.25,445.12 366.50,445.12 366.75,445.12 367.00,445.12 367.25,445.12 367.50,445.12 367.75,445.12 368.00,445.12 368.25,445.12 368.50,445.12 368.75,445.12 369.00,445.12 369.25,445.12 369.50,445.12 369.75,445.12 370.00,445.12 370.25,445.12 370.50,445.12 370.75,445.12 371.00,445.12 371.25,445.12 371.50,445.12 371.75,445.12 372.00,445.12 372.25,445.12 372.50,445.12 372.75,445.12 373.00,445.12 373.25,445.12 373.50,445.12 373.75,445.12 374.00,445.12 374.25,445.12 374.50,445.12 374.75,445.12 375.00,445.12 375.25,445.12 375.50,445.12 375.75,445.12 376.00,445.12 376.25,445.12 376.50,445.12 376.75,445.12 377.00,445.12 377.25,445.12 377.50,445.12 377.75,445.12 378.00,445.12 378.25,445.12 378.50,445.12 378.75,445.12 379.00,445.12 379.25,445.12 379.50,445.12 379.75,445.12 380.00,445.12 380.25,445.12 380.50,445.12 380.75,445.12 381.00,445.12 381.25,445.12 381.50,445.12 381.75,445.12 382.00,445.12 382.25,445.12 382.50,445.12 382.75,445.12 383.00,445.12 383.25,445.12 383.50,445.12 383.75,445.12 384.00,445.12 384.25,445.12 384.50,445.12 384.75,445.12 385.00,445.12 385.25,445.12 385.50,445.12 385.75,445.12 386.00,445.12 386.25,445.12 386.50,445.12 386.75,445.12 387.00,445.12 387.25,445.12 387.50,445.12 387.75,445.12 388.00,445.12 388.25,445.12 388.50,445.12 388.75,445.12 389.00,445.12 389.25,445.12 389.50,445.12 389.75,445.12 390.00,445.12 390.25,445.12 390.50,445.12 390.75,445.12 391.00,445.12 391.25,445.12 391.50,445.12 391.75,445.12 392.00,445.12 392.25,445.12 392.50,445.12 392.75,445.12 393.00,445.12 393.25,445.12 393.50,445.12 393.75,445.12 394.00,445.12 394.25,445.12 394.50,445.12 394.75,445.12 395.00,445.12 395.25,445.12 395.50,445.12 395.75,445.12 396.00,445.12 396.25,445.12 396.50,445.12 396.75,445.12 397.00,445.12 397.25,445.12 397.50,445.12 397.75,445.12 398.00,445.12 398.25,445.12 398.50,445.12 398.75,445.12 399.00,445.12 399.25,445.12 399.50,445.12 399.75,445.12 400.00,445.12 400.25,445.12 400.50,445.12 400.75,445.12 401.00,445.12 401.25,445.12 401.50,445.12 401.75,445.12 402.00,445.12 402.25,445.12 402.50,445.12 402.75,445.12 403.00,445.12 403.25,445.12 403.50,445.12 403.75,445.12 404.00,445.12 404.25,445.12 404.50,445.12 404.75,445.12 405.00,445.12 405.25,445.12 405.50,445.12 405.75,445.12 406.00,445.12 406.25,445.12 406.50,445.12 406.75,445.12 407.00,445.12 407.25,445.12 407.50,445.12 407.75,445.12 408.00,445.12 408.25,445.12 408.50,445.12 408.75,445.12 409.00,445.12 409.25,445.12 409.50,445.12 409.75,445.12 410.00,445.12 410.25,445.12 410.50,445.12 410.75,445.12 411.00,445.12 411.25,445.12 411.50,445.12 411.75,445.12 412.00,445.12 412.25,445.12 412.50,445.12 412.75,445.12 413.00,445.12 413.25,445.12 413.50,445.12 413.75,445.12 414.00,445.12 414.25,445.12 414.50,445.12 414.75,445.12 415.00,445.12 415.25,445.12 415.50,445.12 415.75,445.12 416.00,445.12 416.25,445.12 416.50,445.12 416.75,445.12 417.00,445.12 417.25,445.12 417.50,445.12 417.75,445.12 418.00,445.12 418.25,445.12 418.50,445.12 418.75,445.12 419.00,445.12 419.25,445.12 419.50,445.12 419.75,445.12 420.00,445.12 420.25,445.12 420.50,445.12 420.75,445.12 421.00,445.12 421.25,445.12 421.50,445.12 421.75,445.12 422.00,445.12 422.25,445.12 422.50,445.12 422.75,445.12 423.00,445.12 423.25,445.12 423.50,445.12 423.75,445.12 424.00,445.12 424.25,445.12 424.50,445.12 424.75,445.12 425.00,445.12 425.25,445.12 425.50,445.12 425.75,445.12 426.00,445.12 426.25,445.12 426.50,445.12 426.75,445.12 427.00,445.12 427.25,445.12 427.50,445.12 427.75,445.12 428.00,445.12 428.25,445.12 428.50,445.12 428.75,445.12 429.00,445.12 429.25,445.12 429.50,445.12 429.75,445.12 430.00,445.12 430.25,445.12 430.50,445.12 430.75,445.12 431.00,445.12 431.25,445.12 431.50,445.12 431.75,445.12 432.00,445.12 432.25,445.12 432.50,445.12 432.75,445.12 433.00,445.12 433.25,445.12 433.50,445.12 433.75,445.12 434.00,445.12 434.25,445.12 434.50,445.12 434.75,445.12 435.00,445.12 435.25,445.12 435.50,445.12 435.75,445.12 436.00,445.12 436.25,445.12 436.50,445.12 436.75,445.12 437.00,445.12 437.25,445.12 437.50,445.12 437.75,445.12 438.00,445.12 438.25,445.12 438.50,445.12 438.75,445.12 439.00,445.12 439.25,445.12 439.50,445.12 439.75,445.12 440.00,445.12 440.25,445.12 440.50,445.12 440.75,445.12 441.00,445.12 441.25,445.12 441.50,445.12 441.75,445.12 442.00,445.12 442.25,445.12 442.50,445.12 442.75,445.12 443.00,445.12 443.25,445.12 443.50,445.12 443.75,445.12 444.00,445.12 444.25,445.12 444.50,445.12 444.75,445.12 445.00,445.12 445.25,445.12 445.50,445.12 445.75,445.12 446.00,445.12 446.25,445.12 446.50,445.12 446.75,445.12 447.00,445.12 447.25,445.12 447.50,445.12 447.75,445.12 448.00,445.12 448.25,445.12 448.50,445.12 448.75,445.12 449.00,445.12 449.25,445.12 449.50,445.12 449.75,445.12 450.00,445.12 450.25,445.12 450.50,445.12 450.75,445.12 451.00,445.12 451.25,445.12 451.50,445.12 451.75,445.12 452.00,445.12 452.25,445.12 452.50,445.12 452.75,445.12 453.00,445.12 453.25,445.12 453.50,445.12 453.75,445.11 454.00,445.05 454.25,444.96 454.50,444.82 454.75,444.65 455.00,444.45 455.25,444.25 455.50,444.05 455.75,443.92 456.00,443.86 456.25,443.89 456.50,443.99 456.75,444.17 457.00,444.37 457.25,444.57 457.50,444.76 457.75,444.91 458.00,445.02 458.25,445.09 458.50,445.12 458.75,445.12 459.00,445.12 459.25,445.12 459.50,445.12 459.75,445.12 460.00,445.12 460.25,445.12 460.50,445.12 460.75,445.12 461.00,445.12 461.25,445.12 461.50,445.12 461.75,445.12 462.00,445.12 462.25,445.12 462.50,445.12 462.75,445.12 463.00,445.12 463.25,445.12 463.50,445.12 463.75,445.12 464.00,445.12 464.25,445.12 464.50,445.12 464.75,445.12 465.00,445.12 465.25,445.12 465.50,445.12 465.75,445.12 466.00,445.12 466.25,445.11 466.50,445.05 466.75,444.96 467.00,444.82 467.25,444.65 467.50,444.45 467.75,444.25 468.00,444.05 468.25,443.92 468.50,443.86 468.75,443.89 469.00,443.99 469.25,444.17 469.50,444.37 469.75,444.57 470.00,444.76 470.25,444.91 470.50,445.02 470.75,445.09 471.00,445.12 471.25,445.12 471.50,445.12 471.75,445.12 472.00,445.12 472.25,445.12 472.50,445.12 472.75,445.12 473.00,445.12 473.25,445.12 473.50,445.12 473.75,445.12 474.00,445.12 474.25,445.12 474.50,445.12 474.75,445.12 475.00,445.12 475.25,445.12 475.50,445.12 475.75,445.12 476.00,445.12 476.25,445.12 476.50,445.12 476.75,445.12 477.00,445.12 477.25,445.12 477.50,445.12 477.75,445.12 478.00,445.12 478.25,445.12 478.50,445.12 478.75,445.11 479.00,445.05 479.25,444.96 479.50,444.82 479.75,444.65 480.00,444.45 480.25,444.25 480.50,444.05 480.75,443.92 481.00,443.86 481.25,443.89 481.50,443.99 481.75,444.17 482.00,444.37 482.25,444.57 482.50,444.76 482.75,444.91 483.00,445.02 483.25,445.09 483.50,445.12 483.75,445.12 484.00,445.12 484.25,445.12 484.50,445.12 484.75,445.12 485.00,445.12 485.25,445.12 485.50,445.12 485.75,445.12 486.00,445.12 486.25,445.12 486.50,445.12 486.75,445.12 487.00,445.12 487.25,445.12 487.50,445.12 487.75,445.12 488.00,445.12 488.25,445.12 488.50,445.12 488.75,445.12 489.00,445.12 489.25,445.12 489.50,445.12 489.75,445.12 490.00,445.12 490.25,445.12 490.50,445.12 490.75,445.12 491.00,445.12 491.25,445.12 491.50,445.12 491.75,445.12 492.00,445.12 492.25,445.11 492.50,445.05 492.75,444.96 493.00,444.82 493.25,444.65 493.50,444.45 493.75,444.25 494.00,444.05 494.25,443.92 494.50,443.86 494.75,443.89 495.00,443.99 495.25,444.17 495.50,444.37 495.75,444.57 496.00,444.76 496.25,444.91 496.50,445.02 496.75,445.09 497.00,445.12 497.25,445.12 497.50,445.12 497.75,445.12 498.00,445.12 498.25,445.12 498.50,445.12 498.75,445.12 499.00,445.12 499.25,445.12 499.50,445.12 499.75,445.12 500.00,445.12 500.25,445.12 500.50,445.12 500.75,445.12 501.00,445.12 501.25,445.12 501.50,445.12 501.75,445.12 502.00,445.12 502.25,445.12 502.50,445.12 502.75,445.12 503.00,445.12 503.25,445.12 503.50,445.12 503.75,445.12 504.00,445.12 504.25,445.11 504.50,445.05 504.75,444.96 505.00,444.82 505.25,444.65 505.50,444.45 505.75,444.25 506.00,444.05 506.25,443.92 506.50,443.86 506.75,443.89 507.00,443.99 507.25,444.17 507.50,444.37 507.75,444.57 508.00,444.76 508.25,444.91 508.50,445.02 508.75,445.09 509.00,445.12 509.25,445.12 509.50,445.12 509.75,445.12 510.00,445.12 510.25,445.12 510.50,445.12 510.75,445.12 511.00,445.12 511.25,445.12 511.50,445.12 511.75,445.12 512.00,445.12 512.25,445.12 512.50,445.12 512.75,445.12 513.00,445.12 513.25,445.12 513.50,445.12 513.75,445.12 514.00,445.12 514.25,445.12 514.50,445.12 514.75,445.12 515.00,445.12 515.25,445.12 515.50,445.12 515.75,445.12 516.00,445.12 516.25,445.12 516.50,445.12 516.75,445.12 517.00,445.12 517.25,445.12 517.50,445.12 517.75,445.12 518.00,445.12 518.25,445.12 518.50,445.12 518.75,445.12 519.00,445.12 519.25,445.12 519.50,445.12 519.75,445.12 520.00,445.12 520.25,445.12 520.50,445.12 520.75,445.12 521.00,445.12 521.25,445.12 521.50,445.12 521.75,445.12 522.00,445.12 522.25,445.12 522.50,445.12 522.75,445.12 523.00,445.12 523.25,445.12 523.50,445.12 523.75,445.12 524.00,445.12 524.25,445.12 524.50,445.12 524.75,445.12 525.00,445.12 525.25,445.12 525.50,445.12 525.75,445.12 526.00,445.12 526.25,445.12 526.50,445.12 526.75,445.12 527.00,445.12 527.25,445.12 527.50,445.12 527.75,445.12 528.00,445.12 528.25,445.11 528.50,445.05 528.75,444.96 529.00,444.82 529.25,444.65 529.50,444.45 529.75,444.25 530.00,444.05 530.25,443.92 530.50,443.86 530.75,443.89 531.00,443.99 531.25,444.17 531.50,444.37 531.75,444.57 532.00,444.76 532.25,444.91 532.50,445.02 532.75,445.09 533.00,445.12 533.25,445.12 533.50,445.12 533.75,445.12 534.00,445.12 534.25,445.12 534.50,445.12 534.75,445.12 535.00,445.12 535.25,445.12 535.50,445.12 535.75,445.12 536.00,445.12 536.25,445.12 536.50,445.12 536.75,445.12 537.00,445.12 537.25,445.12 537.50,445.12 537.75,445.12 538.00,445.12 538.25,445.12 538.50,445.12 538.75,445.12 539.00,445.12 539.25,445.12 539.50,445.12 539.75,445.12 540.00,445.12 540.25,445.12 540.50,445.12 540.75,445.12 541.00,445.12 541.25,445.12 541.50,445.12 541.75,445.12 542.00,445.12 542.25,445.12 542.50,445.12 542.75,445.12 543.00,445.12 543.25,445.12 543.50,445.12 543.75,445.12 544.00,445.12 544.25,445.12 544.50,445.12 544.75,445.12 545.00,445.12 545.25,445.12 545.50,445.12 545.75,445.12 546.00,445.12 546.25,445.12 546.50,445.12 546.75,445.12 547.00,445.12 547.25,445.12 547.50,445.12 547.75,445.12 548.00,445.12 548.25,445.12 548.50,445.12 548.75,445.12 549.00,445.12 549.25,445.12 549.50,445.12 549.75,445.12 550.00,445.12 550.25,445.12 550.50,445.12 550.75,445.12 551.00,445.12 551.25,445.12 551.50,445.12 551.75,445.12 552.00,445.12 552.25,445.12 552.50,445.12 552.75,445.12 553.00,445.12 553.25,445.12 553.50,445.12 553.75,445.12 554.00,445.12 554.25,445.12 554.50,445.12 554.75,445.12 555.00,445.12 555.25,445.12 555.50,445.12 555.75,445.12 556.00,445.12 556.25,445.12 556.50,445.12 556.75,445.12 557.00,445.12 557.25,445.12 557.50,445.12 557.75,445.12 558.00,445.12 558.25,445.12 558.50,445.12 558.75,445.12 559.00,445.12 559.25,445.12 559.50,445.12 559.75,445.12 560.00,445.12 560.25,445.12 560.50,445.12 560.75,445.12 561.00,445.12 561.25,445.12 561.50,445.12 561.75,445.12 562.00,445.12 562.25,445.12 562.50,445.12 562.75,445.12 563.00,445.12 563.25,445.12 563.50,445.12 563.75,445.12 564.00,445.11 564.25,445.05 564.50,444.96 564.75,444.82 565.00,444.65 565.25,444.45 565.50,444.25 565.75,444.05 566.00,443.92 566.25,443.86 566.50,443.89 566.75,443.99 567.00,444.17 567.25,444.37 567.50,444.57 567.75,444.76 568.00,444.91 568.25,445.02 568.50,445.09 568.75,445.12 569.00,445.12 569.25,445.12 569.50,445.12 569.75,445.12 570.00,445.12 570.25,445.12 570.50,445.12 570.75,445.12 571.00,445.12 571.25,445.12 571.50,445.12 571.75,445.12 572.00,445.12 572.25,445.12 572.50,445.12 572.75,445.12 573.00,445.12 573.25,445.12 573.50,445.12 573.75,445.12 574.00,445.12 574.25,445.12 574.50,445.12 574.75,445.12 575.00,445.12 575.25,445.12 575.50,445.12 575.75,445.12 576.00,445.12 576.25,445.12 576.50,445.12 576.75,445.12 577.00,445.12 577.25,445.12 577.50,445.12 577.75,445.12 578.00,445.12 578.25,445.12 578.50,445.12 578.75,445.12 579.00,445.12 579.25,445.12 579.50,445.12 579.75,445.12 580.00,445.12 580.25,445.12 580.50,445.12 580.75,445.12 581.00,445.12 581.25,445.12 581.50,445.12 581.75,445.12 582.00,445.12 582.25,445.12 582.50,445.12 582.75,445.12 583.00,445.12 583.25,445.12 583.50,445.12 583.75,445.12 584.00,445.12 584.25,445.12 584.50,445.12 584.75,445.12 585.00,445.12 585.25,445.12 585.50,445.12 585.75,445.12 586.00,445.12 586.25,445.12 586.50,445.12 586.75,445.12 587.00,445.12 587.25,445.12 587.50,445.12 587.75,445.12 588.00,445.12 588.25,445.12 588.50,445.12 588.75,445.12 589.00,445.12 589.25,445.12 589.50,445.12 589.75,445.12 590.00,445.12 590.25,445.12 590.50,445.12 590.75,445.12 591.00,445.12 591.25,445.12 591.50,445.12 591.75,445.12 592.00,445.12 592.25,445.12 592.50,445.12 592.75,445.12 593.00,445.12 593.25,445.12 593.50,445.12 593.75,445.12 594.00,445.12 594.25,445.12 594.50,445.12 594.75,445.12 595.00,445.12 595.25,445.12 595.50,445.12 595.75,445.12 596.00,445.12 596.25,445.12 596.50,445.12 596.75,445.12 597.00,445.12 597.25,445.12 597.50,445.12 597.75,445.12 598.00,445.12 598.25,445.12 598.50,445.12 598.75,445.12 599.00,445.12 599.25,445.12 599.50,445.12 599.75,445.11 600.00,445.05 600.25,444.96 600.50,444.82 600.75,444.65 601.00,444.45 601.25,444.25 601.50,444.05 601.75,443.92 602.00,443.86 602.25,443.89 602.50,443.99 602.75,444.17 603.00,444.37 603.25,444.57 603.50,444.76 603.75,444.91 604.00,445.02 604.25,445.09 604.50,445.12 604.75,445.12 605.00,445.12 605.25,445.12 605.50,445.12 605.75,445.12 606.00,445.12 606.25,445.12 606.50,445.12 606.75,445.12 607.00,445.12 607.25,445.12 607.50,445.12 607.75,445.12 608.00,445.12 608.25,445.12 608.50,445.12 608.75,445.12 609.00,445.12 609.25,445.12 609.50,445.12 609.75,445.12 610.00,445.12 610.25,445.12 610.50,445.12 610.75,445.12 611.00,445.12 611.25,445.12 611.50,445.12 611.75,445.12 612.00,445.12 612.25,445.12 612.50,445.12 612.75,445.12 613.00,445.12 613.25,445.12 613.50,445.12 613.75,445.12 614.00,445.12 614.25,445.12 614.50,445.12 614.75,445.12 615.00,445.12 615.25,445.12 615.50,445.12 615.75,445.12 616.00,445.12 616.25,445.12 616.50,445.12 616.75,445.12 617.00,445.12 617.25,445.12 617.50,445.12 617.75,445.12 618.00,445.12 618.25,445.12 618.50,445.12 618.75,445.12 619.00,445.12 619.25,445.12 619.50,445.12 619.75,445.12 620.00,445.12 620.25,445.12 620.50,445.12 620.75,445.12 621.00,445.12 621.25,445.12 621.50,445.12 621.75,445.12 622.00,445.12 622.25,445.12 622.50,445.12 622.75,445.12 623.00,445.12 623.25,445.12 623.50,445.12 623.75,445.12 624.00,445.12 624.25,445.12 624.50,445.12 624.75,445.12 625.00,445.12 625.25,445.12 625.50,445.12 625.75,445.12 626.00,445.12 626.25,445.11 626.50,445.05 626.75,444.96 627.00,444.82 627.25,444.65 627.50,444.45 627.75,444.25 628.00,444.05 628.25,443.92 628.50,443.86 628.75,443.89 629.00,443.99 629.25,444.17 629.50,444.37 629.75,444.57 630.00,444.76 630.25,444.91 630.50,445.02 630.75,445.09 631.00,445.12 631.25,445.12 631.50,445.12 631.75,445.12 632.00,445.12 632.25,445.12 632.50,445.12 632.75,445.12 633.00,445.12 633.25,445.12 633.50,445.12 633.75,445.12 634.00,445.12 634.25,445.12 634.50,445.12 634.75,445.12 635.00,445.12 635.25,445.12 635.50,445.12 635.75,445.12 636.00,445.12 636.25,445.12 636.50,445.12 636.75,445.12 637.00,445.12 637.25,445.12 637.50,445.12 637.75,445.12 638.00,445.12 638.25,445.12 638.50,445.12 638.75,445.12 639.00,445.12 639.25,445.12 639.50,445.12 639.75,445.12 640.00,445.12 640.25,445.12 640.50,445.12 640.75,445.12 641.00,445.12 641.25,445.12 641.50,445.12 641.75,445.12 642.00,445.12 642.25,445.12 642.50,445.12 642.75,445.12 643.00,445.12 643.25,445.12 643.50,445.12 643.75,445.12 644.00,445.12 644.25,445.12 644.50,445.12 644.75,445.12 645.00,445.12 645.25,445.12 645.50,445.12 645.75,445.12 646.00,445.12 646.25,445.12 646.50,445.12 646.75,445.12 647.00,445.12 647.25,445.12 647.50,444.88 647.75,444.62 648.00,444.33 648.25,444.04 648.50,443.73 648.75,443.68 649.00,443.66 649.25,443.68 649.50,443.74 649.75,443.82 650.00,443.90 650.25,443.97 650.50,444.01 650.75,444.02 651.00,443.98 651.25,444.28 651.50,444.59 651.75,444.90 652.00,445.23 652.25,445.58 652.50,445.58 652.75,445.58 653.00,445.58 653.25,445.58 653.50,445.58 653.75,445.58 654.00,445.58 654.25,445.58 654.50,445.58 654.75,445.19 655.00,444.80 655.25,444.41 655.50,444.03 655.75,443.67 656.00,443.71 656.25,443.78 656.50,443.87 656.75,443.94 657.00,444.00 657.25,444.02 657.50,444.00 657.75,443.95 658.00,443.87 658.25,443.79 658.50,443.71 658.75,443.67 659.00,443.67 659.25,443.70 659.50,443.76 659.75,443.85 660.00,443.93 660.25,443.99 660.50,444.02 660.75,444.01 661.00,443.96 661.25,443.89 661.50,443.80 661.75,443.73 662.00,443.68 662.25,443.66 662.50,444.04 662.75,444.43 663.00,444.82 663.25,445.21 663.50,445.58 663.75,445.58 664.00,445.58 664.25,445.58 664.50,445.58 664.75,445.58 665.00,445.58 665.25,445.58 665.50,445.20 665.75,444.85 666.00,444.51 666.25,444.20 666.50,443.89 666.75,443.96 667.00,444.01 667.25,444.02 667.50,443.99 667.75,443.92 668.00,443.84 668.25,443.76 668.50,443.70 668.75,443.67 669.00,443.67 669.25,443.72 669.50,443.79 669.75,443.87 670.00,443.95 670.25,444.00 670.50,444.02 670.75,444.00 671.00,443.94 671.25,443.86 671.50,443.78 671.75,443.71 672.00,443.67 672.25,443.67 672.50,443.70 672.75,443.77 673.00,443.85 673.25,443.93 673.50,443.99 673.75,444.02 674.00,444.01 674.25,443.96 674.50,443.88 674.75,443.80 675.00,443.72 675.25,443.67 675.50,443.66 675.75,443.69 676.00,443.75 676.25,443.83 676.50,444.22 676.75,444.59 677.00,444.94 677.25,445.27 677.50,445.22 677.75,444.85 678.00,444.46 678.25,444.07 678.50,443.68 678.75,443.66 679.00,443.68 679.25,443.74 679.50,443.82 679.75,443.90 680.00,443.97 680.25,444.01 680.50,444.02 680.75,443.98 681.00,443.92 681.25,443.83 681.50,443.75 681.75,443.69 682.00,443.66 682.25,443.68 682.50,443.72 682.75,443.80 683.00,443.88 683.25,443.96 683.50,444.01 683.75,444.02 684.00,443.99 684.25,443.93 684.50,443.85 684.75,443.77 685.00,443.70 685.25,443.67 685.50,443.67 685.75,443.71 686.00,443.78 686.25,443.86 686.50,443.94 686.75,444.00 687.00,444.02 687.25,444.00 687.50,444.31 687.75,444.61 688.00,444.92 688.25,445.24 688.50,445.58 688.75,445.58 689.00,445.58 689.25,445.58 689.50,445.58 689.75,445.58 690.00,445.58 690.25,445.58 690.50,445.58 690.75,445.58 691.00,445.58 691.25,445.58 691.50,445.58 691.75,445.19 692.00,444.82 692.25,444.47 692.50,444.14 692.75,443.82 693.00,443.91 693.25,443.98 693.50,444.01 693.75,444.02 694.00,443.98 694.25,443.91 694.50,443.83 694.75,443.75 695.00,443.69 695.25,443.66 695.50,443.68 695.75,443.73 696.00,443.80 696.25,443.89 696.50,443.96 696.75,444.01 697.00,444.02 697.25,443.99 697.50,443.93 697.75,443.85 698.00,443.76 698.25,443.70 698.50,443.67 698.75,443.67 699.00,443.71 699.25,443.79 699.50,443.87 699.75,443.95 700.00,444.00 700.25,444.34 700.50,444.66 700.75,444.97 701.00,445.27 701.25,445.58 701.50,445.58 701.75,445.58 702.00,445.58 702.25,445.58 702.50,445.58 702.75,445.58 703.00,445.58 703.25,445.58 703.50,445.58 703.75,445.58 704.00,445.58 704.25,445.58 704.50,445.19 704.75,444.80 705.00,444.41 705.25,444.04 705.50,443.69 705.75,443.75 706.00,443.83 706.25,443.91 706.50,443.98 706.75,444.02 707.00,444.01 707.25,443.97 707.50,443.90 707.75,443.82 708.00,443.74 708.25,443.68 708.50,443.66 708.75,443.68 709.00,443.73 709.25,443.81 709.50,443.90 709.75,443.97 710.00,444.01 710.25,444.02 710.50,443.98 710.75,443.92 711.00,443.84 711.25,443.76 711.50,443.69 711.75,444.04 712.00,444.41 712.25,444.79 712.50,445.19 712.75,445.58 713.00,445.58 713.25,445.58 713.50,445.58 713.75,445.58 714.00,445.58 714.25,445.58 714.50,445.58 714.75,445.58 715.00,445.58 715.25,445.58 715.50,445.58 715.75,445.58 716.00,445.58 716.25,445.58 716.50,445.58 716.75,445.26 717.00,444.92 717.25,444.56 717.50,444.18 717.75,443.79 718.00,443.72 718.25,443.67 718.50,443.66 718.75,443.69 719.00,443.76 719.25,443.84 719.50,443.92 719.75,443.98 720.00,444.02 720.25,444.01 720.50,443.97 720.75,443.90 721.00,443.81 721.25,443.73 721.50,443.68 721.75,443.66 722.00,443.68 722.25,443.74 722.50,443.82 722.75,443.90 723.00,443.97 723.25,444.01 723.50,444.02 723.75,443.98 724.00,443.91 724.25,443.83 724.50,443.75 724.75,444.08 725.00,444.43 725.25,444.80 725.50,445.18 725.75,445.58 726.00,445.58 726.25,445.58 726.50,445.58 726.75,445.58 727.00,445.58 727.25,445.58 727.50,445.58 727.75,445.58 728.00,445.58 728.25,445.58 728.50,445.58 728.75,445.24 729.00,444.91 729.25,444.61 729.50,444.31 729.75,444.00 730.00,444.02 730.25,444.00 730.50,443.95 730.75,443.87 731.00,443.79 731.25,443.71 731.50,443.67 731.75,443.67 732.00,443.70 732.25,443.76 732.50,443.85 732.75,443.93 733.00,443.99 733.25,444.02 733.50,444.01 733.75,443.96 734.00,443.89 734.25,443.80 734.50,443.73 734.75,443.68 735.00,443.66 735.25,443.69 735.50,443.75 735.75,443.83 736.00,443.91 736.25,443.98 736.50,444.02 736.75,444.01 737.00,444.33 737.25,444.63 737.50,444.93 737.75,445.25 738.00,445.58 738.25,445.58 738.50,445.58 738.75,445.24 739.00,444.93 739.25,444.62 739.50,444.32 739.75,444.01 740.00,444.02 740.25,443.99 740.50,443.92 740.75,443.84 741.00,443.76 741.25,443.70 741.50,443.67 741.75,443.67 742.00,443.72 742.25,443.79 742.50,443.87 742.75,443.95 743.00,444.00 743.25,444.02 743.50,444.00 743.75,443.94 744.00,443.86 744.25,443.78 744.50,443.71 744.75,443.67 745.00,443.67 745.25,443.70 745.50,443.77 745.75,443.85 746.00,443.93 746.25,443.99 746.50,444.02 746.75,444.01 747.00,443.96 747.25,443.88 747.50,443.80 747.75,443.72 748.00,444.06 748.25,444.42 748.50,444.80 748.75,445.18 749.00,445.58 749.25,445.58 749.50,445.58 749.75,445.58 750.00,445.58 750.25,445.58 750.50,445.58 750.75,445.58 751.00,445.58 751.25,445.58 751.50,445.58 751.75,445.58 752.00,445.58 752.25,445.58 752.50,445.58 752.75,445.27 753.00,444.96 753.25,444.64 753.50,444.29 753.75,443.92 754.00,443.84 754.25,443.75 754.50,443.69 754.75,443.66 755.00,443.67 755.25,443.72 755.50,443.80 755.75,443.88 756.00,443.96 756.25,444.01 756.50,444.02 756.75,443.99 757.00,443.93 757.25,443.85 757.50,443.77 757.75,443.70 758.00,443.67 758.25,443.67 758.50,443.71 758.75,443.78 759.00,443.86 759.25,443.94 759.50,444.00 759.75,444.02 760.00,444.00 760.25,443.95 760.50,443.87 760.75,443.79 761.00,443.72 761.25,443.67 761.50,443.66 761.75,443.70 762.00,443.76 762.25,443.84 762.50,443.92 762.75,443.99 763.00,444.02 763.25,444.01 763.50,443.97 763.75,443.89 764.00,443.81 764.25,443.73 764.50,443.68 764.75,443.66 765.00,443.69 765.25,443.74 765.50,443.82 765.75,443.91 766.00,443.97 766.25,444.01 766.50,444.02 766.75,443.98 767.00,443.91 767.25,443.83 767.50,443.75 767.75,443.69 768.00,443.66 768.25,443.68 768.50,443.73 768.75,443.80 769.00,443.89 769.25,443.96 769.50,444.01 769.75,444.02 770.00,443.99 770.25,443.93 770.50,443.85 770.75,443.77 771.00,443.70 771.25,443.67 771.50,443.67 771.75,443.71 772.00,444.11 772.25,444.50 772.50,444.87 772.75,445.24 773.00,445.58 773.25,445.58 773.50,445.58 773.75,445.58 774.00,445.58 774.25,445.58 774.50,445.58 774.75,445.58 775.00,445.58 775.25,445.58 775.50,445.58 775.75,445.58 776.00,445.27 776.25,444.95 776.50,444.62 776.75,444.26 777.00,443.89 777.25,443.80 777.50,443.73 777.75,443.68 778.00,443.66 778.25,443.69 778.50,443.75 778.75,443.83 779.00,443.91 779.25,443.98 779.50,444.02 779.75,444.01 780.00,443.97 780.25,443.90 780.50,443.82 780.75,443.74 781.00,443.69 781.25,443.66 781.50,443.68 781.75,443.73 782.00,443.81 782.25,443.89 782.50,443.97 782.75,444.01 783.00,444.02 783.25,443.99 783.50,443.92 783.75,443.84 784.00,443.76 784.25,443.70 784.50,444.04 784.75,444.41 785.00,444.79 785.25,445.19 785.50,445.58 785.75,445.58 786.00,445.58 786.25,445.58 786.50,445.58 786.75,445.58 787.00,445.58 787.25,445.58 787.50,445.58 787.75,445.58 788.00,445.58 788.25,445.58 788.50,445.58 788.75,445.27 789.00,444.97 789.25,444.66 789.50,444.34 789.75,444.00 790.00,443.95 790.25,443.88 790.50,443.79 790.75,443.72 791.00,443.67 791.25,443.66 791.50,443.69 791.75,443.76 792.00,443.84 792.25,443.92 792.50,443.98 792.75,444.02 793.00,444.01 793.25,443.97 793.50,443.90 793.75,443.81 794.00,443.74 794.25,443.68 794.50,443.66 794.75,443.68 795.00,443.74 795.25,443.82 795.50,443.90 795.75,443.97 796.00,444.01 796.25,444.02 796.50,443.98 796.75,443.91 797.00,443.83 797.25,443.75 797.50,443.69 797.75,443.66 798.00,443.68 798.25,443.72 798.50,443.80 798.75,443.88 799.00,443.96 799.25,444.01 799.50,444.02 799.75,443.99 800.00,443.93 800.25,443.85 800.50,443.77 800.75,443.70 801.00,443.67 801.25,443.67 801.50,443.71 801.75,443.78 802.00,443.86 802.25,443.94 802.50,444.00 802.75,444.02 803.00,444.00 803.25,443.95 803.50,443.87 803.75,443.79 804.00,443.72 804.25,443.67 804.50,443.67 804.75,443.70 805.00,443.76 805.25,443.84 805.50,443.93 805.75,443.99 806.00,444.02 806.25,444.01 806.50,443.96 806.75,443.89 807.00,443.81 807.25,443.73 807.50,443.68 807.75,443.66 808.00,443.69 808.25,443.75 808.50,444.14 808.75,444.52 809.00,444.90 809.25,445.25 809.50,445.58 809.75,445.58 810.00,445.58 810.25,445.58 810.50,445.58 810.75,445.58 811.00,445.58 811.25,445.58 811.50,445.24 811.75,444.93 812.00,444.62 812.25,444.32 812.50,444.01 812.75,444.02 813.00,443.99 813.25,443.93 813.50,443.84 813.75,443.76 814.00,443.70 814.25,443.67 814.50,443.67 814.75,443.72 815.00,443.79 815.25,443.87 815.50,443.95 815.75,444.00 816.00,444.02 816.25,444.00 816.50,443.94 816.75,443.86 817.00,443.78 817.25,443.71 817.50,443.67 817.75,443.67 818.00,443.70 818.25,443.77 818.50,443.85 818.75,443.93 819.00,443.99 819.25,444.02 819.50,444.01 819.75,443.96 820.00,443.88 820.25,443.80 820.50,443.72 820.75,443.68 821.00,443.66 821.25,444.04 821.50,444.43 821.75,444.82 822.00,445.21 822.25,445.58 822.50,445.58 822.75,445.58 823.00,445.58 823.25,445.58 823.50,445.58 823.75,445.58 824.00,445.58 824.25,445.58 824.50,445.58 824.75,445.58 825.00,445.58 825.25,445.27 825.50,444.97 825.75,444.66 826.00,444.33 826.25,443.98 826.50,443.92 826.75,443.84 827.00,443.76 827.25,443.69 827.50,443.66 827.75,443.67 828.00,443.72 828.25,443.80 828.50,443.88 828.75,443.95 829.00,444.01 829.25,444.02 829.50,443.99 829.75,443.94 830.00,443.86 830.25,443.77 830.50,443.71 830.75,443.67 831.00,443.67 831.25,443.71 831.50,443.78 831.75,443.86 832.00,443.94 832.25,444.00 832.50,444.34 832.75,444.66 833.00,444.97 833.25,445.27 833.50,445.58 833.75,445.58 834.00,445.58 834.25,445.21 834.50,444.86 834.75,444.53 835.00,444.22 835.25,443.92 835.50,443.99 835.75,444.02 836.00,444.01 836.25,443.97 836.50,443.89 836.75,443.81 837.00,443.73 837.25,443.68 837.50,443.66 837.75,443.69 838.00,443.74 838.25,443.82 838.50,443.90 838.75,443.97 839.00,444.01 839.25,444.02 839.50,443.98 839.75,443.91 840.00,443.83 840.25,443.75 840.50,443.69 840.75,443.66 841.00,443.68 841.25,443.73 841.50,443.80 841.75,443.89 842.00,443.96 842.25,444.01 842.50,444.02 842.75,443.99 843.00,443.93 843.25,443.85 843.50,443.77 843.75,443.70 844.00,443.67 844.25,443.67 844.50,443.71 844.75,443.78 845.00,443.87 845.25,444.25 845.50,444.61 845.75,444.95 846.00,445.27 846.25,445.58 846.50,445.58 846.75,445.58 847.00,445.58 847.25,445.58 847.50,445.58 847.75,445.58 848.00,445.58 848.25,445.58 848.50,445.58 848.75,445.58 849.00,445.58 849.25,445.58 849.50,445.58 849.75,445.58 850.00,445.19 850.25,444.80 850.50,444.41 850.75,444.04 851.00,443.69 851.25,443.75 851.50,443.83 851.75,443.91 852.00,443.98 852.25,444.02 852.50,444.01 852.75,443.97 853.00,443.90 853.25,443.82 853.50,443.74 853.75,443.69 854.00,443.66 854.25,443.68 854.50,443.73 854.75,443.81 855.00,443.89 855.25,443.97 855.50,444.01 855.75,444.02 856.00,443.99 856.25,443.92 856.50,443.84 856.75,443.76 857.00,443.70 857.25,444.04 857.50,444.41 857.75,444.79 858.00,445.19 858.25,445.58 858.50,445.58 858.75,445.58 859.00,445.58 859.25,445.58 859.50,445.58 859.75,445.58 860.00,445.19 860.25,444.79 860.50,444.41 860.75,444.05 861.00,443.71 861.25,443.77 861.50,443.86 861.75,443.94 862.00,443.99 862.25,444.02 862.50,444.01 862.75,443.95 863.00,443.88 863.25,443.79 863.50,443.72 863.75,443.67 864.00,443.66 864.25,443.69 864.50,443.76 864.75,443.84 865.00,443.92 865.25,443.98 865.50,444.02 865.75,444.01 866.00,443.97 866.25,443.90 866.50,443.81 866.75,443.74 867.00,443.68 867.25,443.66 867.50,443.68 867.75,443.74 868.00,443.82 868.25,443.90 868.50,443.97 868.75,444.01 869.00,444.02 869.25,443.98 869.50,443.92 869.75,443.83 870.00,444.14 870.25,444.47 870.50,444.82 870.75,445.19 871.00,445.58 871.25,445.58 871.50,445.58 871.75,445.58 872.00,445.58 872.25,445.58 872.50,445.58 872.75,445.58 873.00,445.58 873.25,445.58 873.50,445.58 873.75,445.20 874.00,444.83 874.25,444.49 874.50,444.17 874.75,443.86 875.00,443.94 875.25,444.00 875.50,444.02 875.75,444.00 876.00,443.95 876.25,443.87 876.50,443.79 876.75,443.72 877.00,443.67 877.25,443.67 877.50,443.70 877.75,443.76 878.00,443.84 878.25,443.93 878.50,443.99 878.75,444.02 879.00,444.01 879.25,443.96 879.50,443.89 879.75,443.81 880.00,443.73 880.25,443.68 880.50,443.66 880.75,444.04 881.00,444.43 881.25,444.82 881.50,445.21 881.75,445.58 882.00,445.58 882.25,445.58 882.50,445.58 882.75,445.58 883.00,445.58 883.25,445.58 883.50,445.58 883.75,445.58 884.00,445.58 884.25,445.58 884.50,445.58 884.75,445.58 885.00,445.58 885.25,445.58 885.50,445.25 885.75,444.90 886.00,444.54 886.25,444.15 886.50,443.76 886.75,443.70 887.00,443.67 887.25,443.67 887.50,443.72 887.75,443.79 888.00,443.87 888.25,443.95 888.50,444.00 888.75,444.02 889.00,444.00 889.25,443.94 889.50,443.86 889.75,443.78 890.00,443.71 890.25,443.67 890.50,443.67 890.75,443.70 891.00,443.77 891.25,443.85 891.50,443.93 891.75,443.99 892.00,444.02 892.25,444.01 892.50,443.96 892.75,443.88 893.00,443.80 893.25,443.72 893.50,443.68 893.75,443.66 894.00,443.69 894.25,444.08 894.50,444.47 894.75,444.86 895.00,445.23 895.25,445.58 895.50,445.58 895.75,445.58 896.00,445.58 896.25,445.58 896.50,445.58 896.75,445.58 897.00,445.58 897.25,445.58 897.50,445.58 897.75,445.58 898.00,445.58 898.25,445.58 898.50,445.58 898.75,445.58 899.00,445.23 899.25,444.86 899.50,444.48 899.75,444.09 900.00,443.71 900.00,462.00 899.50,462.00 898.00,458.00 895.00,458.00 894.50,464.00 894.20,468.00 894.05,513.10 893.60,514.50 891.00,514.50 890.55,513.10 890.40,469.00 888.50,468.00 884.50,458.00 884.00,448.50 882.00,448.50 881.50,458.00 880.50,468.00 876.50,468.00 873.00,458.00 872.50,448.50 871.50,448.50 870.50,461.00 869.50,468.50 863.50,468.50 861.00,462.00 858.00,460.00 856.50,469.00 852.50,469.00 850.00,460.00 849.50,451.00 848.50,451.00 846.00,460.00 844.50,469.00 839.00,469.00 836.00,463.00 833.00,460.00 832.00,468.00 828.00,468.00 824.50,458.00 824.00,448.50 821.80,448.50 821.50,462.00 821.20,468.00 821.05,513.10 820.60,514.50 818.50,514.50 818.05,513.10 817.90,469.00 815.00,464.00 810.00,460.00 809.90,461.00 809.00,461.00 808.20,468.00 808.05,513.10 807.60,514.50 803.00,514.50 802.55,513.10 802.40,469.00 800.00,462.00 796.50,462.00 796.20,468.00 796.05,513.10 795.60,514.50 792.50,514.50 792.05,513.10 791.90,469.00 791.00,468.00 788.50,459.50 785.00,459.50 784.00,469.00 779.00,469.00 776.50,462.00 776.00,449.00 773.00,449.00 772.50,459.00 771.70,468.00 771.55,513.10 771.10,514.50 766.50,514.50 766.05,513.10 765.90,469.00 763.00,464.00 761.00,462.00 760.70,468.00 760.55,513.10 760.10,514.50 755.50,514.50 755.05,513.10 754.90,469.00 753.00,461.00 750.00,458.00 749.90,458.00 748.50,458.00 748.20,468.00 748.05,513.10 747.60,514.50 740.50,514.50 740.05,513.10 739.90,469.00 739.00,461.00 736.00,462.00 735.70,468.00 735.55,513.10 735.10,514.50 732.00,514.50 731.55,513.10 731.40,469.00 729.00,461.00 726.00,459.00 723.50,466.00 723.20,468.00 723.05,513.10 722.60,514.50 719.00,514.50 718.55,513.10 718.40,469.00 717.00,460.50 712.20,460.50 712.20,468.00 712.05,513.10 711.60,514.50 708.50,514.50 708.05,513.10 707.90,469.00 704.00,459.50 701.00,460.00 699.50,466.00 699.20,468.00 699.05,513.10 698.60,514.50 694.50,514.50 694.05,513.10 693.90,469.00 692.00,461.00 689.00,458.00 687.50,463.00 687.20,468.00 687.05,513.10 686.60,514.50 682.50,514.50 682.05,513.10 681.90,469.00 678.50,462.00 677.00,461.00 675.00,468.00 674.70,468.00 674.55,513.10 674.10,514.50 670.50,514.50 670.05,513.10 669.90,469.00 668.00,465.00 664.50,459.50 663.00,459.50 662.50,468.00 660.00,468.50 659.90,468.50 657.50,469.50 654.50,459.50 652.00,459.50 650.00,469.00 645.00,469.50 642.00,461.50 639.00,461.50 637.00,469.50 633.50,469.50 632.00,460.00 631.00,448.50 629.50,448.50 629.00,458.00 627.00,469.00 621.50,469.50 618.50,462.50 615.00,462.50 614.00,469.00 610.00,469.50 606.50,460.00 605.50,448.50 603.00,448.50 602.50,458.00 601.50,469.50 598.00,469.50 594.50,459.50 590.50,459.50 589.50,469.50 585.50,469.50 584.00,464.00 580.00,462.00 579.90,462.00 578.00,469.00 573.00,469.50 569.50,460.00 569.00,448.50 567.50,448.50 566.50,461.00 564.50,469.50 560.00,469.50 559.00,460.50 554.00,460.50 552.50,469.00 548.00,469.50 546.00,459.50 543.00,459.50 541.00,469.00 537.50,469.50 534.50,457.00 534.00,448.50 531.50,448.50 531.00,458.00 529.00,469.50 524.50,470.00 523.00,459.50 520.00,459.50 517.50,469.00 513.00,469.50 509.50,460.00 509.00,448.50 507.50,448.50 507.00,458.00 505.00,469.50 502.50,469.50 497.00,458.00 496.50,448.50 495.50,448.50 495.00,458.00 493.00,466.50 489.50,466.50 485.00,460.00 484.50,448.50 482.00,448.50 481.50,466.00 480.00,467.00 479.90,467.00 473.00,458.00 472.50,448.50 469.50,448.50 469.00,464.50 467.00,464.50 462.50,458.00 462.00,448.50 457.00,448.50 456.50,469.50 453.50,469.50 449.50,458.00 448.50,456.00 444.00,469.50 440.00,469.50 436.50,458.00 436.00,448.50 433.50,448.50 432.00,469.50 428.50,469.50 425.50,458.00 425.00,448.50 424.00,448.50 420.00,469.50 417.50,469.50 413.50,460.00 412.50,448.50 410.00,448.50 408.00,469.00 403.00,469.00 400.00,458.00 399.50,448.50 398.50,448.50 395.50,469.50 392.50,469.50 388.00,458.00 387.50,448.50 385.50,448.50 383.00,470.00 380.00,470.00 379.90,469.00 376.00,458.00 374.50,448.50 373.50,448.50 372.00,469.00 367.00,469.00 362.00,453.00 361.00,453.00 360.00,466.50 356.50,466.50 352.00,458.00 351.00,448.50 348.50,448.50 348.00,463.50 342.00,463.00 341.00,448.50 337.00,448.50 334.50,469.00 328.00,469.00 327.00,454.00 324.00,454.00 323.50,469.00 317.00,468.00 316.00,448.50 312.00,448.50 311.00,469.50 306.50,469.50 302.50,458.00 301.00,448.50 300.00,448.50 299.00,469.00 295.50,469.00 292.50,458.00 292.00,448.50 288.00,448.50 287.50,463.00 285.00,469.00 280.00,469.00 279.90,467.00 278.00,458.00 277.50,448.50 276.00,448.50 275.50,469.00 270.00,469.00 265.00,460.00 263.00,460.00 262.00,470.00 258.00,470.00 255.50,458.00 255.00,448.50 254.00,448.50 251.50,469.50 247.50,469.50 243.50,458.00 243.00,448.50 240.00,448.50 239.50,466.00 234.50,466.00 232.50,458.00 232.00,448.50 228.00,448.50 227.00,469.00 223.00,469.00 220.00,458.00 219.50,448.50 215.50,448.50 215.00,469.50 211.00,469.50 207.00,456.00 206.50,448.50 204.00,448.50 203.50,470.00 198.50,470.00 195.00,458.00 194.50,448.50 190.50,448.50 190.00,469.00 185.00,469.00 184.90,467.00 182.70,461.00 182.60,448.50 178.10,448.50 178.00,463.20 173.50,463.20 172.30,450.00 172.10,447.80 169.10,447.80 169.00,457.00 166.50,468.40 162.10,468.40 162.00,461.00 157.20,458.30 157.10,449.90 155.70,449.90 155.60,468.40 153.90,468.40 153.60,512.30 151.40,512.30 151.10,468.40 149.10,468.40 149.00,461.80 145.00,460.40 144.20,459.00 144.10,449.90 142.80,449.90 142.60,496.00 142.00,496.00 141.60,566.40 138.30,566.40 138.00,475.80 135.00,473.00 133.00,459.00 132.90,449.90 132.20,449.90 131.80,466.00 131.30,496.00 131.00,501.70 128.60,501.70 128.40,527.00 127.80,527.00 127.30,566.40 125.00,566.40" fill="#1f77b4"/>
</g>
<line x1="173.50" x2="173.50" y1="571.50" y2="574.40" stroke="#000" stroke-width="0.833"/>
<line x1="234.50" x2="234.50" y1="571.50" y2="576.50" stroke="#000" stroke-width="1.111"/>
<text x="233.97" y="591.23" text-anchor="middle" font-size="13.889">1960</text>
<line x1="295.50" x2="295.50" y1="571.50" y2="574.40" stroke="#000" stroke-width="0.833"/>
<line x1="355.50" x2="355.50" y1="571.50" y2="576.50" stroke="#000" stroke-width="1.111"/>
<text x="355.08" y="591.23" text-anchor="middle" font-size="13.889">1970</text>
<line x1="416.50" x2="416.50" y1="571.50" y2="574.40" stroke="#000" stroke-width="0.833"/>
<line x1="476.50" x2="476.50" y1="571.50" y2="576.50" stroke="#000" stroke-width="1.111"/>
<text x="476.16" y="591.23" text-anchor="middle" font-size="13.889">1980</text>
<line x1="537.50" x2="537.50" y1="571.50" y2="574.40" stroke="#000" stroke-width="0.833"/>
<line x1="597.50" x2="597.50" y1="571.50" y2="576.50" stroke="#000" stroke-width="1.111"/>
<text x="597.28" y="591.23" text-anchor="middle" font-size="13.889">1990</text>
<line x1="658.50" x2="658.50" y1="571.50" y2="574.40" stroke="#000" stroke-width="0.833"/>
<line x1="718.50" x2="718.50" y1="571.50" y2="576.50" stroke="#000" stroke-width="1.111"/>
<text x="718.36" y="591.23" text-anchor="middle" font-size="13.889">2000</text>
<line x1="779.50" x2="779.50" y1="571.50" y2="574.40" stroke="#000" stroke-width="0.833"/>
<line x1="839.50" x2="839.50" y1="571.50" y2="576.50" stroke="#000" stroke-width="1.111"/>
<text x="839.47" y="591.23" text-anchor="middle" font-size="13.889">2010</text>
<line x1="125.50" x2="125.50" y1="571.50" y2="576.50" stroke="#000" stroke-width="1.111"/>
<line x1="900.50" x2="900.50" y1="571.50" y2="576.50" stroke="#000" stroke-width="1.111"/>
<line x1="120.1" x2="125.5" y1="565.50" y2="565.50" stroke="#000" stroke-width="1.111"/>
<text x="114.9" y="570.41" text-anchor="end" font-size="13.889">0.0</text>
<line x1="120.1" x2="125.5" y1="528.50" y2="528.50" stroke="#000" stroke-width="1.111"/>
<text x="114.9" y="532.70" text-anchor="end" font-size="13.889">2.5</text>
<line x1="120.1" x2="125.5" y1="490.50" y2="490.50" stroke="#000" stroke-width="1.111"/>
<text x="114.9" y="494.98" text-anchor="end" font-size="13.889">5.0</text>
<line x1="120.1" x2="125.5" y1="452.50" y2="452.50" stroke="#000" stroke-width="1.111"/>
<text x="114.9" y="457.27" text-anchor="end" font-size="13.889">7.5</text>
<text transform="translate(84.0,506.45) rotate(-90)" text-anchor="middle" letter-spacing="-0.13" font-size="13.889">fieldmax</text>
<rect x="125.5" y="439.50" width="775.0" height="132.00" fill="none" stroke="#000" stroke-width="1.111"/>
<g clip-path="url(#c3)">
<clipPath id="c3"><rect x="125.0" y="597.93" width="775.0" height="132.76"/></clipPath>
<line x1="125.0" x2="900.0" y1="664.31" y2="664.31" stroke="#1f77b4" stroke-width="2.083"/>
</g>
<line x1="173.50" x2="173.50" y1="731.50" y2="734.40" stroke="#000" stroke-width="0.833"/>
<line x1="234.50" x2="234.50" y1="731.50" y2="736.50" stroke="#000" stroke-width="1.111"/>
<text x="233.97" y="750.54" text-anchor="middle" font-size="13.889">1960</text>
<line x1="295.50" x2="295.50" y1="731.50" y2="734.40" stroke="#000" stroke-width="0.833"/>
<line x1="355.50" x2="355.50" y1="731.50" y2="736.50" stroke="#000" stroke-width="1.111"/>
<text x="355.08" y="750.54" text-anchor="middle" font-size="13.889">1970</text>
<line x1="416.50" x2="416.50" y1="731.50" y2="734.40" stroke="#000" stroke-width="0.833"/>
<line x1="476.50" x2="476.50" y1="731.50" y2="736.50" stroke="#000" stroke-width="1.111"/>
<text x="476.16" y="750.54" text-anchor="middle" font-size="13.889">1980</text>
<line x1="537.50" x2="537.50" y1="731.50" y2="734.40" stroke="#000" stroke-width="0.833"/>
<line x1="597.50" x2="597.50" y1="731.50" y2="736.50" stroke="#000" stroke-width="1.111"/>
<text x="597.28" y="750.54" text-anchor="middle" font-size="13.889">1990</text>
<line x1="658.50" x2="658.50" y1="731.50" y2="734.40" stroke="#000" stroke-width="0.833"/>
<line x1="718.50" x2="718.50" y1="731.50" y2="736.50" stroke="#000" stroke-width="1.111"/>
<text x="718.36" y="750.54" text-anchor="middle" font-size="13.889">2000</text>
<line x1="779.50" x2="779.50" y1="731.50" y2="734.40" stroke="#000" stroke-width="0.833"/>
<line x1="839.50" x2="839.50" y1="731.50" y2="736.50" stroke="#000" stroke-width="1.111"/>
<text x="839.47" y="750.54" text-anchor="middle" font-size="13.889">2010</text>
<line x1="125.50" x2="125.50" y1="731.50" y2="736.50" stroke="#000" stroke-width="1.111"/>
<line x1="900.50" x2="900.50" y1="731.50" y2="736.50" stroke="#000" stroke-width="1.111"/>
<line x1="120.1" x2="125.5" y1="715.50" y2="715.50" stroke="#000" stroke-width="1.111"/>
<text x="114.9" y="720.38" text-anchor="end" font-size="13.889">160000</text>
<line x1="120.1" x2="125.5" y1="679.50" y2="679.50" stroke="#000" stroke-width="1.111"/>
<text x="114.9" y="684.26" text-anchor="end" font-size="13.889">165000</text>
<line x1="120.1" x2="125.5" y1="643.50" y2="643.50" stroke="#000" stroke-width="1.111"/>
<text x="114.9" y="648.14" text-anchor="end" font-size="13.889">170000</text>
<line x1="120.1" x2="125.5" y1="607.50" y2="607.50" stroke="#000" stroke-width="1.111"/>
<text x="114.9" y="612.02" text-anchor="end" font-size="13.889">175000</text>
<text transform="translate(54.0,666.85) rotate(-90)" text-anchor="middle" letter-spacing="-0.13" font-size="13.889">nummasked</text>
<rect x="125.5" y="598.50" width="775.0" height="133.00" fill="none" stroke="#000" stroke-width="1.111"/>
<g clip-path="url(#c4)">
<clipPath id="c4"><rect x="125.0" y="757.24" width="775.0" height="132.76"/></clipPath>
<line x1="125.0" x2="900.0" y1="823.62" y2="823.62" stroke="#1f77b4" stroke-width="2.083"/>
</g>
<line x1="173.50" x2="173.50" y1="890.50" y2="893.40" stroke="#000" stroke-width="0.833"/>
<line x1="234.50" x2="234.50" y1="890.50" y2="895.50" stroke="#000" stroke-width="1.111"/>
<text x="233.97" y="909.85" text-anchor="middle" font-size="13.889">1960</text>
<line x1="295.50" x2="295.50" y1="890.50" y2="893.40" stroke="#000" stroke-width="0.833"/>
<line x1="355.50" x2="355.50" y1="890.50" y2="895.50" stroke="#000" stroke-width="1.111"/>
<text x="355.08" y="909.85" text-anchor="middle" font-size="13.889">1970</text>
<line x1="416.50" x2="416.50" y1="890.50" y2="893.40" stroke="#000" stroke-width="0.833"/>
<line x1="476.50" x2="476.50" y1="890.50" y2="895.50" stroke="#000" stroke-width="1.111"/>
<text x="476.16" y="909.85" text-anchor="middle" font-size="13.889">1980</text>
<line x1="537.50" x2="537.50" y1="890.50" y2="893.40" stroke="#000" stroke-width="0.833"/>
<line x1="597.50" x2="597.50" y1="890.50" y2="895.50" stroke="#000" stroke-width="1.111"/>
<text x="597.28" y="909.85" text-anchor="middle" font-size="13.889">1990</text>
<line x1="658.50" x2="658.50" y1="890.50" y2="893.40" stroke="#000" stroke-width="0.833"/>
<line x1="718.50" x2="718.50" y1="890.50" y2="895.50" stroke="#000" stroke-width="1.111"/>
<text x="718.36" y="909.85" text-anchor="middle" font-size="13.889">2000</text>
<line x1="779.50" x2="779.50" y1="890.50" y2="893.40" stroke="#000" stroke-width="0.833"/>
<line x1="839.50" x2="839.50" y1="890.50" y2="895.50" stroke="#000" stroke-width="1.111"/>
<text x="839.47" y="909.85" text-anchor="middle" font-size="13.889">2010</text>
<line x1="125.50" x2="125.50" y1="890.50" y2="895.50" stroke="#000" stroke-width="1.111"/>
<line x1="900.50" x2="900.50" y1="890.50" y2="895.50" stroke="#000" stroke-width="1.111"/>
<line x1="120.1" x2="125.5" y1="884.50" y2="884.50" stroke="#000" stroke-width="1.111"/>
<text x="114.9" y="889.04" text-anchor="end" font-size="13.889">−0.05</text>
<line x1="120.1" x2="125.5" y1="824.50" y2="824.50" stroke="#000" stroke-width="1.111"/>
<text x="114.9" y="828.69" text-anchor="end" font-size="13.889">0.00</text>
<line x1="120.1" x2="125.5" y1="763.50" y2="763.50" stroke="#000" stroke-width="1.111"/>
<text x="114.9" y="768.35" text-anchor="end" font-size="13.889">0.05</text>
<text transform="translate(64.0,825.95) rotate(-90)" text-anchor="middle" letter-spacing="-0.13" font-size="13.889">numnan</text>
<rect x="125.5" y="757.50" width="775.0" height="133.00" fill="none" stroke="#000" stroke-width="1.111"/>
<text x="512.25" y="111.67" text-anchor="middle" textLength="591.1" lengthAdjust="spacing" font-size="16.667">mrsfl, lev=0.0109999999403953, 19510101T0600 to 20141231T1800</text>
<text x="512.0" y="929.8" text-anchor="middle" font-size="13.889">validtime</text>
</svg>
</body></html>
